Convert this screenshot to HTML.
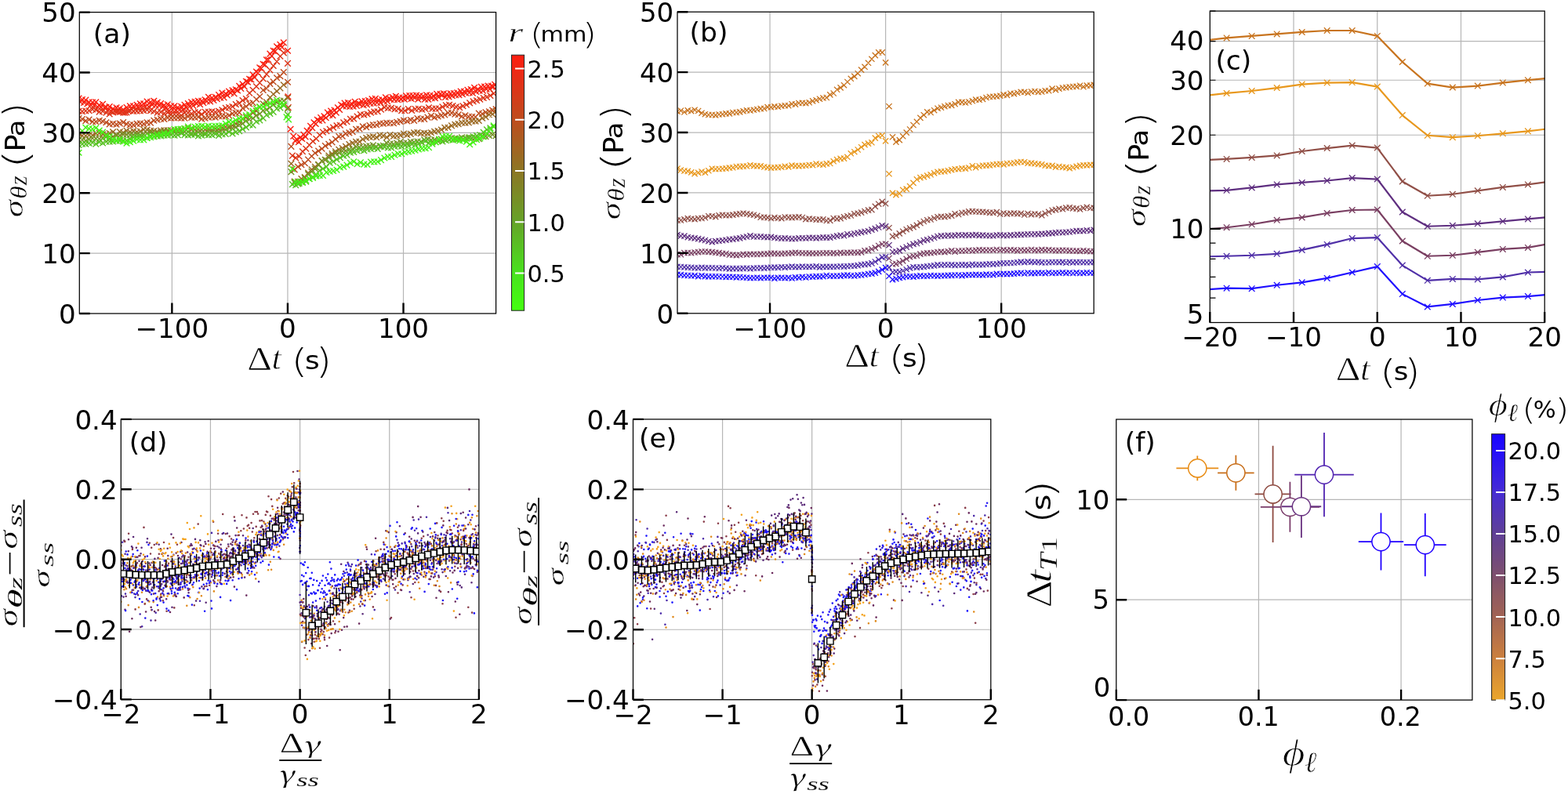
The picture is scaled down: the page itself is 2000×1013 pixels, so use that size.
<!DOCTYPE html><html><head><meta charset="utf-8"><title>Figure</title><style>html,body{margin:0;padding:0;background:#fff}svg{display:block}text{font-kerning:none}</style></head><body>
<svg width="2000" height="1013" viewBox="0 0 2000 1013">
<rect width="2000" height="1013" fill="#fff"/>
<defs>
<clipPath id="cA"><rect x="101.30" y="15.60" width="531.30" height="384.40"/></clipPath>
<clipPath id="cB"><rect x="864.00" y="15.20" width="531.20" height="384.60"/></clipPath>
<clipPath id="cC"><rect x="1543.30" y="14.10" width="426.90" height="397.40"/></clipPath>
<clipPath id="cD"><rect x="154.30" y="534.90" width="456.60" height="357.50"/></clipPath>
<clipPath id="cE"><rect x="807.50" y="534.90" width="456.30" height="357.80"/></clipPath>
<clipPath id="cF"><rect x="1423.80" y="535.00" width="454.10" height="358.10"/></clipPath>
</defs>
<path d="M219.37 15.60V400.00M366.95 15.60V400.00M514.53 15.60V400.00M101.30 323.12H632.60M101.30 246.24H632.60M101.30 169.36H632.60M101.30 92.48H632.60" stroke="#b6b6b6" stroke-width="1.2" fill="none"/>
<g clip-path="url(#cA)">
<path d="M98.9 126.3l7.6 7.6m0 -7.6l-7.6 7.6M103.3 127.1l7.6 7.6m0 -7.6l-7.6 7.6M107.6 128.7l7.6 7.6m0 -7.6l-7.6 7.6M112.0 130.3l7.6 7.6m0 -7.6l-7.6 7.6M116.3 131.0l7.6 7.6m0 -7.6l-7.6 7.6M120.7 132.6l7.6 7.6m0 -7.6l-7.6 7.6M125.0 133.2l7.6 7.6m0 -7.6l-7.6 7.6M129.4 133.6l7.6 7.6m0 -7.6l-7.6 7.6M133.7 136.9l7.6 7.6m0 -7.6l-7.6 7.6M138.1 138.6l7.6 7.6m0 -7.6l-7.6 7.6M142.4 138.0l7.6 7.6m0 -7.6l-7.6 7.6M146.8 138.3l7.6 7.6m0 -7.6l-7.6 7.6M151.1 138.7l7.6 7.6m0 -7.6l-7.6 7.6M155.5 139.8l7.6 7.6m0 -7.6l-7.6 7.6M159.9 137.9l7.6 7.6m0 -7.6l-7.6 7.6M164.2 135.7l7.6 7.6m0 -7.6l-7.6 7.6M168.6 136.1l7.6 7.6m0 -7.6l-7.6 7.6M172.9 133.8l7.6 7.6m0 -7.6l-7.6 7.6M177.3 134.0l7.6 7.6m0 -7.6l-7.6 7.6M181.6 132.6l7.6 7.6m0 -7.6l-7.6 7.6M186.0 132.2l7.6 7.6m0 -7.6l-7.6 7.6M190.3 129.9l7.6 7.6m0 -7.6l-7.6 7.6M194.7 130.7l7.6 7.6m0 -7.6l-7.6 7.6M199.0 130.8l7.6 7.6m0 -7.6l-7.6 7.6M203.4 132.5l7.6 7.6m0 -7.6l-7.6 7.6M207.7 134.4l7.6 7.6m0 -7.6l-7.6 7.6M212.1 137.6l7.6 7.6m0 -7.6l-7.6 7.6M216.5 136.6l7.6 7.6m0 -7.6l-7.6 7.6M220.8 137.1l7.6 7.6m0 -7.6l-7.6 7.6M225.2 136.5l7.6 7.6m0 -7.6l-7.6 7.6M229.5 136.2l7.6 7.6m0 -7.6l-7.6 7.6M233.9 133.4l7.6 7.6m0 -7.6l-7.6 7.6M238.2 132.1l7.6 7.6m0 -7.6l-7.6 7.6M242.6 131.1l7.6 7.6m0 -7.6l-7.6 7.6M246.9 128.4l7.6 7.6m0 -7.6l-7.6 7.6M251.3 129.3l7.6 7.6m0 -7.6l-7.6 7.6M255.6 127.5l7.6 7.6m0 -7.6l-7.6 7.6M260.0 125.5l7.6 7.6m0 -7.6l-7.6 7.6M264.3 125.7l7.6 7.6m0 -7.6l-7.6 7.6M268.7 124.1l7.6 7.6m0 -7.6l-7.6 7.6M273.1 122.5l7.6 7.6m0 -7.6l-7.6 7.6M277.4 121.0l7.6 7.6m0 -7.6l-7.6 7.6M281.8 120.6l7.6 7.6m0 -7.6l-7.6 7.6M286.1 117.7l7.6 7.6m0 -7.6l-7.6 7.6M290.5 114.7l7.6 7.6m0 -7.6l-7.6 7.6M294.8 115.6l7.6 7.6m0 -7.6l-7.6 7.6M299.2 111.6l7.6 7.6m0 -7.6l-7.6 7.6M303.5 109.1l7.6 7.6m0 -7.6l-7.6 7.6M307.9 106.6l7.6 7.6m0 -7.6l-7.6 7.6M312.2 100.8l7.6 7.6m0 -7.6l-7.6 7.6M316.6 97.7l7.6 7.6m0 -7.6l-7.6 7.6M320.9 94.9l7.6 7.6m0 -7.6l-7.6 7.6M325.3 89.2l7.6 7.6m0 -7.6l-7.6 7.6M329.6 83.5l7.6 7.6m0 -7.6l-7.6 7.6M334.0 78.7l7.6 7.6m0 -7.6l-7.6 7.6M338.4 72.4l7.6 7.6m0 -7.6l-7.6 7.6M342.7 67.7l7.6 7.6m0 -7.6l-7.6 7.6M347.1 61.6l7.6 7.6m0 -7.6l-7.6 7.6M351.4 57.4l7.6 7.6m0 -7.6l-7.6 7.6M355.8 56.5l7.6 7.6m0 -7.6l-7.6 7.6M372.7 175.8l7.6 7.6m0 -7.6l-7.6 7.6M377.1 177.3l7.6 7.6m0 -7.6l-7.6 7.6M381.5 173.2l7.6 7.6m0 -7.6l-7.6 7.6M385.8 170.7l7.6 7.6m0 -7.6l-7.6 7.6M390.2 164.9l7.6 7.6m0 -7.6l-7.6 7.6M394.5 159.4l7.6 7.6m0 -7.6l-7.6 7.6M398.9 154.2l7.6 7.6m0 -7.6l-7.6 7.6M403.2 150.2l7.6 7.6m0 -7.6l-7.6 7.6M407.6 149.6l7.6 7.6m0 -7.6l-7.6 7.6M411.9 146.5l7.6 7.6m0 -7.6l-7.6 7.6M416.3 142.8l7.6 7.6m0 -7.6l-7.6 7.6M420.6 143.3l7.6 7.6m0 -7.6l-7.6 7.6M425.0 139.9l7.6 7.6m0 -7.6l-7.6 7.6M429.3 136.2l7.6 7.6m0 -7.6l-7.6 7.6M433.7 131.6l7.6 7.6m0 -7.6l-7.6 7.6M438.0 131.6l7.6 7.6m0 -7.6l-7.6 7.6M442.4 132.2l7.6 7.6m0 -7.6l-7.6 7.6M446.8 131.8l7.6 7.6m0 -7.6l-7.6 7.6M451.1 131.1l7.6 7.6m0 -7.6l-7.6 7.6M455.5 129.0l7.6 7.6m0 -7.6l-7.6 7.6M459.8 130.3l7.6 7.6m0 -7.6l-7.6 7.6M464.2 129.6l7.6 7.6m0 -7.6l-7.6 7.6M468.5 128.2l7.6 7.6m0 -7.6l-7.6 7.6M472.9 127.8l7.6 7.6m0 -7.6l-7.6 7.6M477.2 127.1l7.6 7.6m0 -7.6l-7.6 7.6M481.6 127.1l7.6 7.6m0 -7.6l-7.6 7.6M485.9 125.4l7.6 7.6m0 -7.6l-7.6 7.6M490.3 125.3l7.6 7.6m0 -7.6l-7.6 7.6M494.6 123.2l7.6 7.6m0 -7.6l-7.6 7.6M499.0 123.2l7.6 7.6m0 -7.6l-7.6 7.6M503.4 123.3l7.6 7.6m0 -7.6l-7.6 7.6M507.7 122.4l7.6 7.6m0 -7.6l-7.6 7.6M512.1 123.0l7.6 7.6m0 -7.6l-7.6 7.6M516.4 121.4l7.6 7.6m0 -7.6l-7.6 7.6M520.8 122.1l7.6 7.6m0 -7.6l-7.6 7.6M525.1 121.2l7.6 7.6m0 -7.6l-7.6 7.6M529.5 122.8l7.6 7.6m0 -7.6l-7.6 7.6M533.8 121.1l7.6 7.6m0 -7.6l-7.6 7.6M538.2 122.9l7.6 7.6m0 -7.6l-7.6 7.6M542.5 123.0l7.6 7.6m0 -7.6l-7.6 7.6M546.9 121.3l7.6 7.6m0 -7.6l-7.6 7.6M551.2 121.5l7.6 7.6m0 -7.6l-7.6 7.6M555.6 120.1l7.6 7.6m0 -7.6l-7.6 7.6M560.0 117.8l7.6 7.6m0 -7.6l-7.6 7.6M564.3 120.2l7.6 7.6m0 -7.6l-7.6 7.6M568.7 119.6l7.6 7.6m0 -7.6l-7.6 7.6M573.0 118.4l7.6 7.6m0 -7.6l-7.6 7.6M577.4 117.4l7.6 7.6m0 -7.6l-7.6 7.6M581.7 117.3l7.6 7.6m0 -7.6l-7.6 7.6M586.1 116.5l7.6 7.6m0 -7.6l-7.6 7.6M590.4 114.9l7.6 7.6m0 -7.6l-7.6 7.6M594.8 114.4l7.6 7.6m0 -7.6l-7.6 7.6M599.1 115.0l7.6 7.6m0 -7.6l-7.6 7.6M603.5 113.1l7.6 7.6m0 -7.6l-7.6 7.6M607.8 112.0l7.6 7.6m0 -7.6l-7.6 7.6M612.2 112.0l7.6 7.6m0 -7.6l-7.6 7.6M616.6 109.8l7.6 7.6m0 -7.6l-7.6 7.6M620.9 109.8l7.6 7.6m0 -7.6l-7.6 7.6M625.3 107.1l7.6 7.6m0 -7.6l-7.6 7.6M629.6 107.0l7.6 7.6m0 -7.6l-7.6 7.6" stroke="#f02614" stroke-width="1.40" fill="none"/>
<path d="M96.8 121.7l7.6 7.6m0 -7.6l-7.6 7.6M101.1 123.2l7.6 7.6m0 -7.6l-7.6 7.6M105.5 123.8l7.6 7.6m0 -7.6l-7.6 7.6M109.8 126.6l7.6 7.6m0 -7.6l-7.6 7.6M114.2 126.8l7.6 7.6m0 -7.6l-7.6 7.6M118.5 126.5l7.6 7.6m0 -7.6l-7.6 7.6M122.9 130.3l7.6 7.6m0 -7.6l-7.6 7.6M127.2 129.1l7.6 7.6m0 -7.6l-7.6 7.6M131.6 133.0l7.6 7.6m0 -7.6l-7.6 7.6M135.9 132.3l7.6 7.6m0 -7.6l-7.6 7.6M140.3 134.9l7.6 7.6m0 -7.6l-7.6 7.6M144.7 133.6l7.6 7.6m0 -7.6l-7.6 7.6M149.0 134.4l7.6 7.6m0 -7.6l-7.6 7.6M153.4 136.1l7.6 7.6m0 -7.6l-7.6 7.6M157.7 133.2l7.6 7.6m0 -7.6l-7.6 7.6M162.1 131.6l7.6 7.6m0 -7.6l-7.6 7.6M166.4 131.4l7.6 7.6m0 -7.6l-7.6 7.6M170.8 130.1l7.6 7.6m0 -7.6l-7.6 7.6M175.1 128.6l7.6 7.6m0 -7.6l-7.6 7.6M179.5 128.5l7.6 7.6m0 -7.6l-7.6 7.6M183.8 125.7l7.6 7.6m0 -7.6l-7.6 7.6M188.2 126.4l7.6 7.6m0 -7.6l-7.6 7.6M192.5 125.0l7.6 7.6m0 -7.6l-7.6 7.6M196.9 126.8l7.6 7.6m0 -7.6l-7.6 7.6M201.3 128.2l7.6 7.6m0 -7.6l-7.6 7.6M205.6 130.4l7.6 7.6m0 -7.6l-7.6 7.6M210.0 129.4l7.6 7.6m0 -7.6l-7.6 7.6M214.3 131.6l7.6 7.6m0 -7.6l-7.6 7.6M218.7 131.5l7.6 7.6m0 -7.6l-7.6 7.6M223.0 133.2l7.6 7.6m0 -7.6l-7.6 7.6M227.4 132.1l7.6 7.6m0 -7.6l-7.6 7.6M231.7 129.9l7.6 7.6m0 -7.6l-7.6 7.6M236.1 128.3l7.6 7.6m0 -7.6l-7.6 7.6M240.4 126.5l7.6 7.6m0 -7.6l-7.6 7.6M244.8 126.0l7.6 7.6m0 -7.6l-7.6 7.6M249.1 125.0l7.6 7.6m0 -7.6l-7.6 7.6M253.5 125.0l7.6 7.6m0 -7.6l-7.6 7.6M257.8 123.4l7.6 7.6m0 -7.6l-7.6 7.6M262.2 120.0l7.6 7.6m0 -7.6l-7.6 7.6M266.6 121.0l7.6 7.6m0 -7.6l-7.6 7.6M270.9 120.1l7.6 7.6m0 -7.6l-7.6 7.6M275.3 117.3l7.6 7.6m0 -7.6l-7.6 7.6M279.6 114.7l7.6 7.6m0 -7.6l-7.6 7.6M284.0 115.7l7.6 7.6m0 -7.6l-7.6 7.6M288.3 112.8l7.6 7.6m0 -7.6l-7.6 7.6M292.7 111.4l7.6 7.6m0 -7.6l-7.6 7.6M297.0 110.6l7.6 7.6m0 -7.6l-7.6 7.6M301.4 105.9l7.6 7.6m0 -7.6l-7.6 7.6M305.7 103.4l7.6 7.6m0 -7.6l-7.6 7.6M310.1 100.0l7.6 7.6m0 -7.6l-7.6 7.6M314.4 97.1l7.6 7.6m0 -7.6l-7.6 7.6M318.8 91.4l7.6 7.6m0 -7.6l-7.6 7.6M323.2 87.8l7.6 7.6m0 -7.6l-7.6 7.6M327.5 82.6l7.6 7.6m0 -7.6l-7.6 7.6M331.9 78.0l7.6 7.6m0 -7.6l-7.6 7.6M336.2 72.6l7.6 7.6m0 -7.6l-7.6 7.6M340.6 64.8l7.6 7.6m0 -7.6l-7.6 7.6M344.9 61.1l7.6 7.6m0 -7.6l-7.6 7.6M349.3 55.6l7.6 7.6m0 -7.6l-7.6 7.6M353.6 53.1l7.6 7.6m0 -7.6l-7.6 7.6M358.0 50.6l7.6 7.6m0 -7.6l-7.6 7.6M363.2 61.0l7.6 7.6m0 -7.6l-7.6 7.6M363.6 119.4l7.6 7.6m0 -7.6l-7.6 7.6M366.8 160.9l7.6 7.6m0 -7.6l-7.6 7.6M370.5 169.9l7.6 7.6m0 -7.6l-7.6 7.6M374.9 174.1l7.6 7.6m0 -7.6l-7.6 7.6M379.2 171.6l7.6 7.6m0 -7.6l-7.6 7.6M383.6 167.9l7.6 7.6m0 -7.6l-7.6 7.6M387.9 163.1l7.6 7.6m0 -7.6l-7.6 7.6M392.3 156.9l7.6 7.6m0 -7.6l-7.6 7.6M396.7 152.5l7.6 7.6m0 -7.6l-7.6 7.6M401.0 149.0l7.6 7.6m0 -7.6l-7.6 7.6M405.4 146.3l7.6 7.6m0 -7.6l-7.6 7.6M409.7 144.5l7.6 7.6m0 -7.6l-7.6 7.6M414.1 139.8l7.6 7.6m0 -7.6l-7.6 7.6M418.4 137.7l7.6 7.6m0 -7.6l-7.6 7.6M422.8 136.8l7.6 7.6m0 -7.6l-7.6 7.6M427.1 133.5l7.6 7.6m0 -7.6l-7.6 7.6M431.5 129.9l7.6 7.6m0 -7.6l-7.6 7.6M435.8 127.8l7.6 7.6m0 -7.6l-7.6 7.6M440.2 127.3l7.6 7.6m0 -7.6l-7.6 7.6M444.5 128.3l7.6 7.6m0 -7.6l-7.6 7.6M448.9 125.9l7.6 7.6m0 -7.6l-7.6 7.6M453.2 128.0l7.6 7.6m0 -7.6l-7.6 7.6M457.6 125.5l7.6 7.6m0 -7.6l-7.6 7.6M462.0 125.3l7.6 7.6m0 -7.6l-7.6 7.6M466.3 124.3l7.6 7.6m0 -7.6l-7.6 7.6M470.7 122.5l7.6 7.6m0 -7.6l-7.6 7.6M475.0 122.1l7.6 7.6m0 -7.6l-7.6 7.6M479.4 123.7l7.6 7.6m0 -7.6l-7.6 7.6M483.7 123.4l7.6 7.6m0 -7.6l-7.6 7.6M488.1 120.5l7.6 7.6m0 -7.6l-7.6 7.6M492.4 121.7l7.6 7.6m0 -7.6l-7.6 7.6M496.8 120.2l7.6 7.6m0 -7.6l-7.6 7.6M501.1 118.9l7.6 7.6m0 -7.6l-7.6 7.6M505.5 120.8l7.6 7.6m0 -7.6l-7.6 7.6M509.8 120.9l7.6 7.6m0 -7.6l-7.6 7.6M514.2 118.4l7.6 7.6m0 -7.6l-7.6 7.6M518.6 118.3l7.6 7.6m0 -7.6l-7.6 7.6M522.9 118.3l7.6 7.6m0 -7.6l-7.6 7.6M527.3 117.8l7.6 7.6m0 -7.6l-7.6 7.6M531.6 118.5l7.6 7.6m0 -7.6l-7.6 7.6M536.0 118.9l7.6 7.6m0 -7.6l-7.6 7.6M540.3 117.5l7.6 7.6m0 -7.6l-7.6 7.6M544.7 118.1l7.6 7.6m0 -7.6l-7.6 7.6M549.0 118.5l7.6 7.6m0 -7.6l-7.6 7.6M553.4 116.1l7.6 7.6m0 -7.6l-7.6 7.6M557.7 116.3l7.6 7.6m0 -7.6l-7.6 7.6M562.1 115.4l7.6 7.6m0 -7.6l-7.6 7.6M566.4 116.3l7.6 7.6m0 -7.6l-7.6 7.6M570.8 115.6l7.6 7.6m0 -7.6l-7.6 7.6M575.2 115.3l7.6 7.6m0 -7.6l-7.6 7.6M579.5 114.5l7.6 7.6m0 -7.6l-7.6 7.6M583.9 112.7l7.6 7.6m0 -7.6l-7.6 7.6M588.2 112.9l7.6 7.6m0 -7.6l-7.6 7.6M592.6 111.0l7.6 7.6m0 -7.6l-7.6 7.6M596.9 110.3l7.6 7.6m0 -7.6l-7.6 7.6M601.3 107.9l7.6 7.6m0 -7.6l-7.6 7.6M605.6 110.0l7.6 7.6m0 -7.6l-7.6 7.6M610.0 106.9l7.6 7.6m0 -7.6l-7.6 7.6M614.3 106.8l7.6 7.6m0 -7.6l-7.6 7.6M618.7 105.7l7.6 7.6m0 -7.6l-7.6 7.6M623.0 106.0l7.6 7.6m0 -7.6l-7.6 7.6M627.4 104.0l7.6 7.6m0 -7.6l-7.6 7.6" stroke="#fb2011" stroke-width="1.40" fill="none"/>
<path d="M96.8 138.0l7.6 7.6m0 -7.6l-7.6 7.6M101.1 138.3l7.6 7.6m0 -7.6l-7.6 7.6M105.5 137.7l7.6 7.6m0 -7.6l-7.6 7.6M109.8 137.5l7.6 7.6m0 -7.6l-7.6 7.6M114.2 135.7l7.6 7.6m0 -7.6l-7.6 7.6M118.5 136.4l7.6 7.6m0 -7.6l-7.6 7.6M122.9 139.0l7.6 7.6m0 -7.6l-7.6 7.6M127.2 138.2l7.6 7.6m0 -7.6l-7.6 7.6M131.6 139.9l7.6 7.6m0 -7.6l-7.6 7.6M135.9 141.7l7.6 7.6m0 -7.6l-7.6 7.6M140.3 139.7l7.6 7.6m0 -7.6l-7.6 7.6M144.7 138.1l7.6 7.6m0 -7.6l-7.6 7.6M149.0 139.1l7.6 7.6m0 -7.6l-7.6 7.6M153.4 140.0l7.6 7.6m0 -7.6l-7.6 7.6M157.7 139.6l7.6 7.6m0 -7.6l-7.6 7.6M162.1 137.5l7.6 7.6m0 -7.6l-7.6 7.6M166.4 138.1l7.6 7.6m0 -7.6l-7.6 7.6M170.8 137.9l7.6 7.6m0 -7.6l-7.6 7.6M175.1 137.7l7.6 7.6m0 -7.6l-7.6 7.6M179.5 137.3l7.6 7.6m0 -7.6l-7.6 7.6M183.8 136.5l7.6 7.6m0 -7.6l-7.6 7.6M188.2 137.3l7.6 7.6m0 -7.6l-7.6 7.6M192.5 138.2l7.6 7.6m0 -7.6l-7.6 7.6M196.9 140.0l7.6 7.6m0 -7.6l-7.6 7.6M201.3 139.2l7.6 7.6m0 -7.6l-7.6 7.6M205.6 140.9l7.6 7.6m0 -7.6l-7.6 7.6M210.0 139.7l7.6 7.6m0 -7.6l-7.6 7.6M214.3 142.4l7.6 7.6m0 -7.6l-7.6 7.6M218.7 141.8l7.6 7.6m0 -7.6l-7.6 7.6M223.0 142.2l7.6 7.6m0 -7.6l-7.6 7.6M227.4 143.5l7.6 7.6m0 -7.6l-7.6 7.6M231.7 140.2l7.6 7.6m0 -7.6l-7.6 7.6M236.1 139.9l7.6 7.6m0 -7.6l-7.6 7.6M240.4 141.2l7.6 7.6m0 -7.6l-7.6 7.6M244.8 139.5l7.6 7.6m0 -7.6l-7.6 7.6M249.1 139.5l7.6 7.6m0 -7.6l-7.6 7.6M253.5 141.9l7.6 7.6m0 -7.6l-7.6 7.6M257.8 139.0l7.6 7.6m0 -7.6l-7.6 7.6M262.2 138.9l7.6 7.6m0 -7.6l-7.6 7.6M266.6 138.4l7.6 7.6m0 -7.6l-7.6 7.6M270.9 139.2l7.6 7.6m0 -7.6l-7.6 7.6M275.3 137.9l7.6 7.6m0 -7.6l-7.6 7.6M279.6 136.5l7.6 7.6m0 -7.6l-7.6 7.6M284.0 133.9l7.6 7.6m0 -7.6l-7.6 7.6M288.3 133.3l7.6 7.6m0 -7.6l-7.6 7.6M292.7 132.2l7.6 7.6m0 -7.6l-7.6 7.6M297.0 129.3l7.6 7.6m0 -7.6l-7.6 7.6M301.4 127.8l7.6 7.6m0 -7.6l-7.6 7.6M305.7 124.3l7.6 7.6m0 -7.6l-7.6 7.6M310.1 122.2l7.6 7.6m0 -7.6l-7.6 7.6M314.4 114.9l7.6 7.6m0 -7.6l-7.6 7.6M318.8 110.9l7.6 7.6m0 -7.6l-7.6 7.6M323.2 106.4l7.6 7.6m0 -7.6l-7.6 7.6M327.5 101.8l7.6 7.6m0 -7.6l-7.6 7.6M331.9 96.7l7.6 7.6m0 -7.6l-7.6 7.6M336.2 90.9l7.6 7.6m0 -7.6l-7.6 7.6M340.6 85.6l7.6 7.6m0 -7.6l-7.6 7.6M344.9 80.2l7.6 7.6m0 -7.6l-7.6 7.6M349.3 74.7l7.6 7.6m0 -7.6l-7.6 7.6M353.6 68.0l7.6 7.6m0 -7.6l-7.6 7.6M358.0 63.6l7.6 7.6m0 -7.6l-7.6 7.6M363.2 77.1l7.6 7.6m0 -7.6l-7.6 7.6M363.9 133.3l7.6 7.6m0 -7.6l-7.6 7.6M369.1 194.8l7.6 7.6m0 -7.6l-7.6 7.6M373.4 197.6l7.6 7.6m0 -7.6l-7.6 7.6M377.8 195.7l7.6 7.6m0 -7.6l-7.6 7.6M382.1 189.4l7.6 7.6m0 -7.6l-7.6 7.6M386.5 186.0l7.6 7.6m0 -7.6l-7.6 7.6M390.8 181.2l7.6 7.6m0 -7.6l-7.6 7.6M395.2 176.4l7.6 7.6m0 -7.6l-7.6 7.6M399.5 173.2l7.6 7.6m0 -7.6l-7.6 7.6M403.9 168.4l7.6 7.6m0 -7.6l-7.6 7.6M408.2 164.8l7.6 7.6m0 -7.6l-7.6 7.6M412.6 163.4l7.6 7.6m0 -7.6l-7.6 7.6M416.9 160.9l7.6 7.6m0 -7.6l-7.6 7.6M421.3 158.8l7.6 7.6m0 -7.6l-7.6 7.6M425.7 156.4l7.6 7.6m0 -7.6l-7.6 7.6M430.0 155.9l7.6 7.6m0 -7.6l-7.6 7.6M434.4 152.6l7.6 7.6m0 -7.6l-7.6 7.6M438.7 151.3l7.6 7.6m0 -7.6l-7.6 7.6M443.1 148.0l7.6 7.6m0 -7.6l-7.6 7.6M447.4 147.7l7.6 7.6m0 -7.6l-7.6 7.6M451.8 144.7l7.6 7.6m0 -7.6l-7.6 7.6M456.1 142.2l7.6 7.6m0 -7.6l-7.6 7.6M460.5 142.7l7.6 7.6m0 -7.6l-7.6 7.6M464.8 141.7l7.6 7.6m0 -7.6l-7.6 7.6M469.2 139.8l7.6 7.6m0 -7.6l-7.6 7.6M473.5 138.7l7.6 7.6m0 -7.6l-7.6 7.6M477.9 138.4l7.6 7.6m0 -7.6l-7.6 7.6M482.2 135.9l7.6 7.6m0 -7.6l-7.6 7.6M486.6 133.2l7.6 7.6m0 -7.6l-7.6 7.6M491.0 134.1l7.6 7.6m0 -7.6l-7.6 7.6M495.3 133.9l7.6 7.6m0 -7.6l-7.6 7.6M499.7 135.5l7.6 7.6m0 -7.6l-7.6 7.6M504.0 135.1l7.6 7.6m0 -7.6l-7.6 7.6M508.4 137.3l7.6 7.6m0 -7.6l-7.6 7.6M512.7 137.4l7.6 7.6m0 -7.6l-7.6 7.6M517.1 135.2l7.6 7.6m0 -7.6l-7.6 7.6M521.4 137.2l7.6 7.6m0 -7.6l-7.6 7.6M525.8 135.3l7.6 7.6m0 -7.6l-7.6 7.6M530.1 134.9l7.6 7.6m0 -7.6l-7.6 7.6M534.5 135.9l7.6 7.6m0 -7.6l-7.6 7.6M538.8 135.2l7.6 7.6m0 -7.6l-7.6 7.6M543.2 133.4l7.6 7.6m0 -7.6l-7.6 7.6M547.6 134.9l7.6 7.6m0 -7.6l-7.6 7.6M551.9 134.8l7.6 7.6m0 -7.6l-7.6 7.6M556.3 134.7l7.6 7.6m0 -7.6l-7.6 7.6M560.6 132.6l7.6 7.6m0 -7.6l-7.6 7.6M565.0 130.4l7.6 7.6m0 -7.6l-7.6 7.6M569.3 130.0l7.6 7.6m0 -7.6l-7.6 7.6M573.7 131.3l7.6 7.6m0 -7.6l-7.6 7.6M578.0 132.6l7.6 7.6m0 -7.6l-7.6 7.6M582.4 133.5l7.6 7.6m0 -7.6l-7.6 7.6M586.7 131.4l7.6 7.6m0 -7.6l-7.6 7.6M591.1 129.9l7.6 7.6m0 -7.6l-7.6 7.6M595.4 127.6l7.6 7.6m0 -7.6l-7.6 7.6M599.8 125.6l7.6 7.6m0 -7.6l-7.6 7.6M604.2 124.5l7.6 7.6m0 -7.6l-7.6 7.6M608.5 122.9l7.6 7.6m0 -7.6l-7.6 7.6M612.9 121.2l7.6 7.6m0 -7.6l-7.6 7.6M617.2 120.1l7.6 7.6m0 -7.6l-7.6 7.6M621.6 118.2l7.6 7.6m0 -7.6l-7.6 7.6M625.9 115.5l7.6 7.6m0 -7.6l-7.6 7.6" stroke="#dc3518" stroke-width="1.40" fill="none"/>
<path d="M96.8 147.3l7.6 7.6m0 -7.6l-7.6 7.6M101.1 148.2l7.6 7.6m0 -7.6l-7.6 7.6M105.5 150.3l7.6 7.6m0 -7.6l-7.6 7.6M109.8 148.8l7.6 7.6m0 -7.6l-7.6 7.6M114.2 151.4l7.6 7.6m0 -7.6l-7.6 7.6M118.5 151.4l7.6 7.6m0 -7.6l-7.6 7.6M122.9 150.0l7.6 7.6m0 -7.6l-7.6 7.6M127.2 150.9l7.6 7.6m0 -7.6l-7.6 7.6M131.6 152.4l7.6 7.6m0 -7.6l-7.6 7.6M135.9 154.6l7.6 7.6m0 -7.6l-7.6 7.6M140.3 154.1l7.6 7.6m0 -7.6l-7.6 7.6M144.7 154.8l7.6 7.6m0 -7.6l-7.6 7.6M149.0 153.7l7.6 7.6m0 -7.6l-7.6 7.6M153.4 152.3l7.6 7.6m0 -7.6l-7.6 7.6M157.7 154.4l7.6 7.6m0 -7.6l-7.6 7.6M162.1 155.5l7.6 7.6m0 -7.6l-7.6 7.6M166.4 155.6l7.6 7.6m0 -7.6l-7.6 7.6M170.8 154.1l7.6 7.6m0 -7.6l-7.6 7.6M175.1 153.8l7.6 7.6m0 -7.6l-7.6 7.6M179.5 154.2l7.6 7.6m0 -7.6l-7.6 7.6M183.8 152.6l7.6 7.6m0 -7.6l-7.6 7.6M188.2 153.0l7.6 7.6m0 -7.6l-7.6 7.6M192.5 149.9l7.6 7.6m0 -7.6l-7.6 7.6M196.9 148.9l7.6 7.6m0 -7.6l-7.6 7.6M201.3 147.8l7.6 7.6m0 -7.6l-7.6 7.6M205.6 148.2l7.6 7.6m0 -7.6l-7.6 7.6M210.0 146.5l7.6 7.6m0 -7.6l-7.6 7.6M214.3 146.8l7.6 7.6m0 -7.6l-7.6 7.6M218.7 146.7l7.6 7.6m0 -7.6l-7.6 7.6M223.0 146.4l7.6 7.6m0 -7.6l-7.6 7.6M227.4 147.0l7.6 7.6m0 -7.6l-7.6 7.6M231.7 147.0l7.6 7.6m0 -7.6l-7.6 7.6M236.1 145.0l7.6 7.6m0 -7.6l-7.6 7.6M240.4 146.1l7.6 7.6m0 -7.6l-7.6 7.6M244.8 145.9l7.6 7.6m0 -7.6l-7.6 7.6M249.1 145.3l7.6 7.6m0 -7.6l-7.6 7.6M253.5 147.9l7.6 7.6m0 -7.6l-7.6 7.6M257.8 146.9l7.6 7.6m0 -7.6l-7.6 7.6M262.2 145.8l7.6 7.6m0 -7.6l-7.6 7.6M266.6 145.5l7.6 7.6m0 -7.6l-7.6 7.6M270.9 146.0l7.6 7.6m0 -7.6l-7.6 7.6M275.3 144.5l7.6 7.6m0 -7.6l-7.6 7.6M279.6 144.3l7.6 7.6m0 -7.6l-7.6 7.6M284.0 144.7l7.6 7.6m0 -7.6l-7.6 7.6M288.3 143.6l7.6 7.6m0 -7.6l-7.6 7.6M292.7 141.1l7.6 7.6m0 -7.6l-7.6 7.6M297.0 140.3l7.6 7.6m0 -7.6l-7.6 7.6M301.4 139.8l7.6 7.6m0 -7.6l-7.6 7.6M305.7 134.1l7.6 7.6m0 -7.6l-7.6 7.6M310.1 132.1l7.6 7.6m0 -7.6l-7.6 7.6M314.4 128.6l7.6 7.6m0 -7.6l-7.6 7.6M318.8 127.5l7.6 7.6m0 -7.6l-7.6 7.6M323.2 122.9l7.6 7.6m0 -7.6l-7.6 7.6M327.5 119.2l7.6 7.6m0 -7.6l-7.6 7.6M331.9 111.2l7.6 7.6m0 -7.6l-7.6 7.6M336.2 109.2l7.6 7.6m0 -7.6l-7.6 7.6M340.6 103.1l7.6 7.6m0 -7.6l-7.6 7.6M344.9 100.6l7.6 7.6m0 -7.6l-7.6 7.6M349.3 95.4l7.6 7.6m0 -7.6l-7.6 7.6M353.6 93.3l7.6 7.6m0 -7.6l-7.6 7.6M358.0 88.3l7.6 7.6m0 -7.6l-7.6 7.6M363.2 101.0l7.6 7.6m0 -7.6l-7.6 7.6M367.6 183.1l7.6 7.6m0 -7.6l-7.6 7.6M371.9 212.6l7.6 7.6m0 -7.6l-7.6 7.6M376.3 208.9l7.6 7.6m0 -7.6l-7.6 7.6M380.6 206.4l7.6 7.6m0 -7.6l-7.6 7.6M385.0 204.4l7.6 7.6m0 -7.6l-7.6 7.6M389.3 199.8l7.6 7.6m0 -7.6l-7.6 7.6M393.7 195.5l7.6 7.6m0 -7.6l-7.6 7.6M398.1 191.5l7.6 7.6m0 -7.6l-7.6 7.6M402.4 188.8l7.6 7.6m0 -7.6l-7.6 7.6M406.8 186.0l7.6 7.6m0 -7.6l-7.6 7.6M411.1 182.3l7.6 7.6m0 -7.6l-7.6 7.6M415.5 179.9l7.6 7.6m0 -7.6l-7.6 7.6M419.8 177.6l7.6 7.6m0 -7.6l-7.6 7.6M424.2 173.8l7.6 7.6m0 -7.6l-7.6 7.6M428.5 170.3l7.6 7.6m0 -7.6l-7.6 7.6M432.9 169.9l7.6 7.6m0 -7.6l-7.6 7.6M437.2 166.7l7.6 7.6m0 -7.6l-7.6 7.6M441.6 165.6l7.6 7.6m0 -7.6l-7.6 7.6M445.9 164.3l7.6 7.6m0 -7.6l-7.6 7.6M450.3 161.0l7.6 7.6m0 -7.6l-7.6 7.6M454.7 160.7l7.6 7.6m0 -7.6l-7.6 7.6M459.0 157.6l7.6 7.6m0 -7.6l-7.6 7.6M463.4 158.5l7.6 7.6m0 -7.6l-7.6 7.6M467.7 156.2l7.6 7.6m0 -7.6l-7.6 7.6M472.1 155.5l7.6 7.6m0 -7.6l-7.6 7.6M476.4 155.3l7.6 7.6m0 -7.6l-7.6 7.6M480.8 153.7l7.6 7.6m0 -7.6l-7.6 7.6M485.1 154.0l7.6 7.6m0 -7.6l-7.6 7.6M489.5 153.0l7.6 7.6m0 -7.6l-7.6 7.6M493.8 153.2l7.6 7.6m0 -7.6l-7.6 7.6M498.2 153.5l7.6 7.6m0 -7.6l-7.6 7.6M502.5 151.9l7.6 7.6m0 -7.6l-7.6 7.6M506.9 151.1l7.6 7.6m0 -7.6l-7.6 7.6M511.2 149.7l7.6 7.6m0 -7.6l-7.6 7.6M515.6 150.7l7.6 7.6m0 -7.6l-7.6 7.6M520.0 149.2l7.6 7.6m0 -7.6l-7.6 7.6M524.3 150.1l7.6 7.6m0 -7.6l-7.6 7.6M528.7 147.2l7.6 7.6m0 -7.6l-7.6 7.6M533.0 148.1l7.6 7.6m0 -7.6l-7.6 7.6M537.4 148.1l7.6 7.6m0 -7.6l-7.6 7.6M541.7 145.8l7.6 7.6m0 -7.6l-7.6 7.6M546.1 144.1l7.6 7.6m0 -7.6l-7.6 7.6M550.4 145.9l7.6 7.6m0 -7.6l-7.6 7.6M554.8 144.7l7.6 7.6m0 -7.6l-7.6 7.6M559.1 143.4l7.6 7.6m0 -7.6l-7.6 7.6M563.5 142.7l7.6 7.6m0 -7.6l-7.6 7.6M567.8 140.2l7.6 7.6m0 -7.6l-7.6 7.6M572.2 140.3l7.6 7.6m0 -7.6l-7.6 7.6M576.6 141.8l7.6 7.6m0 -7.6l-7.6 7.6M580.9 142.5l7.6 7.6m0 -7.6l-7.6 7.6M585.3 144.7l7.6 7.6m0 -7.6l-7.6 7.6M589.6 143.6l7.6 7.6m0 -7.6l-7.6 7.6M594.0 144.9l7.6 7.6m0 -7.6l-7.6 7.6M598.3 145.2l7.6 7.6m0 -7.6l-7.6 7.6M602.7 145.6l7.6 7.6m0 -7.6l-7.6 7.6M607.0 140.8l7.6 7.6m0 -7.6l-7.6 7.6M611.4 141.4l7.6 7.6m0 -7.6l-7.6 7.6M615.7 139.5l7.6 7.6m0 -7.6l-7.6 7.6M620.1 138.4l7.6 7.6m0 -7.6l-7.6 7.6M624.4 136.8l7.6 7.6m0 -7.6l-7.6 7.6M628.8 135.5l7.6 7.6m0 -7.6l-7.6 7.6" stroke="#be4c1e" stroke-width="1.40" fill="none"/>
<path d="M96.8 166.9l7.6 7.6m0 -7.6l-7.6 7.6M101.1 169.3l7.6 7.6m0 -7.6l-7.6 7.6M105.5 169.5l7.6 7.6m0 -7.6l-7.6 7.6M109.8 168.7l7.6 7.6m0 -7.6l-7.6 7.6M114.2 168.7l7.6 7.6m0 -7.6l-7.6 7.6M118.5 166.5l7.6 7.6m0 -7.6l-7.6 7.6M122.9 166.1l7.6 7.6m0 -7.6l-7.6 7.6M127.2 167.5l7.6 7.6m0 -7.6l-7.6 7.6M131.6 167.6l7.6 7.6m0 -7.6l-7.6 7.6M135.9 166.3l7.6 7.6m0 -7.6l-7.6 7.6M140.3 164.4l7.6 7.6m0 -7.6l-7.6 7.6M144.7 167.9l7.6 7.6m0 -7.6l-7.6 7.6M149.0 164.3l7.6 7.6m0 -7.6l-7.6 7.6M153.4 165.3l7.6 7.6m0 -7.6l-7.6 7.6M157.7 162.9l7.6 7.6m0 -7.6l-7.6 7.6M162.1 164.4l7.6 7.6m0 -7.6l-7.6 7.6M166.4 163.4l7.6 7.6m0 -7.6l-7.6 7.6M170.8 164.4l7.6 7.6m0 -7.6l-7.6 7.6M175.1 163.8l7.6 7.6m0 -7.6l-7.6 7.6M179.5 161.4l7.6 7.6m0 -7.6l-7.6 7.6M183.8 161.8l7.6 7.6m0 -7.6l-7.6 7.6M188.2 162.9l7.6 7.6m0 -7.6l-7.6 7.6M192.5 163.3l7.6 7.6m0 -7.6l-7.6 7.6M196.9 164.2l7.6 7.6m0 -7.6l-7.6 7.6M201.3 162.8l7.6 7.6m0 -7.6l-7.6 7.6M205.6 162.5l7.6 7.6m0 -7.6l-7.6 7.6M210.0 162.6l7.6 7.6m0 -7.6l-7.6 7.6M214.3 162.6l7.6 7.6m0 -7.6l-7.6 7.6M218.7 163.4l7.6 7.6m0 -7.6l-7.6 7.6M223.0 162.2l7.6 7.6m0 -7.6l-7.6 7.6M227.4 161.9l7.6 7.6m0 -7.6l-7.6 7.6M231.7 160.5l7.6 7.6m0 -7.6l-7.6 7.6M236.1 159.7l7.6 7.6m0 -7.6l-7.6 7.6M240.4 161.3l7.6 7.6m0 -7.6l-7.6 7.6M244.8 161.7l7.6 7.6m0 -7.6l-7.6 7.6M249.1 161.0l7.6 7.6m0 -7.6l-7.6 7.6M253.5 161.5l7.6 7.6m0 -7.6l-7.6 7.6M257.8 161.6l7.6 7.6m0 -7.6l-7.6 7.6M262.2 161.0l7.6 7.6m0 -7.6l-7.6 7.6M266.6 161.9l7.6 7.6m0 -7.6l-7.6 7.6M270.9 160.4l7.6 7.6m0 -7.6l-7.6 7.6M275.3 160.8l7.6 7.6m0 -7.6l-7.6 7.6M279.6 159.1l7.6 7.6m0 -7.6l-7.6 7.6M284.0 158.2l7.6 7.6m0 -7.6l-7.6 7.6M288.3 157.3l7.6 7.6m0 -7.6l-7.6 7.6M292.7 156.2l7.6 7.6m0 -7.6l-7.6 7.6M297.0 154.1l7.6 7.6m0 -7.6l-7.6 7.6M301.4 151.6l7.6 7.6m0 -7.6l-7.6 7.6M305.7 148.2l7.6 7.6m0 -7.6l-7.6 7.6M310.1 145.7l7.6 7.6m0 -7.6l-7.6 7.6M314.4 144.2l7.6 7.6m0 -7.6l-7.6 7.6M318.8 140.2l7.6 7.6m0 -7.6l-7.6 7.6M323.2 137.6l7.6 7.6m0 -7.6l-7.6 7.6M327.5 133.0l7.6 7.6m0 -7.6l-7.6 7.6M331.9 128.7l7.6 7.6m0 -7.6l-7.6 7.6M336.2 126.4l7.6 7.6m0 -7.6l-7.6 7.6M340.6 120.5l7.6 7.6m0 -7.6l-7.6 7.6M344.9 116.3l7.6 7.6m0 -7.6l-7.6 7.6M349.3 112.5l7.6 7.6m0 -7.6l-7.6 7.6M353.6 108.6l7.6 7.6m0 -7.6l-7.6 7.6M358.0 104.4l7.6 7.6m0 -7.6l-7.6 7.6M363.2 121.0l7.6 7.6m0 -7.6l-7.6 7.6M367.6 204.9l7.6 7.6m0 -7.6l-7.6 7.6M371.9 227.8l7.6 7.6m0 -7.6l-7.6 7.6M376.3 228.1l7.6 7.6m0 -7.6l-7.6 7.6M380.6 224.3l7.6 7.6m0 -7.6l-7.6 7.6M385.0 222.2l7.6 7.6m0 -7.6l-7.6 7.6M389.3 216.8l7.6 7.6m0 -7.6l-7.6 7.6M393.7 212.6l7.6 7.6m0 -7.6l-7.6 7.6M398.1 209.1l7.6 7.6m0 -7.6l-7.6 7.6M402.4 205.9l7.6 7.6m0 -7.6l-7.6 7.6M406.8 201.5l7.6 7.6m0 -7.6l-7.6 7.6M411.1 200.0l7.6 7.6m0 -7.6l-7.6 7.6M415.5 194.7l7.6 7.6m0 -7.6l-7.6 7.6M419.8 192.3l7.6 7.6m0 -7.6l-7.6 7.6M424.2 189.6l7.6 7.6m0 -7.6l-7.6 7.6M428.5 186.9l7.6 7.6m0 -7.6l-7.6 7.6M432.9 185.3l7.6 7.6m0 -7.6l-7.6 7.6M437.2 182.9l7.6 7.6m0 -7.6l-7.6 7.6M441.6 180.3l7.6 7.6m0 -7.6l-7.6 7.6M445.9 178.7l7.6 7.6m0 -7.6l-7.6 7.6M450.3 177.1l7.6 7.6m0 -7.6l-7.6 7.6M454.7 177.0l7.6 7.6m0 -7.6l-7.6 7.6M459.0 173.8l7.6 7.6m0 -7.6l-7.6 7.6M463.4 172.0l7.6 7.6m0 -7.6l-7.6 7.6M467.7 171.0l7.6 7.6m0 -7.6l-7.6 7.6M472.1 170.5l7.6 7.6m0 -7.6l-7.6 7.6M476.4 171.4l7.6 7.6m0 -7.6l-7.6 7.6M480.8 168.7l7.6 7.6m0 -7.6l-7.6 7.6M485.1 169.4l7.6 7.6m0 -7.6l-7.6 7.6M489.5 171.3l7.6 7.6m0 -7.6l-7.6 7.6M493.8 168.3l7.6 7.6m0 -7.6l-7.6 7.6M498.2 169.8l7.6 7.6m0 -7.6l-7.6 7.6M502.5 169.5l7.6 7.6m0 -7.6l-7.6 7.6M506.9 168.7l7.6 7.6m0 -7.6l-7.6 7.6M511.2 166.8l7.6 7.6m0 -7.6l-7.6 7.6M515.6 168.1l7.6 7.6m0 -7.6l-7.6 7.6M520.0 167.1l7.6 7.6m0 -7.6l-7.6 7.6M524.3 165.4l7.6 7.6m0 -7.6l-7.6 7.6M528.7 165.2l7.6 7.6m0 -7.6l-7.6 7.6M533.0 166.4l7.6 7.6m0 -7.6l-7.6 7.6M537.4 166.0l7.6 7.6m0 -7.6l-7.6 7.6M541.7 166.5l7.6 7.6m0 -7.6l-7.6 7.6M546.1 165.5l7.6 7.6m0 -7.6l-7.6 7.6M550.4 164.0l7.6 7.6m0 -7.6l-7.6 7.6M554.8 163.2l7.6 7.6m0 -7.6l-7.6 7.6M559.1 161.7l7.6 7.6m0 -7.6l-7.6 7.6M563.5 159.1l7.6 7.6m0 -7.6l-7.6 7.6M567.8 159.0l7.6 7.6m0 -7.6l-7.6 7.6M572.2 156.6l7.6 7.6m0 -7.6l-7.6 7.6M576.6 154.9l7.6 7.6m0 -7.6l-7.6 7.6M580.9 154.3l7.6 7.6m0 -7.6l-7.6 7.6M585.3 153.0l7.6 7.6m0 -7.6l-7.6 7.6M589.6 152.8l7.6 7.6m0 -7.6l-7.6 7.6M594.0 152.6l7.6 7.6m0 -7.6l-7.6 7.6M598.3 150.8l7.6 7.6m0 -7.6l-7.6 7.6M602.7 150.8l7.6 7.6m0 -7.6l-7.6 7.6M607.0 150.2l7.6 7.6m0 -7.6l-7.6 7.6M611.4 146.9l7.6 7.6m0 -7.6l-7.6 7.6M615.7 145.4l7.6 7.6m0 -7.6l-7.6 7.6M620.1 142.5l7.6 7.6m0 -7.6l-7.6 7.6M624.4 141.9l7.6 7.6m0 -7.6l-7.6 7.6M628.8 138.2l7.6 7.6m0 -7.6l-7.6 7.6" stroke="#9b6922" stroke-width="1.40" fill="none"/>
<path d="M96.8 174.6l7.6 7.6m0 -7.6l-7.6 7.6M101.1 174.7l7.6 7.6m0 -7.6l-7.6 7.6M105.5 175.8l7.6 7.6m0 -7.6l-7.6 7.6M109.8 173.9l7.6 7.6m0 -7.6l-7.6 7.6M114.2 172.6l7.6 7.6m0 -7.6l-7.6 7.6M118.5 172.9l7.6 7.6m0 -7.6l-7.6 7.6M122.9 173.4l7.6 7.6m0 -7.6l-7.6 7.6M127.2 172.2l7.6 7.6m0 -7.6l-7.6 7.6M131.6 170.9l7.6 7.6m0 -7.6l-7.6 7.6M135.9 173.5l7.6 7.6m0 -7.6l-7.6 7.6M140.3 170.5l7.6 7.6m0 -7.6l-7.6 7.6M144.7 169.5l7.6 7.6m0 -7.6l-7.6 7.6M149.0 169.0l7.6 7.6m0 -7.6l-7.6 7.6M153.4 167.8l7.6 7.6m0 -7.6l-7.6 7.6M157.7 168.0l7.6 7.6m0 -7.6l-7.6 7.6M162.1 168.5l7.6 7.6m0 -7.6l-7.6 7.6M166.4 168.2l7.6 7.6m0 -7.6l-7.6 7.6M170.8 167.4l7.6 7.6m0 -7.6l-7.6 7.6M175.1 168.4l7.6 7.6m0 -7.6l-7.6 7.6M179.5 167.6l7.6 7.6m0 -7.6l-7.6 7.6M183.8 166.4l7.6 7.6m0 -7.6l-7.6 7.6M188.2 165.1l7.6 7.6m0 -7.6l-7.6 7.6M192.5 166.6l7.6 7.6m0 -7.6l-7.6 7.6M196.9 166.0l7.6 7.6m0 -7.6l-7.6 7.6M201.3 165.3l7.6 7.6m0 -7.6l-7.6 7.6M205.6 163.8l7.6 7.6m0 -7.6l-7.6 7.6M210.0 164.6l7.6 7.6m0 -7.6l-7.6 7.6M214.3 162.8l7.6 7.6m0 -7.6l-7.6 7.6M218.7 165.1l7.6 7.6m0 -7.6l-7.6 7.6M223.0 164.6l7.6 7.6m0 -7.6l-7.6 7.6M227.4 164.8l7.6 7.6m0 -7.6l-7.6 7.6M231.7 164.1l7.6 7.6m0 -7.6l-7.6 7.6M236.1 164.1l7.6 7.6m0 -7.6l-7.6 7.6M240.4 166.7l7.6 7.6m0 -7.6l-7.6 7.6M244.8 166.4l7.6 7.6m0 -7.6l-7.6 7.6M249.1 165.0l7.6 7.6m0 -7.6l-7.6 7.6M253.5 165.7l7.6 7.6m0 -7.6l-7.6 7.6M257.8 166.3l7.6 7.6m0 -7.6l-7.6 7.6M262.2 163.7l7.6 7.6m0 -7.6l-7.6 7.6M266.6 164.0l7.6 7.6m0 -7.6l-7.6 7.6M270.9 163.8l7.6 7.6m0 -7.6l-7.6 7.6M275.3 164.3l7.6 7.6m0 -7.6l-7.6 7.6M279.6 161.7l7.6 7.6m0 -7.6l-7.6 7.6M284.0 161.6l7.6 7.6m0 -7.6l-7.6 7.6M288.3 159.2l7.6 7.6m0 -7.6l-7.6 7.6M292.7 159.8l7.6 7.6m0 -7.6l-7.6 7.6M297.0 158.5l7.6 7.6m0 -7.6l-7.6 7.6M301.4 155.3l7.6 7.6m0 -7.6l-7.6 7.6M305.7 153.8l7.6 7.6m0 -7.6l-7.6 7.6M310.1 150.3l7.6 7.6m0 -7.6l-7.6 7.6M314.4 148.4l7.6 7.6m0 -7.6l-7.6 7.6M318.8 147.2l7.6 7.6m0 -7.6l-7.6 7.6M323.2 143.6l7.6 7.6m0 -7.6l-7.6 7.6M327.5 141.3l7.6 7.6m0 -7.6l-7.6 7.6M331.9 137.4l7.6 7.6m0 -7.6l-7.6 7.6M336.2 136.1l7.6 7.6m0 -7.6l-7.6 7.6M340.6 133.2l7.6 7.6m0 -7.6l-7.6 7.6M344.9 129.6l7.6 7.6m0 -7.6l-7.6 7.6M349.3 126.7l7.6 7.6m0 -7.6l-7.6 7.6M353.6 124.9l7.6 7.6m0 -7.6l-7.6 7.6M358.0 124.8l7.6 7.6m0 -7.6l-7.6 7.6M363.2 134.8l7.6 7.6m0 -7.6l-7.6 7.6M367.6 215.3l7.6 7.6m0 -7.6l-7.6 7.6M371.9 229.2l7.6 7.6m0 -7.6l-7.6 7.6M376.3 230.7l7.6 7.6m0 -7.6l-7.6 7.6M380.6 227.9l7.6 7.6m0 -7.6l-7.6 7.6M385.0 223.4l7.6 7.6m0 -7.6l-7.6 7.6M389.3 218.6l7.6 7.6m0 -7.6l-7.6 7.6M393.7 215.2l7.6 7.6m0 -7.6l-7.6 7.6M398.1 211.4l7.6 7.6m0 -7.6l-7.6 7.6M402.4 206.7l7.6 7.6m0 -7.6l-7.6 7.6M406.8 201.3l7.6 7.6m0 -7.6l-7.6 7.6M411.1 200.2l7.6 7.6m0 -7.6l-7.6 7.6M415.5 197.2l7.6 7.6m0 -7.6l-7.6 7.6M419.8 194.5l7.6 7.6m0 -7.6l-7.6 7.6M424.2 191.7l7.6 7.6m0 -7.6l-7.6 7.6M428.5 190.9l7.6 7.6m0 -7.6l-7.6 7.6M432.9 188.8l7.6 7.6m0 -7.6l-7.6 7.6M437.2 188.6l7.6 7.6m0 -7.6l-7.6 7.6M441.6 186.8l7.6 7.6m0 -7.6l-7.6 7.6M445.9 186.2l7.6 7.6m0 -7.6l-7.6 7.6M450.3 183.5l7.6 7.6m0 -7.6l-7.6 7.6M454.7 183.9l7.6 7.6m0 -7.6l-7.6 7.6M459.0 183.9l7.6 7.6m0 -7.6l-7.6 7.6M463.4 182.8l7.6 7.6m0 -7.6l-7.6 7.6M467.7 182.5l7.6 7.6m0 -7.6l-7.6 7.6M472.1 181.5l7.6 7.6m0 -7.6l-7.6 7.6M476.4 183.5l7.6 7.6m0 -7.6l-7.6 7.6M480.8 182.8l7.6 7.6m0 -7.6l-7.6 7.6M485.1 181.9l7.6 7.6m0 -7.6l-7.6 7.6M489.5 178.7l7.6 7.6m0 -7.6l-7.6 7.6M493.8 179.7l7.6 7.6m0 -7.6l-7.6 7.6M498.2 180.1l7.6 7.6m0 -7.6l-7.6 7.6M502.5 178.8l7.6 7.6m0 -7.6l-7.6 7.6M506.9 177.2l7.6 7.6m0 -7.6l-7.6 7.6M511.2 179.0l7.6 7.6m0 -7.6l-7.6 7.6M515.6 178.8l7.6 7.6m0 -7.6l-7.6 7.6M520.0 177.0l7.6 7.6m0 -7.6l-7.6 7.6M524.3 177.4l7.6 7.6m0 -7.6l-7.6 7.6M528.7 176.7l7.6 7.6m0 -7.6l-7.6 7.6M533.0 177.2l7.6 7.6m0 -7.6l-7.6 7.6M537.4 174.5l7.6 7.6m0 -7.6l-7.6 7.6M541.7 174.2l7.6 7.6m0 -7.6l-7.6 7.6M546.1 174.8l7.6 7.6m0 -7.6l-7.6 7.6M550.4 174.3l7.6 7.6m0 -7.6l-7.6 7.6M554.8 176.5l7.6 7.6m0 -7.6l-7.6 7.6M559.1 173.7l7.6 7.6m0 -7.6l-7.6 7.6M563.5 174.1l7.6 7.6m0 -7.6l-7.6 7.6M567.8 173.0l7.6 7.6m0 -7.6l-7.6 7.6M572.2 172.3l7.6 7.6m0 -7.6l-7.6 7.6M576.6 172.8l7.6 7.6m0 -7.6l-7.6 7.6M580.9 173.5l7.6 7.6m0 -7.6l-7.6 7.6M585.3 171.4l7.6 7.6m0 -7.6l-7.6 7.6M589.6 172.4l7.6 7.6m0 -7.6l-7.6 7.6M594.0 172.0l7.6 7.6m0 -7.6l-7.6 7.6M598.3 172.3l7.6 7.6m0 -7.6l-7.6 7.6M602.7 172.0l7.6 7.6m0 -7.6l-7.6 7.6M607.0 173.4l7.6 7.6m0 -7.6l-7.6 7.6M611.4 169.8l7.6 7.6m0 -7.6l-7.6 7.6M615.7 170.3l7.6 7.6m0 -7.6l-7.6 7.6M620.1 169.1l7.6 7.6m0 -7.6l-7.6 7.6M624.4 168.0l7.6 7.6m0 -7.6l-7.6 7.6M628.8 169.4l7.6 7.6m0 -7.6l-7.6 7.6" stroke="#759126" stroke-width="1.40" fill="none"/>
<path d="M96.8 181.1l7.6 7.6m0 -7.6l-7.6 7.6M101.1 180.0l7.6 7.6m0 -7.6l-7.6 7.6M105.5 180.0l7.6 7.6m0 -7.6l-7.6 7.6M109.8 179.0l7.6 7.6m0 -7.6l-7.6 7.6M114.2 178.2l7.6 7.6m0 -7.6l-7.6 7.6M118.5 179.8l7.6 7.6m0 -7.6l-7.6 7.6M122.9 177.3l7.6 7.6m0 -7.6l-7.6 7.6M127.2 178.7l7.6 7.6m0 -7.6l-7.6 7.6M131.6 176.8l7.6 7.6m0 -7.6l-7.6 7.6M135.9 176.8l7.6 7.6m0 -7.6l-7.6 7.6M140.3 176.7l7.6 7.6m0 -7.6l-7.6 7.6M144.7 176.0l7.6 7.6m0 -7.6l-7.6 7.6M149.0 175.8l7.6 7.6m0 -7.6l-7.6 7.6M153.4 175.3l7.6 7.6m0 -7.6l-7.6 7.6M157.7 175.7l7.6 7.6m0 -7.6l-7.6 7.6M162.1 173.5l7.6 7.6m0 -7.6l-7.6 7.6M166.4 171.3l7.6 7.6m0 -7.6l-7.6 7.6M170.8 170.7l7.6 7.6m0 -7.6l-7.6 7.6M175.1 170.9l7.6 7.6m0 -7.6l-7.6 7.6M179.5 171.0l7.6 7.6m0 -7.6l-7.6 7.6M183.8 171.8l7.6 7.6m0 -7.6l-7.6 7.6M188.2 169.4l7.6 7.6m0 -7.6l-7.6 7.6M192.5 170.3l7.6 7.6m0 -7.6l-7.6 7.6M196.9 169.9l7.6 7.6m0 -7.6l-7.6 7.6M201.3 169.6l7.6 7.6m0 -7.6l-7.6 7.6M205.6 168.8l7.6 7.6m0 -7.6l-7.6 7.6M210.0 168.9l7.6 7.6m0 -7.6l-7.6 7.6M214.3 168.1l7.6 7.6m0 -7.6l-7.6 7.6M218.7 168.9l7.6 7.6m0 -7.6l-7.6 7.6M223.0 168.4l7.6 7.6m0 -7.6l-7.6 7.6M227.4 166.1l7.6 7.6m0 -7.6l-7.6 7.6M231.7 168.4l7.6 7.6m0 -7.6l-7.6 7.6M236.1 168.6l7.6 7.6m0 -7.6l-7.6 7.6M240.4 168.0l7.6 7.6m0 -7.6l-7.6 7.6M244.8 168.0l7.6 7.6m0 -7.6l-7.6 7.6M249.1 169.7l7.6 7.6m0 -7.6l-7.6 7.6M253.5 168.8l7.6 7.6m0 -7.6l-7.6 7.6M257.8 167.8l7.6 7.6m0 -7.6l-7.6 7.6M262.2 168.4l7.6 7.6m0 -7.6l-7.6 7.6M266.6 168.5l7.6 7.6m0 -7.6l-7.6 7.6M270.9 167.2l7.6 7.6m0 -7.6l-7.6 7.6M275.3 169.1l7.6 7.6m0 -7.6l-7.6 7.6M279.6 167.5l7.6 7.6m0 -7.6l-7.6 7.6M284.0 167.2l7.6 7.6m0 -7.6l-7.6 7.6M288.3 164.4l7.6 7.6m0 -7.6l-7.6 7.6M292.7 166.7l7.6 7.6m0 -7.6l-7.6 7.6M297.0 164.6l7.6 7.6m0 -7.6l-7.6 7.6M301.4 163.5l7.6 7.6m0 -7.6l-7.6 7.6M305.7 161.0l7.6 7.6m0 -7.6l-7.6 7.6M310.1 158.6l7.6 7.6m0 -7.6l-7.6 7.6M314.4 155.5l7.6 7.6m0 -7.6l-7.6 7.6M318.8 155.8l7.6 7.6m0 -7.6l-7.6 7.6M323.2 151.2l7.6 7.6m0 -7.6l-7.6 7.6M327.5 149.6l7.6 7.6m0 -7.6l-7.6 7.6M331.9 146.9l7.6 7.6m0 -7.6l-7.6 7.6M336.2 142.8l7.6 7.6m0 -7.6l-7.6 7.6M340.6 141.1l7.6 7.6m0 -7.6l-7.6 7.6M344.9 139.1l7.6 7.6m0 -7.6l-7.6 7.6M349.3 134.7l7.6 7.6m0 -7.6l-7.6 7.6M353.6 133.7l7.6 7.6m0 -7.6l-7.6 7.6M358.0 130.8l7.6 7.6m0 -7.6l-7.6 7.6M363.2 142.5l7.6 7.6m0 -7.6l-7.6 7.6M369.1 231.3l7.6 7.6m0 -7.6l-7.6 7.6M373.4 232.5l7.6 7.6m0 -7.6l-7.6 7.6M377.8 230.1l7.6 7.6m0 -7.6l-7.6 7.6M382.1 229.1l7.6 7.6m0 -7.6l-7.6 7.6M386.5 227.8l7.6 7.6m0 -7.6l-7.6 7.6M390.8 224.5l7.6 7.6m0 -7.6l-7.6 7.6M395.2 222.0l7.6 7.6m0 -7.6l-7.6 7.6M399.5 218.9l7.6 7.6m0 -7.6l-7.6 7.6M403.9 213.9l7.6 7.6m0 -7.6l-7.6 7.6M408.2 211.4l7.6 7.6m0 -7.6l-7.6 7.6M412.6 209.1l7.6 7.6m0 -7.6l-7.6 7.6M416.9 203.8l7.6 7.6m0 -7.6l-7.6 7.6M421.3 202.3l7.6 7.6m0 -7.6l-7.6 7.6M425.7 199.6l7.6 7.6m0 -7.6l-7.6 7.6M430.0 197.5l7.6 7.6m0 -7.6l-7.6 7.6M434.4 194.8l7.6 7.6m0 -7.6l-7.6 7.6M438.7 193.8l7.6 7.6m0 -7.6l-7.6 7.6M443.1 191.0l7.6 7.6m0 -7.6l-7.6 7.6M447.4 190.2l7.6 7.6m0 -7.6l-7.6 7.6M451.8 188.6l7.6 7.6m0 -7.6l-7.6 7.6M456.1 187.3l7.6 7.6m0 -7.6l-7.6 7.6M460.5 188.4l7.6 7.6m0 -7.6l-7.6 7.6M464.8 186.7l7.6 7.6m0 -7.6l-7.6 7.6M469.2 186.2l7.6 7.6m0 -7.6l-7.6 7.6M473.5 185.2l7.6 7.6m0 -7.6l-7.6 7.6M477.9 186.1l7.6 7.6m0 -7.6l-7.6 7.6M482.2 182.8l7.6 7.6m0 -7.6l-7.6 7.6M486.6 183.7l7.6 7.6m0 -7.6l-7.6 7.6M491.0 184.6l7.6 7.6m0 -7.6l-7.6 7.6M495.3 184.7l7.6 7.6m0 -7.6l-7.6 7.6M499.7 183.1l7.6 7.6m0 -7.6l-7.6 7.6M504.0 182.5l7.6 7.6m0 -7.6l-7.6 7.6M508.4 182.8l7.6 7.6m0 -7.6l-7.6 7.6M512.7 181.7l7.6 7.6m0 -7.6l-7.6 7.6M517.1 181.9l7.6 7.6m0 -7.6l-7.6 7.6M521.4 180.2l7.6 7.6m0 -7.6l-7.6 7.6M525.8 180.8l7.6 7.6m0 -7.6l-7.6 7.6M530.1 179.6l7.6 7.6m0 -7.6l-7.6 7.6M534.5 178.1l7.6 7.6m0 -7.6l-7.6 7.6M538.8 176.1l7.6 7.6m0 -7.6l-7.6 7.6M543.2 178.8l7.6 7.6m0 -7.6l-7.6 7.6M547.6 177.7l7.6 7.6m0 -7.6l-7.6 7.6M551.9 177.5l7.6 7.6m0 -7.6l-7.6 7.6M556.3 175.4l7.6 7.6m0 -7.6l-7.6 7.6M560.6 176.7l7.6 7.6m0 -7.6l-7.6 7.6M565.0 175.5l7.6 7.6m0 -7.6l-7.6 7.6M569.3 174.5l7.6 7.6m0 -7.6l-7.6 7.6M573.7 174.8l7.6 7.6m0 -7.6l-7.6 7.6M578.0 174.2l7.6 7.6m0 -7.6l-7.6 7.6M582.4 173.2l7.6 7.6m0 -7.6l-7.6 7.6M586.7 174.1l7.6 7.6m0 -7.6l-7.6 7.6M591.1 173.0l7.6 7.6m0 -7.6l-7.6 7.6M595.4 171.4l7.6 7.6m0 -7.6l-7.6 7.6M599.8 170.4l7.6 7.6m0 -7.6l-7.6 7.6M604.2 169.3l7.6 7.6m0 -7.6l-7.6 7.6M608.5 168.5l7.6 7.6m0 -7.6l-7.6 7.6M612.9 165.1l7.6 7.6m0 -7.6l-7.6 7.6M617.2 161.6l7.6 7.6m0 -7.6l-7.6 7.6M621.6 159.6l7.6 7.6m0 -7.6l-7.6 7.6M625.9 157.9l7.6 7.6m0 -7.6l-7.6 7.6" stroke="#57c223" stroke-width="1.40" fill="none"/>
<path d="M96.8 191.0l7.6 7.6m0 -7.6l-7.6 7.6M101.1 163.2l7.6 7.6m0 -7.6l-7.6 7.6M105.5 159.0l7.6 7.6m0 -7.6l-7.6 7.6M109.8 160.3l7.6 7.6m0 -7.6l-7.6 7.6M114.2 160.7l7.6 7.6m0 -7.6l-7.6 7.6M118.5 159.4l7.6 7.6m0 -7.6l-7.6 7.6M122.9 162.8l7.6 7.6m0 -7.6l-7.6 7.6M127.2 164.8l7.6 7.6m0 -7.6l-7.6 7.6M131.6 169.1l7.6 7.6m0 -7.6l-7.6 7.6M135.9 170.5l7.6 7.6m0 -7.6l-7.6 7.6M140.3 174.3l7.6 7.6m0 -7.6l-7.6 7.6M144.7 175.2l7.6 7.6m0 -7.6l-7.6 7.6M149.0 174.0l7.6 7.6m0 -7.6l-7.6 7.6M153.4 177.0l7.6 7.6m0 -7.6l-7.6 7.6M157.7 178.8l7.6 7.6m0 -7.6l-7.6 7.6M162.1 177.4l7.6 7.6m0 -7.6l-7.6 7.6M166.4 175.9l7.6 7.6m0 -7.6l-7.6 7.6M170.8 174.1l7.6 7.6m0 -7.6l-7.6 7.6M175.1 174.6l7.6 7.6m0 -7.6l-7.6 7.6M179.5 174.7l7.6 7.6m0 -7.6l-7.6 7.6M183.8 172.4l7.6 7.6m0 -7.6l-7.6 7.6M188.2 171.3l7.6 7.6m0 -7.6l-7.6 7.6M192.5 170.3l7.6 7.6m0 -7.6l-7.6 7.6M196.9 168.2l7.6 7.6m0 -7.6l-7.6 7.6M201.3 168.2l7.6 7.6m0 -7.6l-7.6 7.6M205.6 166.4l7.6 7.6m0 -7.6l-7.6 7.6M210.0 166.8l7.6 7.6m0 -7.6l-7.6 7.6M214.3 163.6l7.6 7.6m0 -7.6l-7.6 7.6M218.7 161.1l7.6 7.6m0 -7.6l-7.6 7.6M223.0 161.0l7.6 7.6m0 -7.6l-7.6 7.6M227.4 160.7l7.6 7.6m0 -7.6l-7.6 7.6M231.7 160.0l7.6 7.6m0 -7.6l-7.6 7.6M236.1 157.8l7.6 7.6m0 -7.6l-7.6 7.6M240.4 159.5l7.6 7.6m0 -7.6l-7.6 7.6M244.8 158.0l7.6 7.6m0 -7.6l-7.6 7.6M249.1 157.3l7.6 7.6m0 -7.6l-7.6 7.6M253.5 157.0l7.6 7.6m0 -7.6l-7.6 7.6M257.8 157.9l7.6 7.6m0 -7.6l-7.6 7.6M262.2 157.1l7.6 7.6m0 -7.6l-7.6 7.6M266.6 157.6l7.6 7.6m0 -7.6l-7.6 7.6M270.9 157.1l7.6 7.6m0 -7.6l-7.6 7.6M275.3 157.0l7.6 7.6m0 -7.6l-7.6 7.6M279.6 156.5l7.6 7.6m0 -7.6l-7.6 7.6M284.0 153.9l7.6 7.6m0 -7.6l-7.6 7.6M288.3 151.6l7.6 7.6m0 -7.6l-7.6 7.6M292.7 151.9l7.6 7.6m0 -7.6l-7.6 7.6M297.0 149.7l7.6 7.6m0 -7.6l-7.6 7.6M301.4 147.4l7.6 7.6m0 -7.6l-7.6 7.6M305.7 147.2l7.6 7.6m0 -7.6l-7.6 7.6M310.1 143.6l7.6 7.6m0 -7.6l-7.6 7.6M314.4 142.3l7.6 7.6m0 -7.6l-7.6 7.6M318.8 137.9l7.6 7.6m0 -7.6l-7.6 7.6M323.2 134.4l7.6 7.6m0 -7.6l-7.6 7.6M327.5 132.4l7.6 7.6m0 -7.6l-7.6 7.6M331.9 132.5l7.6 7.6m0 -7.6l-7.6 7.6M336.2 129.6l7.6 7.6m0 -7.6l-7.6 7.6M340.6 128.2l7.6 7.6m0 -7.6l-7.6 7.6M344.9 126.3l7.6 7.6m0 -7.6l-7.6 7.6M349.3 123.9l7.6 7.6m0 -7.6l-7.6 7.6M353.6 129.0l7.6 7.6m0 -7.6l-7.6 7.6M358.0 129.2l7.6 7.6m0 -7.6l-7.6 7.6M361.7 145.6l7.6 7.6m0 -7.6l-7.6 7.6M364.3 148.6l7.6 7.6m0 -7.6l-7.6 7.6M369.1 211.7l7.6 7.6m0 -7.6l-7.6 7.6M373.4 228.5l7.6 7.6m0 -7.6l-7.6 7.6M377.8 228.6l7.6 7.6m0 -7.6l-7.6 7.6M382.1 228.4l7.6 7.6m0 -7.6l-7.6 7.6M386.5 226.3l7.6 7.6m0 -7.6l-7.6 7.6M390.8 224.2l7.6 7.6m0 -7.6l-7.6 7.6M395.2 223.1l7.6 7.6m0 -7.6l-7.6 7.6M399.5 220.9l7.6 7.6m0 -7.6l-7.6 7.6M403.9 220.1l7.6 7.6m0 -7.6l-7.6 7.6M408.2 220.2l7.6 7.6m0 -7.6l-7.6 7.6M412.6 216.1l7.6 7.6m0 -7.6l-7.6 7.6M416.9 215.0l7.6 7.6m0 -7.6l-7.6 7.6M421.3 214.2l7.6 7.6m0 -7.6l-7.6 7.6M425.7 212.9l7.6 7.6m0 -7.6l-7.6 7.6M430.0 209.7l7.6 7.6m0 -7.6l-7.6 7.6M434.4 208.8l7.6 7.6m0 -7.6l-7.6 7.6M438.7 206.8l7.6 7.6m0 -7.6l-7.6 7.6M443.1 204.1l7.6 7.6m0 -7.6l-7.6 7.6M447.4 202.5l7.6 7.6m0 -7.6l-7.6 7.6M451.8 205.4l7.6 7.6m0 -7.6l-7.6 7.6M456.1 203.6l7.6 7.6m0 -7.6l-7.6 7.6M460.5 205.8l7.6 7.6m0 -7.6l-7.6 7.6M464.8 206.2l7.6 7.6m0 -7.6l-7.6 7.6M469.2 202.7l7.6 7.6m0 -7.6l-7.6 7.6M473.5 202.6l7.6 7.6m0 -7.6l-7.6 7.6M477.9 202.5l7.6 7.6m0 -7.6l-7.6 7.6M482.2 200.3l7.6 7.6m0 -7.6l-7.6 7.6M486.6 197.7l7.6 7.6m0 -7.6l-7.6 7.6M491.0 196.1l7.6 7.6m0 -7.6l-7.6 7.6M495.3 196.2l7.6 7.6m0 -7.6l-7.6 7.6M499.7 194.0l7.6 7.6m0 -7.6l-7.6 7.6M504.0 192.4l7.6 7.6m0 -7.6l-7.6 7.6M508.4 192.5l7.6 7.6m0 -7.6l-7.6 7.6M512.7 190.5l7.6 7.6m0 -7.6l-7.6 7.6M517.1 189.7l7.6 7.6m0 -7.6l-7.6 7.6M521.4 189.0l7.6 7.6m0 -7.6l-7.6 7.6M525.8 188.0l7.6 7.6m0 -7.6l-7.6 7.6M530.1 186.6l7.6 7.6m0 -7.6l-7.6 7.6M534.5 185.7l7.6 7.6m0 -7.6l-7.6 7.6M538.8 185.4l7.6 7.6m0 -7.6l-7.6 7.6M543.2 184.4l7.6 7.6m0 -7.6l-7.6 7.6M547.6 179.8l7.6 7.6m0 -7.6l-7.6 7.6M551.9 177.5l7.6 7.6m0 -7.6l-7.6 7.6M556.3 173.8l7.6 7.6m0 -7.6l-7.6 7.6M560.6 170.3l7.6 7.6m0 -7.6l-7.6 7.6M565.0 170.3l7.6 7.6m0 -7.6l-7.6 7.6M569.3 169.9l7.6 7.6m0 -7.6l-7.6 7.6M573.7 173.9l7.6 7.6m0 -7.6l-7.6 7.6M578.0 173.5l7.6 7.6m0 -7.6l-7.6 7.6M582.4 175.7l7.6 7.6m0 -7.6l-7.6 7.6M586.7 175.2l7.6 7.6m0 -7.6l-7.6 7.6M591.1 177.0l7.6 7.6m0 -7.6l-7.6 7.6M595.4 180.4l7.6 7.6m0 -7.6l-7.6 7.6M599.8 177.7l7.6 7.6m0 -7.6l-7.6 7.6M604.2 174.5l7.6 7.6m0 -7.6l-7.6 7.6M608.5 172.6l7.6 7.6m0 -7.6l-7.6 7.6M612.9 170.7l7.6 7.6m0 -7.6l-7.6 7.6M617.2 166.7l7.6 7.6m0 -7.6l-7.6 7.6M621.6 161.5l7.6 7.6m0 -7.6l-7.6 7.6M625.9 156.6l7.6 7.6m0 -7.6l-7.6 7.6" stroke="#46f216" stroke-width="1.40" fill="none"/>
</g>
<path d="M219.37 400.00v-13.40M366.95 400.00v-13.40M514.53 400.00v-13.40M101.30 400.00h13.40M101.30 323.12h13.40M101.30 246.24h13.40M101.30 169.36h13.40M101.30 92.48h13.40M101.30 15.60h13.40" stroke="#000" stroke-width="2.4" fill="none"/>
<rect x="101.30" y="15.60" width="531.30" height="384.40" fill="none" stroke="#000" stroke-width="1.25"/>
<path d="M982.04 15.20V399.80M1129.60 15.20V399.80M1277.16 15.20V399.80M864.00 322.88H1395.20M864.00 245.96H1395.20M864.00 169.04H1395.20M864.00 92.12H1395.20" stroke="#b6b6b6" stroke-width="1.2" fill="none"/>
<g clip-path="url(#cB)">
<path d="M860.4 138.6l7.2 7.2m0 -7.2l-7.2 7.2M864.8 137.6l7.2 7.2m0 -7.2l-7.2 7.2M869.3 139.4l7.2 7.2m0 -7.2l-7.2 7.2M873.7 137.3l7.2 7.2m0 -7.2l-7.2 7.2M878.1 138.1l7.2 7.2m0 -7.2l-7.2 7.2M882.5 136.6l7.2 7.2m0 -7.2l-7.2 7.2M887.0 137.9l7.2 7.2m0 -7.2l-7.2 7.2M891.4 140.6l7.2 7.2m0 -7.2l-7.2 7.2M895.8 142.1l7.2 7.2m0 -7.2l-7.2 7.2M900.2 142.9l7.2 7.2m0 -7.2l-7.2 7.2M904.7 142.9l7.2 7.2m0 -7.2l-7.2 7.2M909.1 143.3l7.2 7.2m0 -7.2l-7.2 7.2M913.5 142.4l7.2 7.2m0 -7.2l-7.2 7.2M917.9 142.1l7.2 7.2m0 -7.2l-7.2 7.2M922.4 141.3l7.2 7.2m0 -7.2l-7.2 7.2M926.8 141.3l7.2 7.2m0 -7.2l-7.2 7.2M931.2 139.9l7.2 7.2m0 -7.2l-7.2 7.2M935.7 139.9l7.2 7.2m0 -7.2l-7.2 7.2M940.1 139.3l7.2 7.2m0 -7.2l-7.2 7.2M944.5 138.2l7.2 7.2m0 -7.2l-7.2 7.2M948.9 137.2l7.2 7.2m0 -7.2l-7.2 7.2M953.4 137.4l7.2 7.2m0 -7.2l-7.2 7.2M957.8 136.6l7.2 7.2m0 -7.2l-7.2 7.2M962.2 135.9l7.2 7.2m0 -7.2l-7.2 7.2M966.6 135.0l7.2 7.2m0 -7.2l-7.2 7.2M971.1 134.9l7.2 7.2m0 -7.2l-7.2 7.2M975.5 133.0l7.2 7.2m0 -7.2l-7.2 7.2M979.9 133.2l7.2 7.2m0 -7.2l-7.2 7.2M984.3 132.3l7.2 7.2m0 -7.2l-7.2 7.2M988.8 132.7l7.2 7.2m0 -7.2l-7.2 7.2M993.2 131.6l7.2 7.2m0 -7.2l-7.2 7.2M997.6 131.1l7.2 7.2m0 -7.2l-7.2 7.2M1002.1 131.2l7.2 7.2m0 -7.2l-7.2 7.2M1006.5 129.1l7.2 7.2m0 -7.2l-7.2 7.2M1010.9 129.5l7.2 7.2m0 -7.2l-7.2 7.2M1015.3 127.9l7.2 7.2m0 -7.2l-7.2 7.2M1019.8 127.7l7.2 7.2m0 -7.2l-7.2 7.2M1024.2 128.1l7.2 7.2m0 -7.2l-7.2 7.2M1028.6 127.2l7.2 7.2m0 -7.2l-7.2 7.2M1033.0 125.3l7.2 7.2m0 -7.2l-7.2 7.2M1037.5 124.1l7.2 7.2m0 -7.2l-7.2 7.2M1041.9 122.6l7.2 7.2m0 -7.2l-7.2 7.2M1046.3 121.4l7.2 7.2m0 -7.2l-7.2 7.2M1050.7 120.9l7.2 7.2m0 -7.2l-7.2 7.2M1055.2 117.3l7.2 7.2m0 -7.2l-7.2 7.2M1059.6 115.4l7.2 7.2m0 -7.2l-7.2 7.2M1064.0 110.7l7.2 7.2m0 -7.2l-7.2 7.2M1068.5 108.3l7.2 7.2m0 -7.2l-7.2 7.2M1072.9 105.1l7.2 7.2m0 -7.2l-7.2 7.2M1077.3 100.9l7.2 7.2m0 -7.2l-7.2 7.2M1081.7 96.7l7.2 7.2m0 -7.2l-7.2 7.2M1086.2 93.8l7.2 7.2m0 -7.2l-7.2 7.2M1090.6 90.1l7.2 7.2m0 -7.2l-7.2 7.2M1095.0 85.5l7.2 7.2m0 -7.2l-7.2 7.2M1099.4 81.7l7.2 7.2m0 -7.2l-7.2 7.2M1103.9 76.7l7.2 7.2m0 -7.2l-7.2 7.2M1108.3 71.7l7.2 7.2m0 -7.2l-7.2 7.2M1112.7 67.0l7.2 7.2m0 -7.2l-7.2 7.2M1117.1 63.3l7.2 7.2m0 -7.2l-7.2 7.2M1121.6 63.3l7.2 7.2m0 -7.2l-7.2 7.2M1126.0 76.3l7.2 7.2m0 -7.2l-7.2 7.2M1130.4 132.1l7.2 7.2m0 -7.2l-7.2 7.2M1134.9 171.2l7.2 7.2m0 -7.2l-7.2 7.2M1139.3 177.5l7.2 7.2m0 -7.2l-7.2 7.2M1143.7 175.0l7.2 7.2m0 -7.2l-7.2 7.2M1148.1 170.2l7.2 7.2m0 -7.2l-7.2 7.2M1152.6 165.5l7.2 7.2m0 -7.2l-7.2 7.2M1157.0 161.4l7.2 7.2m0 -7.2l-7.2 7.2M1161.4 155.9l7.2 7.2m0 -7.2l-7.2 7.2M1165.8 151.7l7.2 7.2m0 -7.2l-7.2 7.2M1170.3 146.8l7.2 7.2m0 -7.2l-7.2 7.2M1174.7 143.1l7.2 7.2m0 -7.2l-7.2 7.2M1179.1 139.3l7.2 7.2m0 -7.2l-7.2 7.2M1183.5 139.9l7.2 7.2m0 -7.2l-7.2 7.2M1188.0 137.1l7.2 7.2m0 -7.2l-7.2 7.2M1192.4 134.6l7.2 7.2m0 -7.2l-7.2 7.2M1196.8 133.6l7.2 7.2m0 -7.2l-7.2 7.2M1201.3 132.1l7.2 7.2m0 -7.2l-7.2 7.2M1205.7 130.9l7.2 7.2m0 -7.2l-7.2 7.2M1210.1 130.8l7.2 7.2m0 -7.2l-7.2 7.2M1214.5 129.1l7.2 7.2m0 -7.2l-7.2 7.2M1219.0 126.8l7.2 7.2m0 -7.2l-7.2 7.2M1223.4 126.8l7.2 7.2m0 -7.2l-7.2 7.2M1227.8 127.4l7.2 7.2m0 -7.2l-7.2 7.2M1232.2 126.4l7.2 7.2m0 -7.2l-7.2 7.2M1236.7 125.2l7.2 7.2m0 -7.2l-7.2 7.2M1241.1 123.5l7.2 7.2m0 -7.2l-7.2 7.2M1245.5 123.7l7.2 7.2m0 -7.2l-7.2 7.2M1249.9 122.8l7.2 7.2m0 -7.2l-7.2 7.2M1254.4 120.9l7.2 7.2m0 -7.2l-7.2 7.2M1258.8 119.9l7.2 7.2m0 -7.2l-7.2 7.2M1263.2 119.7l7.2 7.2m0 -7.2l-7.2 7.2M1267.7 119.3l7.2 7.2m0 -7.2l-7.2 7.2M1272.1 118.6l7.2 7.2m0 -7.2l-7.2 7.2M1276.5 117.3l7.2 7.2m0 -7.2l-7.2 7.2M1280.9 117.8l7.2 7.2m0 -7.2l-7.2 7.2M1285.4 115.6l7.2 7.2m0 -7.2l-7.2 7.2M1289.8 116.0l7.2 7.2m0 -7.2l-7.2 7.2M1294.2 114.9l7.2 7.2m0 -7.2l-7.2 7.2M1298.6 113.7l7.2 7.2m0 -7.2l-7.2 7.2M1303.1 113.8l7.2 7.2m0 -7.2l-7.2 7.2M1307.5 114.9l7.2 7.2m0 -7.2l-7.2 7.2M1311.9 113.4l7.2 7.2m0 -7.2l-7.2 7.2M1316.3 112.9l7.2 7.2m0 -7.2l-7.2 7.2M1320.8 113.8l7.2 7.2m0 -7.2l-7.2 7.2M1325.2 113.4l7.2 7.2m0 -7.2l-7.2 7.2M1329.6 112.1l7.2 7.2m0 -7.2l-7.2 7.2M1334.1 112.2l7.2 7.2m0 -7.2l-7.2 7.2M1338.5 109.5l7.2 7.2m0 -7.2l-7.2 7.2M1342.9 111.1l7.2 7.2m0 -7.2l-7.2 7.2M1347.3 109.5l7.2 7.2m0 -7.2l-7.2 7.2M1351.8 108.4l7.2 7.2m0 -7.2l-7.2 7.2M1356.2 108.0l7.2 7.2m0 -7.2l-7.2 7.2M1360.6 107.4l7.2 7.2m0 -7.2l-7.2 7.2M1365.0 106.9l7.2 7.2m0 -7.2l-7.2 7.2M1369.5 106.8l7.2 7.2m0 -7.2l-7.2 7.2M1373.9 105.6l7.2 7.2m0 -7.2l-7.2 7.2M1378.3 107.2l7.2 7.2m0 -7.2l-7.2 7.2M1382.7 105.5l7.2 7.2m0 -7.2l-7.2 7.2M1387.2 105.5l7.2 7.2m0 -7.2l-7.2 7.2M1391.6 104.6l7.2 7.2m0 -7.2l-7.2 7.2" stroke="#c8741f" stroke-width="1.30" fill="none"/>
<path d="M860.4 211.5l7.2 7.2m0 -7.2l-7.2 7.2M864.8 213.4l7.2 7.2m0 -7.2l-7.2 7.2M869.3 214.4l7.2 7.2m0 -7.2l-7.2 7.2M873.7 214.8l7.2 7.2m0 -7.2l-7.2 7.2M878.1 216.3l7.2 7.2m0 -7.2l-7.2 7.2M882.5 218.1l7.2 7.2m0 -7.2l-7.2 7.2M887.0 216.8l7.2 7.2m0 -7.2l-7.2 7.2M891.4 215.4l7.2 7.2m0 -7.2l-7.2 7.2M895.8 216.5l7.2 7.2m0 -7.2l-7.2 7.2M900.2 214.2l7.2 7.2m0 -7.2l-7.2 7.2M904.7 211.6l7.2 7.2m0 -7.2l-7.2 7.2M909.1 212.1l7.2 7.2m0 -7.2l-7.2 7.2M913.5 211.9l7.2 7.2m0 -7.2l-7.2 7.2M917.9 211.6l7.2 7.2m0 -7.2l-7.2 7.2M922.4 211.3l7.2 7.2m0 -7.2l-7.2 7.2M926.8 210.5l7.2 7.2m0 -7.2l-7.2 7.2M931.2 210.2l7.2 7.2m0 -7.2l-7.2 7.2M935.7 208.9l7.2 7.2m0 -7.2l-7.2 7.2M940.1 209.0l7.2 7.2m0 -7.2l-7.2 7.2M944.5 208.5l7.2 7.2m0 -7.2l-7.2 7.2M948.9 208.4l7.2 7.2m0 -7.2l-7.2 7.2M953.4 207.2l7.2 7.2m0 -7.2l-7.2 7.2M957.8 208.0l7.2 7.2m0 -7.2l-7.2 7.2M962.2 208.3l7.2 7.2m0 -7.2l-7.2 7.2M966.6 208.3l7.2 7.2m0 -7.2l-7.2 7.2M971.1 209.4l7.2 7.2m0 -7.2l-7.2 7.2M975.5 210.0l7.2 7.2m0 -7.2l-7.2 7.2M979.9 210.5l7.2 7.2m0 -7.2l-7.2 7.2M984.3 210.2l7.2 7.2m0 -7.2l-7.2 7.2M988.8 210.0l7.2 7.2m0 -7.2l-7.2 7.2M993.2 209.7l7.2 7.2m0 -7.2l-7.2 7.2M997.6 208.6l7.2 7.2m0 -7.2l-7.2 7.2M1002.1 209.3l7.2 7.2m0 -7.2l-7.2 7.2M1006.5 207.5l7.2 7.2m0 -7.2l-7.2 7.2M1010.9 208.0l7.2 7.2m0 -7.2l-7.2 7.2M1015.3 208.3l7.2 7.2m0 -7.2l-7.2 7.2M1019.8 207.8l7.2 7.2m0 -7.2l-7.2 7.2M1024.2 207.7l7.2 7.2m0 -7.2l-7.2 7.2M1028.6 206.9l7.2 7.2m0 -7.2l-7.2 7.2M1033.0 207.0l7.2 7.2m0 -7.2l-7.2 7.2M1037.5 205.4l7.2 7.2m0 -7.2l-7.2 7.2M1041.9 206.2l7.2 7.2m0 -7.2l-7.2 7.2M1046.3 206.6l7.2 7.2m0 -7.2l-7.2 7.2M1050.7 205.3l7.2 7.2m0 -7.2l-7.2 7.2M1055.2 204.9l7.2 7.2m0 -7.2l-7.2 7.2M1059.6 202.2l7.2 7.2m0 -7.2l-7.2 7.2M1064.0 200.0l7.2 7.2m0 -7.2l-7.2 7.2M1068.5 198.8l7.2 7.2m0 -7.2l-7.2 7.2M1072.9 198.5l7.2 7.2m0 -7.2l-7.2 7.2M1077.3 196.7l7.2 7.2m0 -7.2l-7.2 7.2M1081.7 192.2l7.2 7.2m0 -7.2l-7.2 7.2M1086.2 190.1l7.2 7.2m0 -7.2l-7.2 7.2M1090.6 187.4l7.2 7.2m0 -7.2l-7.2 7.2M1095.0 184.1l7.2 7.2m0 -7.2l-7.2 7.2M1099.4 181.0l7.2 7.2m0 -7.2l-7.2 7.2M1103.9 179.5l7.2 7.2m0 -7.2l-7.2 7.2M1108.3 178.2l7.2 7.2m0 -7.2l-7.2 7.2M1112.7 172.5l7.2 7.2m0 -7.2l-7.2 7.2M1117.1 169.9l7.2 7.2m0 -7.2l-7.2 7.2M1121.6 169.2l7.2 7.2m0 -7.2l-7.2 7.2M1126.0 176.3l7.2 7.2m0 -7.2l-7.2 7.2M1130.4 218.2l7.2 7.2m0 -7.2l-7.2 7.2M1134.9 242.8l7.2 7.2m0 -7.2l-7.2 7.2M1139.3 245.0l7.2 7.2m0 -7.2l-7.2 7.2M1143.7 243.3l7.2 7.2m0 -7.2l-7.2 7.2M1148.1 238.7l7.2 7.2m0 -7.2l-7.2 7.2M1152.6 237.5l7.2 7.2m0 -7.2l-7.2 7.2M1157.0 234.0l7.2 7.2m0 -7.2l-7.2 7.2M1161.4 229.8l7.2 7.2m0 -7.2l-7.2 7.2M1165.8 225.2l7.2 7.2m0 -7.2l-7.2 7.2M1170.3 223.0l7.2 7.2m0 -7.2l-7.2 7.2M1174.7 222.1l7.2 7.2m0 -7.2l-7.2 7.2M1179.1 220.5l7.2 7.2m0 -7.2l-7.2 7.2M1183.5 219.2l7.2 7.2m0 -7.2l-7.2 7.2M1188.0 217.3l7.2 7.2m0 -7.2l-7.2 7.2M1192.4 215.7l7.2 7.2m0 -7.2l-7.2 7.2M1196.8 215.3l7.2 7.2m0 -7.2l-7.2 7.2M1201.3 215.2l7.2 7.2m0 -7.2l-7.2 7.2M1205.7 214.1l7.2 7.2m0 -7.2l-7.2 7.2M1210.1 213.1l7.2 7.2m0 -7.2l-7.2 7.2M1214.5 212.1l7.2 7.2m0 -7.2l-7.2 7.2M1219.0 212.1l7.2 7.2m0 -7.2l-7.2 7.2M1223.4 211.2l7.2 7.2m0 -7.2l-7.2 7.2M1227.8 211.5l7.2 7.2m0 -7.2l-7.2 7.2M1232.2 210.4l7.2 7.2m0 -7.2l-7.2 7.2M1236.7 208.1l7.2 7.2m0 -7.2l-7.2 7.2M1241.1 210.0l7.2 7.2m0 -7.2l-7.2 7.2M1245.5 208.4l7.2 7.2m0 -7.2l-7.2 7.2M1249.9 207.6l7.2 7.2m0 -7.2l-7.2 7.2M1254.4 207.5l7.2 7.2m0 -7.2l-7.2 7.2M1258.8 207.3l7.2 7.2m0 -7.2l-7.2 7.2M1263.2 206.4l7.2 7.2m0 -7.2l-7.2 7.2M1267.7 206.0l7.2 7.2m0 -7.2l-7.2 7.2M1272.1 205.6l7.2 7.2m0 -7.2l-7.2 7.2M1276.5 206.3l7.2 7.2m0 -7.2l-7.2 7.2M1280.9 204.9l7.2 7.2m0 -7.2l-7.2 7.2M1285.4 204.9l7.2 7.2m0 -7.2l-7.2 7.2M1289.8 204.4l7.2 7.2m0 -7.2l-7.2 7.2M1294.2 203.5l7.2 7.2m0 -7.2l-7.2 7.2M1298.6 202.9l7.2 7.2m0 -7.2l-7.2 7.2M1303.1 203.1l7.2 7.2m0 -7.2l-7.2 7.2M1307.5 204.6l7.2 7.2m0 -7.2l-7.2 7.2M1311.9 204.5l7.2 7.2m0 -7.2l-7.2 7.2M1316.3 205.1l7.2 7.2m0 -7.2l-7.2 7.2M1320.8 205.8l7.2 7.2m0 -7.2l-7.2 7.2M1325.2 206.2l7.2 7.2m0 -7.2l-7.2 7.2M1329.6 207.6l7.2 7.2m0 -7.2l-7.2 7.2M1334.1 208.0l7.2 7.2m0 -7.2l-7.2 7.2M1338.5 207.8l7.2 7.2m0 -7.2l-7.2 7.2M1342.9 209.5l7.2 7.2m0 -7.2l-7.2 7.2M1347.3 208.9l7.2 7.2m0 -7.2l-7.2 7.2M1351.8 209.7l7.2 7.2m0 -7.2l-7.2 7.2M1356.2 210.0l7.2 7.2m0 -7.2l-7.2 7.2M1360.6 211.0l7.2 7.2m0 -7.2l-7.2 7.2M1365.0 209.9l7.2 7.2m0 -7.2l-7.2 7.2M1369.5 208.8l7.2 7.2m0 -7.2l-7.2 7.2M1373.9 207.8l7.2 7.2m0 -7.2l-7.2 7.2M1378.3 207.2l7.2 7.2m0 -7.2l-7.2 7.2M1382.7 207.3l7.2 7.2m0 -7.2l-7.2 7.2M1387.2 206.8l7.2 7.2m0 -7.2l-7.2 7.2M1391.6 206.7l7.2 7.2m0 -7.2l-7.2 7.2" stroke="#e8981e" stroke-width="1.30" fill="none"/>
<path d="M860.4 277.5l7.2 7.2m0 -7.2l-7.2 7.2M864.8 277.4l7.2 7.2m0 -7.2l-7.2 7.2M869.3 276.3l7.2 7.2m0 -7.2l-7.2 7.2M873.7 275.0l7.2 7.2m0 -7.2l-7.2 7.2M878.1 275.6l7.2 7.2m0 -7.2l-7.2 7.2M882.5 276.0l7.2 7.2m0 -7.2l-7.2 7.2M887.0 275.0l7.2 7.2m0 -7.2l-7.2 7.2M891.4 274.9l7.2 7.2m0 -7.2l-7.2 7.2M895.8 274.2l7.2 7.2m0 -7.2l-7.2 7.2M900.2 272.1l7.2 7.2m0 -7.2l-7.2 7.2M904.7 272.2l7.2 7.2m0 -7.2l-7.2 7.2M909.1 273.0l7.2 7.2m0 -7.2l-7.2 7.2M913.5 271.3l7.2 7.2m0 -7.2l-7.2 7.2M917.9 270.6l7.2 7.2m0 -7.2l-7.2 7.2M922.4 271.2l7.2 7.2m0 -7.2l-7.2 7.2M926.8 271.1l7.2 7.2m0 -7.2l-7.2 7.2M931.2 270.5l7.2 7.2m0 -7.2l-7.2 7.2M935.7 269.8l7.2 7.2m0 -7.2l-7.2 7.2M940.1 269.2l7.2 7.2m0 -7.2l-7.2 7.2M944.5 268.6l7.2 7.2m0 -7.2l-7.2 7.2M948.9 269.2l7.2 7.2m0 -7.2l-7.2 7.2M953.4 270.0l7.2 7.2m0 -7.2l-7.2 7.2M957.8 270.6l7.2 7.2m0 -7.2l-7.2 7.2M962.2 271.7l7.2 7.2m0 -7.2l-7.2 7.2M966.6 273.7l7.2 7.2m0 -7.2l-7.2 7.2M971.1 273.6l7.2 7.2m0 -7.2l-7.2 7.2M975.5 274.0l7.2 7.2m0 -7.2l-7.2 7.2M979.9 274.9l7.2 7.2m0 -7.2l-7.2 7.2M984.3 274.0l7.2 7.2m0 -7.2l-7.2 7.2M988.8 274.7l7.2 7.2m0 -7.2l-7.2 7.2M993.2 275.0l7.2 7.2m0 -7.2l-7.2 7.2M997.6 273.4l7.2 7.2m0 -7.2l-7.2 7.2M1002.1 273.8l7.2 7.2m0 -7.2l-7.2 7.2M1006.5 274.0l7.2 7.2m0 -7.2l-7.2 7.2M1010.9 273.5l7.2 7.2m0 -7.2l-7.2 7.2M1015.3 273.3l7.2 7.2m0 -7.2l-7.2 7.2M1019.8 273.9l7.2 7.2m0 -7.2l-7.2 7.2M1024.2 276.1l7.2 7.2m0 -7.2l-7.2 7.2M1028.6 275.5l7.2 7.2m0 -7.2l-7.2 7.2M1033.0 275.9l7.2 7.2m0 -7.2l-7.2 7.2M1037.5 276.7l7.2 7.2m0 -7.2l-7.2 7.2M1041.9 276.5l7.2 7.2m0 -7.2l-7.2 7.2M1046.3 276.3l7.2 7.2m0 -7.2l-7.2 7.2M1050.7 277.9l7.2 7.2m0 -7.2l-7.2 7.2M1055.2 277.8l7.2 7.2m0 -7.2l-7.2 7.2M1059.6 274.9l7.2 7.2m0 -7.2l-7.2 7.2M1064.0 275.5l7.2 7.2m0 -7.2l-7.2 7.2M1068.5 275.0l7.2 7.2m0 -7.2l-7.2 7.2M1072.9 273.2l7.2 7.2m0 -7.2l-7.2 7.2M1077.3 272.1l7.2 7.2m0 -7.2l-7.2 7.2M1081.7 271.4l7.2 7.2m0 -7.2l-7.2 7.2M1086.2 269.2l7.2 7.2m0 -7.2l-7.2 7.2M1090.6 268.6l7.2 7.2m0 -7.2l-7.2 7.2M1095.0 267.5l7.2 7.2m0 -7.2l-7.2 7.2M1099.4 265.9l7.2 7.2m0 -7.2l-7.2 7.2M1103.9 264.5l7.2 7.2m0 -7.2l-7.2 7.2M1108.3 264.0l7.2 7.2m0 -7.2l-7.2 7.2M1112.7 259.8l7.2 7.2m0 -7.2l-7.2 7.2M1117.1 256.6l7.2 7.2m0 -7.2l-7.2 7.2M1121.6 253.8l7.2 7.2m0 -7.2l-7.2 7.2M1126.0 256.2l7.2 7.2m0 -7.2l-7.2 7.2M1130.4 287.1l7.2 7.2m0 -7.2l-7.2 7.2M1134.9 298.0l7.2 7.2m0 -7.2l-7.2 7.2M1139.3 296.9l7.2 7.2m0 -7.2l-7.2 7.2M1143.7 294.3l7.2 7.2m0 -7.2l-7.2 7.2M1148.1 291.6l7.2 7.2m0 -7.2l-7.2 7.2M1152.6 289.1l7.2 7.2m0 -7.2l-7.2 7.2M1157.0 287.5l7.2 7.2m0 -7.2l-7.2 7.2M1161.4 286.0l7.2 7.2m0 -7.2l-7.2 7.2M1165.8 283.8l7.2 7.2m0 -7.2l-7.2 7.2M1170.3 281.1l7.2 7.2m0 -7.2l-7.2 7.2M1174.7 278.9l7.2 7.2m0 -7.2l-7.2 7.2M1179.1 277.1l7.2 7.2m0 -7.2l-7.2 7.2M1183.5 276.4l7.2 7.2m0 -7.2l-7.2 7.2M1188.0 274.7l7.2 7.2m0 -7.2l-7.2 7.2M1192.4 273.1l7.2 7.2m0 -7.2l-7.2 7.2M1196.8 272.8l7.2 7.2m0 -7.2l-7.2 7.2M1201.3 273.1l7.2 7.2m0 -7.2l-7.2 7.2M1205.7 272.2l7.2 7.2m0 -7.2l-7.2 7.2M1210.1 271.6l7.2 7.2m0 -7.2l-7.2 7.2M1214.5 269.1l7.2 7.2m0 -7.2l-7.2 7.2M1219.0 269.9l7.2 7.2m0 -7.2l-7.2 7.2M1223.4 267.9l7.2 7.2m0 -7.2l-7.2 7.2M1227.8 267.7l7.2 7.2m0 -7.2l-7.2 7.2M1232.2 266.3l7.2 7.2m0 -7.2l-7.2 7.2M1236.7 266.0l7.2 7.2m0 -7.2l-7.2 7.2M1241.1 266.4l7.2 7.2m0 -7.2l-7.2 7.2M1245.5 266.7l7.2 7.2m0 -7.2l-7.2 7.2M1249.9 266.8l7.2 7.2m0 -7.2l-7.2 7.2M1254.4 267.1l7.2 7.2m0 -7.2l-7.2 7.2M1258.8 267.8l7.2 7.2m0 -7.2l-7.2 7.2M1263.2 267.8l7.2 7.2m0 -7.2l-7.2 7.2M1267.7 267.0l7.2 7.2m0 -7.2l-7.2 7.2M1272.1 269.4l7.2 7.2m0 -7.2l-7.2 7.2M1276.5 268.4l7.2 7.2m0 -7.2l-7.2 7.2M1280.9 269.3l7.2 7.2m0 -7.2l-7.2 7.2M1285.4 268.7l7.2 7.2m0 -7.2l-7.2 7.2M1289.8 268.5l7.2 7.2m0 -7.2l-7.2 7.2M1294.2 269.2l7.2 7.2m0 -7.2l-7.2 7.2M1298.6 268.8l7.2 7.2m0 -7.2l-7.2 7.2M1303.1 270.4l7.2 7.2m0 -7.2l-7.2 7.2M1307.5 268.9l7.2 7.2m0 -7.2l-7.2 7.2M1311.9 270.0l7.2 7.2m0 -7.2l-7.2 7.2M1316.3 269.4l7.2 7.2m0 -7.2l-7.2 7.2M1320.8 269.8l7.2 7.2m0 -7.2l-7.2 7.2M1325.2 271.2l7.2 7.2m0 -7.2l-7.2 7.2M1329.6 268.7l7.2 7.2m0 -7.2l-7.2 7.2M1334.1 266.7l7.2 7.2m0 -7.2l-7.2 7.2M1338.5 264.6l7.2 7.2m0 -7.2l-7.2 7.2M1342.9 264.0l7.2 7.2m0 -7.2l-7.2 7.2M1347.3 262.7l7.2 7.2m0 -7.2l-7.2 7.2M1351.8 263.2l7.2 7.2m0 -7.2l-7.2 7.2M1356.2 261.5l7.2 7.2m0 -7.2l-7.2 7.2M1360.6 261.2l7.2 7.2m0 -7.2l-7.2 7.2M1365.0 262.3l7.2 7.2m0 -7.2l-7.2 7.2M1369.5 262.5l7.2 7.2m0 -7.2l-7.2 7.2M1373.9 263.4l7.2 7.2m0 -7.2l-7.2 7.2M1378.3 261.8l7.2 7.2m0 -7.2l-7.2 7.2M1382.7 260.7l7.2 7.2m0 -7.2l-7.2 7.2M1387.2 261.9l7.2 7.2m0 -7.2l-7.2 7.2M1391.6 261.6l7.2 7.2m0 -7.2l-7.2 7.2" stroke="#915048" stroke-width="1.30" fill="none"/>
<path d="M860.4 296.0l7.2 7.2m0 -7.2l-7.2 7.2M864.8 297.4l7.2 7.2m0 -7.2l-7.2 7.2M869.3 297.5l7.2 7.2m0 -7.2l-7.2 7.2M873.7 299.1l7.2 7.2m0 -7.2l-7.2 7.2M878.1 299.7l7.2 7.2m0 -7.2l-7.2 7.2M882.5 300.3l7.2 7.2m0 -7.2l-7.2 7.2M887.0 301.0l7.2 7.2m0 -7.2l-7.2 7.2M891.4 302.0l7.2 7.2m0 -7.2l-7.2 7.2M895.8 302.9l7.2 7.2m0 -7.2l-7.2 7.2M900.2 304.1l7.2 7.2m0 -7.2l-7.2 7.2M904.7 305.1l7.2 7.2m0 -7.2l-7.2 7.2M909.1 304.0l7.2 7.2m0 -7.2l-7.2 7.2M913.5 303.7l7.2 7.2m0 -7.2l-7.2 7.2M917.9 303.2l7.2 7.2m0 -7.2l-7.2 7.2M922.4 302.6l7.2 7.2m0 -7.2l-7.2 7.2M926.8 301.8l7.2 7.2m0 -7.2l-7.2 7.2M931.2 301.6l7.2 7.2m0 -7.2l-7.2 7.2M935.7 300.8l7.2 7.2m0 -7.2l-7.2 7.2M940.1 300.3l7.2 7.2m0 -7.2l-7.2 7.2M944.5 299.1l7.2 7.2m0 -7.2l-7.2 7.2M948.9 298.4l7.2 7.2m0 -7.2l-7.2 7.2M953.4 297.3l7.2 7.2m0 -7.2l-7.2 7.2M957.8 298.4l7.2 7.2m0 -7.2l-7.2 7.2M962.2 298.4l7.2 7.2m0 -7.2l-7.2 7.2M966.6 298.2l7.2 7.2m0 -7.2l-7.2 7.2M971.1 298.8l7.2 7.2m0 -7.2l-7.2 7.2M975.5 299.1l7.2 7.2m0 -7.2l-7.2 7.2M979.9 298.8l7.2 7.2m0 -7.2l-7.2 7.2M984.3 299.7l7.2 7.2m0 -7.2l-7.2 7.2M988.8 300.2l7.2 7.2m0 -7.2l-7.2 7.2M993.2 300.6l7.2 7.2m0 -7.2l-7.2 7.2M997.6 300.3l7.2 7.2m0 -7.2l-7.2 7.2M1002.1 300.6l7.2 7.2m0 -7.2l-7.2 7.2M1006.5 301.1l7.2 7.2m0 -7.2l-7.2 7.2M1010.9 300.9l7.2 7.2m0 -7.2l-7.2 7.2M1015.3 300.3l7.2 7.2m0 -7.2l-7.2 7.2M1019.8 300.1l7.2 7.2m0 -7.2l-7.2 7.2M1024.2 300.4l7.2 7.2m0 -7.2l-7.2 7.2M1028.6 299.8l7.2 7.2m0 -7.2l-7.2 7.2M1033.0 299.7l7.2 7.2m0 -7.2l-7.2 7.2M1037.5 300.3l7.2 7.2m0 -7.2l-7.2 7.2M1041.9 299.7l7.2 7.2m0 -7.2l-7.2 7.2M1046.3 299.3l7.2 7.2m0 -7.2l-7.2 7.2M1050.7 299.5l7.2 7.2m0 -7.2l-7.2 7.2M1055.2 299.5l7.2 7.2m0 -7.2l-7.2 7.2M1059.6 298.4l7.2 7.2m0 -7.2l-7.2 7.2M1064.0 297.5l7.2 7.2m0 -7.2l-7.2 7.2M1068.5 296.6l7.2 7.2m0 -7.2l-7.2 7.2M1072.9 297.2l7.2 7.2m0 -7.2l-7.2 7.2M1077.3 295.1l7.2 7.2m0 -7.2l-7.2 7.2M1081.7 295.6l7.2 7.2m0 -7.2l-7.2 7.2M1086.2 294.4l7.2 7.2m0 -7.2l-7.2 7.2M1090.6 293.7l7.2 7.2m0 -7.2l-7.2 7.2M1095.0 292.8l7.2 7.2m0 -7.2l-7.2 7.2M1099.4 291.9l7.2 7.2m0 -7.2l-7.2 7.2M1103.9 291.1l7.2 7.2m0 -7.2l-7.2 7.2M1108.3 289.5l7.2 7.2m0 -7.2l-7.2 7.2M1112.7 288.0l7.2 7.2m0 -7.2l-7.2 7.2M1117.1 286.4l7.2 7.2m0 -7.2l-7.2 7.2M1121.6 284.2l7.2 7.2m0 -7.2l-7.2 7.2M1126.0 285.2l7.2 7.2m0 -7.2l-7.2 7.2M1130.4 309.1l7.2 7.2m0 -7.2l-7.2 7.2M1134.9 317.9l7.2 7.2m0 -7.2l-7.2 7.2M1139.3 317.4l7.2 7.2m0 -7.2l-7.2 7.2M1143.7 316.3l7.2 7.2m0 -7.2l-7.2 7.2M1148.1 313.5l7.2 7.2m0 -7.2l-7.2 7.2M1152.6 311.6l7.2 7.2m0 -7.2l-7.2 7.2M1157.0 309.7l7.2 7.2m0 -7.2l-7.2 7.2M1161.4 307.8l7.2 7.2m0 -7.2l-7.2 7.2M1165.8 306.9l7.2 7.2m0 -7.2l-7.2 7.2M1170.3 305.2l7.2 7.2m0 -7.2l-7.2 7.2M1174.7 303.1l7.2 7.2m0 -7.2l-7.2 7.2M1179.1 302.3l7.2 7.2m0 -7.2l-7.2 7.2M1183.5 300.9l7.2 7.2m0 -7.2l-7.2 7.2M1188.0 299.7l7.2 7.2m0 -7.2l-7.2 7.2M1192.4 297.9l7.2 7.2m0 -7.2l-7.2 7.2M1196.8 297.3l7.2 7.2m0 -7.2l-7.2 7.2M1201.3 297.4l7.2 7.2m0 -7.2l-7.2 7.2M1205.7 296.8l7.2 7.2m0 -7.2l-7.2 7.2M1210.1 297.2l7.2 7.2m0 -7.2l-7.2 7.2M1214.5 296.8l7.2 7.2m0 -7.2l-7.2 7.2M1219.0 296.2l7.2 7.2m0 -7.2l-7.2 7.2M1223.4 296.7l7.2 7.2m0 -7.2l-7.2 7.2M1227.8 296.3l7.2 7.2m0 -7.2l-7.2 7.2M1232.2 296.7l7.2 7.2m0 -7.2l-7.2 7.2M1236.7 296.3l7.2 7.2m0 -7.2l-7.2 7.2M1241.1 296.0l7.2 7.2m0 -7.2l-7.2 7.2M1245.5 296.8l7.2 7.2m0 -7.2l-7.2 7.2M1249.9 296.5l7.2 7.2m0 -7.2l-7.2 7.2M1254.4 296.9l7.2 7.2m0 -7.2l-7.2 7.2M1258.8 297.1l7.2 7.2m0 -7.2l-7.2 7.2M1263.2 297.2l7.2 7.2m0 -7.2l-7.2 7.2M1267.7 296.4l7.2 7.2m0 -7.2l-7.2 7.2M1272.1 296.2l7.2 7.2m0 -7.2l-7.2 7.2M1276.5 296.8l7.2 7.2m0 -7.2l-7.2 7.2M1280.9 296.9l7.2 7.2m0 -7.2l-7.2 7.2M1285.4 296.3l7.2 7.2m0 -7.2l-7.2 7.2M1289.8 296.4l7.2 7.2m0 -7.2l-7.2 7.2M1294.2 295.8l7.2 7.2m0 -7.2l-7.2 7.2M1298.6 295.8l7.2 7.2m0 -7.2l-7.2 7.2M1303.1 295.6l7.2 7.2m0 -7.2l-7.2 7.2M1307.5 295.2l7.2 7.2m0 -7.2l-7.2 7.2M1311.9 295.4l7.2 7.2m0 -7.2l-7.2 7.2M1316.3 295.1l7.2 7.2m0 -7.2l-7.2 7.2M1320.8 295.3l7.2 7.2m0 -7.2l-7.2 7.2M1325.2 294.7l7.2 7.2m0 -7.2l-7.2 7.2M1329.6 294.7l7.2 7.2m0 -7.2l-7.2 7.2M1334.1 294.0l7.2 7.2m0 -7.2l-7.2 7.2M1338.5 294.0l7.2 7.2m0 -7.2l-7.2 7.2M1342.9 293.3l7.2 7.2m0 -7.2l-7.2 7.2M1347.3 292.9l7.2 7.2m0 -7.2l-7.2 7.2M1351.8 293.2l7.2 7.2m0 -7.2l-7.2 7.2M1356.2 292.7l7.2 7.2m0 -7.2l-7.2 7.2M1360.6 292.4l7.2 7.2m0 -7.2l-7.2 7.2M1365.0 291.6l7.2 7.2m0 -7.2l-7.2 7.2M1369.5 291.0l7.2 7.2m0 -7.2l-7.2 7.2M1373.9 291.0l7.2 7.2m0 -7.2l-7.2 7.2M1378.3 291.1l7.2 7.2m0 -7.2l-7.2 7.2M1382.7 290.2l7.2 7.2m0 -7.2l-7.2 7.2M1387.2 290.8l7.2 7.2m0 -7.2l-7.2 7.2M1391.6 289.6l7.2 7.2m0 -7.2l-7.2 7.2" stroke="#5f2f80" stroke-width="1.30" fill="none"/>
<path d="M860.4 321.0l7.2 7.2m0 -7.2l-7.2 7.2M864.8 321.2l7.2 7.2m0 -7.2l-7.2 7.2M869.3 319.0l7.2 7.2m0 -7.2l-7.2 7.2M873.7 318.9l7.2 7.2m0 -7.2l-7.2 7.2M878.1 319.2l7.2 7.2m0 -7.2l-7.2 7.2M882.5 318.4l7.2 7.2m0 -7.2l-7.2 7.2M887.0 318.0l7.2 7.2m0 -7.2l-7.2 7.2M891.4 317.4l7.2 7.2m0 -7.2l-7.2 7.2M895.8 317.4l7.2 7.2m0 -7.2l-7.2 7.2M900.2 317.8l7.2 7.2m0 -7.2l-7.2 7.2M904.7 318.0l7.2 7.2m0 -7.2l-7.2 7.2M909.1 318.7l7.2 7.2m0 -7.2l-7.2 7.2M913.5 319.0l7.2 7.2m0 -7.2l-7.2 7.2M917.9 320.0l7.2 7.2m0 -7.2l-7.2 7.2M922.4 319.9l7.2 7.2m0 -7.2l-7.2 7.2M926.8 321.4l7.2 7.2m0 -7.2l-7.2 7.2M931.2 321.5l7.2 7.2m0 -7.2l-7.2 7.2M935.7 322.0l7.2 7.2m0 -7.2l-7.2 7.2M940.1 321.6l7.2 7.2m0 -7.2l-7.2 7.2M944.5 320.7l7.2 7.2m0 -7.2l-7.2 7.2M948.9 321.3l7.2 7.2m0 -7.2l-7.2 7.2M953.4 320.7l7.2 7.2m0 -7.2l-7.2 7.2M957.8 320.7l7.2 7.2m0 -7.2l-7.2 7.2M962.2 320.9l7.2 7.2m0 -7.2l-7.2 7.2M966.6 320.5l7.2 7.2m0 -7.2l-7.2 7.2M971.1 320.4l7.2 7.2m0 -7.2l-7.2 7.2M975.5 320.3l7.2 7.2m0 -7.2l-7.2 7.2M979.9 319.8l7.2 7.2m0 -7.2l-7.2 7.2M984.3 319.8l7.2 7.2m0 -7.2l-7.2 7.2M988.8 320.1l7.2 7.2m0 -7.2l-7.2 7.2M993.2 320.1l7.2 7.2m0 -7.2l-7.2 7.2M997.6 319.7l7.2 7.2m0 -7.2l-7.2 7.2M1002.1 319.7l7.2 7.2m0 -7.2l-7.2 7.2M1006.5 319.3l7.2 7.2m0 -7.2l-7.2 7.2M1010.9 318.7l7.2 7.2m0 -7.2l-7.2 7.2M1015.3 319.2l7.2 7.2m0 -7.2l-7.2 7.2M1019.8 319.4l7.2 7.2m0 -7.2l-7.2 7.2M1024.2 319.4l7.2 7.2m0 -7.2l-7.2 7.2M1028.6 319.5l7.2 7.2m0 -7.2l-7.2 7.2M1033.0 319.6l7.2 7.2m0 -7.2l-7.2 7.2M1037.5 319.6l7.2 7.2m0 -7.2l-7.2 7.2M1041.9 319.4l7.2 7.2m0 -7.2l-7.2 7.2M1046.3 319.4l7.2 7.2m0 -7.2l-7.2 7.2M1050.7 319.1l7.2 7.2m0 -7.2l-7.2 7.2M1055.2 319.4l7.2 7.2m0 -7.2l-7.2 7.2M1059.6 319.3l7.2 7.2m0 -7.2l-7.2 7.2M1064.0 319.7l7.2 7.2m0 -7.2l-7.2 7.2M1068.5 318.8l7.2 7.2m0 -7.2l-7.2 7.2M1072.9 319.1l7.2 7.2m0 -7.2l-7.2 7.2M1077.3 318.7l7.2 7.2m0 -7.2l-7.2 7.2M1081.7 318.8l7.2 7.2m0 -7.2l-7.2 7.2M1086.2 318.4l7.2 7.2m0 -7.2l-7.2 7.2M1090.6 318.8l7.2 7.2m0 -7.2l-7.2 7.2M1095.0 318.3l7.2 7.2m0 -7.2l-7.2 7.2M1099.4 316.2l7.2 7.2m0 -7.2l-7.2 7.2M1103.9 316.0l7.2 7.2m0 -7.2l-7.2 7.2M1108.3 314.2l7.2 7.2m0 -7.2l-7.2 7.2M1112.7 312.5l7.2 7.2m0 -7.2l-7.2 7.2M1117.1 309.9l7.2 7.2m0 -7.2l-7.2 7.2M1121.6 307.9l7.2 7.2m0 -7.2l-7.2 7.2M1126.0 307.6l7.2 7.2m0 -7.2l-7.2 7.2M1130.4 325.9l7.2 7.2m0 -7.2l-7.2 7.2M1134.9 333.4l7.2 7.2m0 -7.2l-7.2 7.2M1139.3 333.0l7.2 7.2m0 -7.2l-7.2 7.2M1143.7 331.5l7.2 7.2m0 -7.2l-7.2 7.2M1148.1 329.3l7.2 7.2m0 -7.2l-7.2 7.2M1152.6 326.7l7.2 7.2m0 -7.2l-7.2 7.2M1157.0 324.2l7.2 7.2m0 -7.2l-7.2 7.2M1161.4 323.1l7.2 7.2m0 -7.2l-7.2 7.2M1165.8 322.6l7.2 7.2m0 -7.2l-7.2 7.2M1170.3 320.5l7.2 7.2m0 -7.2l-7.2 7.2M1174.7 319.7l7.2 7.2m0 -7.2l-7.2 7.2M1179.1 319.3l7.2 7.2m0 -7.2l-7.2 7.2M1183.5 319.2l7.2 7.2m0 -7.2l-7.2 7.2M1188.0 318.6l7.2 7.2m0 -7.2l-7.2 7.2M1192.4 317.9l7.2 7.2m0 -7.2l-7.2 7.2M1196.8 317.5l7.2 7.2m0 -7.2l-7.2 7.2M1201.3 318.0l7.2 7.2m0 -7.2l-7.2 7.2M1205.7 317.1l7.2 7.2m0 -7.2l-7.2 7.2M1210.1 316.2l7.2 7.2m0 -7.2l-7.2 7.2M1214.5 317.5l7.2 7.2m0 -7.2l-7.2 7.2M1219.0 316.4l7.2 7.2m0 -7.2l-7.2 7.2M1223.4 316.4l7.2 7.2m0 -7.2l-7.2 7.2M1227.8 316.4l7.2 7.2m0 -7.2l-7.2 7.2M1232.2 315.7l7.2 7.2m0 -7.2l-7.2 7.2M1236.7 316.4l7.2 7.2m0 -7.2l-7.2 7.2M1241.1 315.8l7.2 7.2m0 -7.2l-7.2 7.2M1245.5 315.2l7.2 7.2m0 -7.2l-7.2 7.2M1249.9 315.5l7.2 7.2m0 -7.2l-7.2 7.2M1254.4 315.6l7.2 7.2m0 -7.2l-7.2 7.2M1258.8 315.4l7.2 7.2m0 -7.2l-7.2 7.2M1263.2 315.6l7.2 7.2m0 -7.2l-7.2 7.2M1267.7 314.9l7.2 7.2m0 -7.2l-7.2 7.2M1272.1 315.7l7.2 7.2m0 -7.2l-7.2 7.2M1276.5 315.2l7.2 7.2m0 -7.2l-7.2 7.2M1280.9 315.8l7.2 7.2m0 -7.2l-7.2 7.2M1285.4 315.2l7.2 7.2m0 -7.2l-7.2 7.2M1289.8 315.5l7.2 7.2m0 -7.2l-7.2 7.2M1294.2 316.3l7.2 7.2m0 -7.2l-7.2 7.2M1298.6 315.4l7.2 7.2m0 -7.2l-7.2 7.2M1303.1 315.8l7.2 7.2m0 -7.2l-7.2 7.2M1307.5 315.6l7.2 7.2m0 -7.2l-7.2 7.2M1311.9 314.9l7.2 7.2m0 -7.2l-7.2 7.2M1316.3 315.8l7.2 7.2m0 -7.2l-7.2 7.2M1320.8 315.8l7.2 7.2m0 -7.2l-7.2 7.2M1325.2 315.0l7.2 7.2m0 -7.2l-7.2 7.2M1329.6 315.5l7.2 7.2m0 -7.2l-7.2 7.2M1334.1 315.2l7.2 7.2m0 -7.2l-7.2 7.2M1338.5 315.7l7.2 7.2m0 -7.2l-7.2 7.2M1342.9 316.1l7.2 7.2m0 -7.2l-7.2 7.2M1347.3 316.0l7.2 7.2m0 -7.2l-7.2 7.2M1351.8 315.7l7.2 7.2m0 -7.2l-7.2 7.2M1356.2 315.9l7.2 7.2m0 -7.2l-7.2 7.2M1360.6 316.3l7.2 7.2m0 -7.2l-7.2 7.2M1365.0 316.4l7.2 7.2m0 -7.2l-7.2 7.2M1369.5 316.5l7.2 7.2m0 -7.2l-7.2 7.2M1373.9 316.8l7.2 7.2m0 -7.2l-7.2 7.2M1378.3 316.1l7.2 7.2m0 -7.2l-7.2 7.2M1382.7 316.8l7.2 7.2m0 -7.2l-7.2 7.2M1387.2 317.2l7.2 7.2m0 -7.2l-7.2 7.2M1391.6 317.1l7.2 7.2m0 -7.2l-7.2 7.2" stroke="#7a3f62" stroke-width="1.30" fill="none"/>
<path d="M860.4 336.7l7.2 7.2m0 -7.2l-7.2 7.2M864.8 336.9l7.2 7.2m0 -7.2l-7.2 7.2M869.3 337.3l7.2 7.2m0 -7.2l-7.2 7.2M873.7 337.6l7.2 7.2m0 -7.2l-7.2 7.2M878.1 337.6l7.2 7.2m0 -7.2l-7.2 7.2M882.5 338.2l7.2 7.2m0 -7.2l-7.2 7.2M887.0 338.3l7.2 7.2m0 -7.2l-7.2 7.2M891.4 337.7l7.2 7.2m0 -7.2l-7.2 7.2M895.8 338.3l7.2 7.2m0 -7.2l-7.2 7.2M900.2 338.2l7.2 7.2m0 -7.2l-7.2 7.2M904.7 338.1l7.2 7.2m0 -7.2l-7.2 7.2M909.1 338.4l7.2 7.2m0 -7.2l-7.2 7.2M913.5 338.7l7.2 7.2m0 -7.2l-7.2 7.2M917.9 338.2l7.2 7.2m0 -7.2l-7.2 7.2M922.4 338.8l7.2 7.2m0 -7.2l-7.2 7.2M926.8 339.3l7.2 7.2m0 -7.2l-7.2 7.2M931.2 339.0l7.2 7.2m0 -7.2l-7.2 7.2M935.7 339.0l7.2 7.2m0 -7.2l-7.2 7.2M940.1 339.2l7.2 7.2m0 -7.2l-7.2 7.2M944.5 338.8l7.2 7.2m0 -7.2l-7.2 7.2M948.9 338.7l7.2 7.2m0 -7.2l-7.2 7.2M953.4 339.2l7.2 7.2m0 -7.2l-7.2 7.2M957.8 338.5l7.2 7.2m0 -7.2l-7.2 7.2M962.2 338.4l7.2 7.2m0 -7.2l-7.2 7.2M966.6 338.3l7.2 7.2m0 -7.2l-7.2 7.2M971.1 338.5l7.2 7.2m0 -7.2l-7.2 7.2M975.5 338.0l7.2 7.2m0 -7.2l-7.2 7.2M979.9 337.7l7.2 7.2m0 -7.2l-7.2 7.2M984.3 337.5l7.2 7.2m0 -7.2l-7.2 7.2M988.8 337.8l7.2 7.2m0 -7.2l-7.2 7.2M993.2 337.1l7.2 7.2m0 -7.2l-7.2 7.2M997.6 337.5l7.2 7.2m0 -7.2l-7.2 7.2M1002.1 337.1l7.2 7.2m0 -7.2l-7.2 7.2M1006.5 336.5l7.2 7.2m0 -7.2l-7.2 7.2M1010.9 337.1l7.2 7.2m0 -7.2l-7.2 7.2M1015.3 337.0l7.2 7.2m0 -7.2l-7.2 7.2M1019.8 336.5l7.2 7.2m0 -7.2l-7.2 7.2M1024.2 336.9l7.2 7.2m0 -7.2l-7.2 7.2M1028.6 336.8l7.2 7.2m0 -7.2l-7.2 7.2M1033.0 336.6l7.2 7.2m0 -7.2l-7.2 7.2M1037.5 336.3l7.2 7.2m0 -7.2l-7.2 7.2M1041.9 337.3l7.2 7.2m0 -7.2l-7.2 7.2M1046.3 336.8l7.2 7.2m0 -7.2l-7.2 7.2M1050.7 336.8l7.2 7.2m0 -7.2l-7.2 7.2M1055.2 336.8l7.2 7.2m0 -7.2l-7.2 7.2M1059.6 336.7l7.2 7.2m0 -7.2l-7.2 7.2M1064.0 336.6l7.2 7.2m0 -7.2l-7.2 7.2M1068.5 336.2l7.2 7.2m0 -7.2l-7.2 7.2M1072.9 336.5l7.2 7.2m0 -7.2l-7.2 7.2M1077.3 336.2l7.2 7.2m0 -7.2l-7.2 7.2M1081.7 335.7l7.2 7.2m0 -7.2l-7.2 7.2M1086.2 335.7l7.2 7.2m0 -7.2l-7.2 7.2M1090.6 335.0l7.2 7.2m0 -7.2l-7.2 7.2M1095.0 334.1l7.2 7.2m0 -7.2l-7.2 7.2M1099.4 333.8l7.2 7.2m0 -7.2l-7.2 7.2M1103.9 333.3l7.2 7.2m0 -7.2l-7.2 7.2M1108.3 332.3l7.2 7.2m0 -7.2l-7.2 7.2M1112.7 330.4l7.2 7.2m0 -7.2l-7.2 7.2M1117.1 327.7l7.2 7.2m0 -7.2l-7.2 7.2M1121.6 324.5l7.2 7.2m0 -7.2l-7.2 7.2M1126.0 324.1l7.2 7.2m0 -7.2l-7.2 7.2M1130.4 337.5l7.2 7.2m0 -7.2l-7.2 7.2M1134.9 343.7l7.2 7.2m0 -7.2l-7.2 7.2M1139.3 343.1l7.2 7.2m0 -7.2l-7.2 7.2M1143.7 343.3l7.2 7.2m0 -7.2l-7.2 7.2M1148.1 341.9l7.2 7.2m0 -7.2l-7.2 7.2M1152.6 340.1l7.2 7.2m0 -7.2l-7.2 7.2M1157.0 338.3l7.2 7.2m0 -7.2l-7.2 7.2M1161.4 337.1l7.2 7.2m0 -7.2l-7.2 7.2M1165.8 337.5l7.2 7.2m0 -7.2l-7.2 7.2M1170.3 337.1l7.2 7.2m0 -7.2l-7.2 7.2M1174.7 336.8l7.2 7.2m0 -7.2l-7.2 7.2M1179.1 336.2l7.2 7.2m0 -7.2l-7.2 7.2M1183.5 335.6l7.2 7.2m0 -7.2l-7.2 7.2M1188.0 335.3l7.2 7.2m0 -7.2l-7.2 7.2M1192.4 334.3l7.2 7.2m0 -7.2l-7.2 7.2M1196.8 334.6l7.2 7.2m0 -7.2l-7.2 7.2M1201.3 334.1l7.2 7.2m0 -7.2l-7.2 7.2M1205.7 334.4l7.2 7.2m0 -7.2l-7.2 7.2M1210.1 334.3l7.2 7.2m0 -7.2l-7.2 7.2M1214.5 334.8l7.2 7.2m0 -7.2l-7.2 7.2M1219.0 334.4l7.2 7.2m0 -7.2l-7.2 7.2M1223.4 334.3l7.2 7.2m0 -7.2l-7.2 7.2M1227.8 334.3l7.2 7.2m0 -7.2l-7.2 7.2M1232.2 334.8l7.2 7.2m0 -7.2l-7.2 7.2M1236.7 333.8l7.2 7.2m0 -7.2l-7.2 7.2M1241.1 334.1l7.2 7.2m0 -7.2l-7.2 7.2M1245.5 334.1l7.2 7.2m0 -7.2l-7.2 7.2M1249.9 334.0l7.2 7.2m0 -7.2l-7.2 7.2M1254.4 333.7l7.2 7.2m0 -7.2l-7.2 7.2M1258.8 333.2l7.2 7.2m0 -7.2l-7.2 7.2M1263.2 333.5l7.2 7.2m0 -7.2l-7.2 7.2M1267.7 333.1l7.2 7.2m0 -7.2l-7.2 7.2M1272.1 332.4l7.2 7.2m0 -7.2l-7.2 7.2M1276.5 332.2l7.2 7.2m0 -7.2l-7.2 7.2M1280.9 332.1l7.2 7.2m0 -7.2l-7.2 7.2M1285.4 331.9l7.2 7.2m0 -7.2l-7.2 7.2M1289.8 331.7l7.2 7.2m0 -7.2l-7.2 7.2M1294.2 331.2l7.2 7.2m0 -7.2l-7.2 7.2M1298.6 330.5l7.2 7.2m0 -7.2l-7.2 7.2M1303.1 331.1l7.2 7.2m0 -7.2l-7.2 7.2M1307.5 330.3l7.2 7.2m0 -7.2l-7.2 7.2M1311.9 330.6l7.2 7.2m0 -7.2l-7.2 7.2M1316.3 331.0l7.2 7.2m0 -7.2l-7.2 7.2M1320.8 330.6l7.2 7.2m0 -7.2l-7.2 7.2M1325.2 331.3l7.2 7.2m0 -7.2l-7.2 7.2M1329.6 331.4l7.2 7.2m0 -7.2l-7.2 7.2M1334.1 331.2l7.2 7.2m0 -7.2l-7.2 7.2M1338.5 330.9l7.2 7.2m0 -7.2l-7.2 7.2M1342.9 330.9l7.2 7.2m0 -7.2l-7.2 7.2M1347.3 331.0l7.2 7.2m0 -7.2l-7.2 7.2M1351.8 330.8l7.2 7.2m0 -7.2l-7.2 7.2M1356.2 331.5l7.2 7.2m0 -7.2l-7.2 7.2M1360.6 330.7l7.2 7.2m0 -7.2l-7.2 7.2M1365.0 331.3l7.2 7.2m0 -7.2l-7.2 7.2M1369.5 331.0l7.2 7.2m0 -7.2l-7.2 7.2M1373.9 330.9l7.2 7.2m0 -7.2l-7.2 7.2M1378.3 331.2l7.2 7.2m0 -7.2l-7.2 7.2M1382.7 331.2l7.2 7.2m0 -7.2l-7.2 7.2M1387.2 331.1l7.2 7.2m0 -7.2l-7.2 7.2M1391.6 330.8l7.2 7.2m0 -7.2l-7.2 7.2" stroke="#5030a8" stroke-width="1.30" fill="none"/>
<path d="M860.4 346.8l7.2 7.2m0 -7.2l-7.2 7.2M864.8 347.0l7.2 7.2m0 -7.2l-7.2 7.2M869.3 347.7l7.2 7.2m0 -7.2l-7.2 7.2M873.7 347.9l7.2 7.2m0 -7.2l-7.2 7.2M878.1 348.2l7.2 7.2m0 -7.2l-7.2 7.2M882.5 348.0l7.2 7.2m0 -7.2l-7.2 7.2M887.0 349.0l7.2 7.2m0 -7.2l-7.2 7.2M891.4 348.2l7.2 7.2m0 -7.2l-7.2 7.2M895.8 349.0l7.2 7.2m0 -7.2l-7.2 7.2M900.2 349.3l7.2 7.2m0 -7.2l-7.2 7.2M904.7 349.2l7.2 7.2m0 -7.2l-7.2 7.2M909.1 349.1l7.2 7.2m0 -7.2l-7.2 7.2M913.5 349.4l7.2 7.2m0 -7.2l-7.2 7.2M917.9 349.4l7.2 7.2m0 -7.2l-7.2 7.2M922.4 349.8l7.2 7.2m0 -7.2l-7.2 7.2M926.8 349.6l7.2 7.2m0 -7.2l-7.2 7.2M931.2 349.7l7.2 7.2m0 -7.2l-7.2 7.2M935.7 350.3l7.2 7.2m0 -7.2l-7.2 7.2M940.1 349.9l7.2 7.2m0 -7.2l-7.2 7.2M944.5 350.4l7.2 7.2m0 -7.2l-7.2 7.2M948.9 350.6l7.2 7.2m0 -7.2l-7.2 7.2M953.4 351.1l7.2 7.2m0 -7.2l-7.2 7.2M957.8 350.9l7.2 7.2m0 -7.2l-7.2 7.2M962.2 350.6l7.2 7.2m0 -7.2l-7.2 7.2M966.6 351.2l7.2 7.2m0 -7.2l-7.2 7.2M971.1 350.6l7.2 7.2m0 -7.2l-7.2 7.2M975.5 350.7l7.2 7.2m0 -7.2l-7.2 7.2M979.9 350.7l7.2 7.2m0 -7.2l-7.2 7.2M984.3 351.5l7.2 7.2m0 -7.2l-7.2 7.2M988.8 350.8l7.2 7.2m0 -7.2l-7.2 7.2M993.2 350.6l7.2 7.2m0 -7.2l-7.2 7.2M997.6 351.1l7.2 7.2m0 -7.2l-7.2 7.2M1002.1 350.8l7.2 7.2m0 -7.2l-7.2 7.2M1006.5 351.4l7.2 7.2m0 -7.2l-7.2 7.2M1010.9 350.3l7.2 7.2m0 -7.2l-7.2 7.2M1015.3 350.5l7.2 7.2m0 -7.2l-7.2 7.2M1019.8 349.8l7.2 7.2m0 -7.2l-7.2 7.2M1024.2 350.4l7.2 7.2m0 -7.2l-7.2 7.2M1028.6 349.4l7.2 7.2m0 -7.2l-7.2 7.2M1033.0 349.5l7.2 7.2m0 -7.2l-7.2 7.2M1037.5 349.0l7.2 7.2m0 -7.2l-7.2 7.2M1041.9 349.3l7.2 7.2m0 -7.2l-7.2 7.2M1046.3 349.0l7.2 7.2m0 -7.2l-7.2 7.2M1050.7 347.9l7.2 7.2m0 -7.2l-7.2 7.2M1055.2 348.7l7.2 7.2m0 -7.2l-7.2 7.2M1059.6 348.6l7.2 7.2m0 -7.2l-7.2 7.2M1064.0 348.4l7.2 7.2m0 -7.2l-7.2 7.2M1068.5 348.5l7.2 7.2m0 -7.2l-7.2 7.2M1072.9 347.8l7.2 7.2m0 -7.2l-7.2 7.2M1077.3 347.5l7.2 7.2m0 -7.2l-7.2 7.2M1081.7 348.2l7.2 7.2m0 -7.2l-7.2 7.2M1086.2 348.4l7.2 7.2m0 -7.2l-7.2 7.2M1090.6 347.5l7.2 7.2m0 -7.2l-7.2 7.2M1095.0 347.4l7.2 7.2m0 -7.2l-7.2 7.2M1099.4 346.7l7.2 7.2m0 -7.2l-7.2 7.2M1103.9 345.9l7.2 7.2m0 -7.2l-7.2 7.2M1108.3 345.5l7.2 7.2m0 -7.2l-7.2 7.2M1112.7 344.5l7.2 7.2m0 -7.2l-7.2 7.2M1117.1 342.8l7.2 7.2m0 -7.2l-7.2 7.2M1121.6 340.5l7.2 7.2m0 -7.2l-7.2 7.2M1126.0 338.0l7.2 7.2m0 -7.2l-7.2 7.2M1130.4 348.7l7.2 7.2m0 -7.2l-7.2 7.2M1134.9 353.0l7.2 7.2m0 -7.2l-7.2 7.2M1139.3 352.1l7.2 7.2m0 -7.2l-7.2 7.2M1143.7 350.8l7.2 7.2m0 -7.2l-7.2 7.2M1148.1 350.1l7.2 7.2m0 -7.2l-7.2 7.2M1152.6 349.2l7.2 7.2m0 -7.2l-7.2 7.2M1157.0 349.1l7.2 7.2m0 -7.2l-7.2 7.2M1161.4 349.5l7.2 7.2m0 -7.2l-7.2 7.2M1165.8 348.8l7.2 7.2m0 -7.2l-7.2 7.2M1170.3 348.3l7.2 7.2m0 -7.2l-7.2 7.2M1174.7 348.7l7.2 7.2m0 -7.2l-7.2 7.2M1179.1 348.7l7.2 7.2m0 -7.2l-7.2 7.2M1183.5 348.0l7.2 7.2m0 -7.2l-7.2 7.2M1188.0 348.2l7.2 7.2m0 -7.2l-7.2 7.2M1192.4 348.5l7.2 7.2m0 -7.2l-7.2 7.2M1196.8 348.2l7.2 7.2m0 -7.2l-7.2 7.2M1201.3 348.2l7.2 7.2m0 -7.2l-7.2 7.2M1205.7 347.8l7.2 7.2m0 -7.2l-7.2 7.2M1210.1 347.8l7.2 7.2m0 -7.2l-7.2 7.2M1214.5 347.4l7.2 7.2m0 -7.2l-7.2 7.2M1219.0 347.4l7.2 7.2m0 -7.2l-7.2 7.2M1223.4 348.0l7.2 7.2m0 -7.2l-7.2 7.2M1227.8 347.3l7.2 7.2m0 -7.2l-7.2 7.2M1232.2 347.1l7.2 7.2m0 -7.2l-7.2 7.2M1236.7 347.1l7.2 7.2m0 -7.2l-7.2 7.2M1241.1 346.8l7.2 7.2m0 -7.2l-7.2 7.2M1245.5 347.2l7.2 7.2m0 -7.2l-7.2 7.2M1249.9 347.3l7.2 7.2m0 -7.2l-7.2 7.2M1254.4 346.5l7.2 7.2m0 -7.2l-7.2 7.2M1258.8 346.9l7.2 7.2m0 -7.2l-7.2 7.2M1263.2 347.0l7.2 7.2m0 -7.2l-7.2 7.2M1267.7 345.8l7.2 7.2m0 -7.2l-7.2 7.2M1272.1 346.2l7.2 7.2m0 -7.2l-7.2 7.2M1276.5 345.8l7.2 7.2m0 -7.2l-7.2 7.2M1280.9 346.0l7.2 7.2m0 -7.2l-7.2 7.2M1285.4 345.8l7.2 7.2m0 -7.2l-7.2 7.2M1289.8 345.5l7.2 7.2m0 -7.2l-7.2 7.2M1294.2 345.0l7.2 7.2m0 -7.2l-7.2 7.2M1298.6 344.6l7.2 7.2m0 -7.2l-7.2 7.2M1303.1 345.4l7.2 7.2m0 -7.2l-7.2 7.2M1307.5 344.4l7.2 7.2m0 -7.2l-7.2 7.2M1311.9 345.0l7.2 7.2m0 -7.2l-7.2 7.2M1316.3 345.0l7.2 7.2m0 -7.2l-7.2 7.2M1320.8 344.5l7.2 7.2m0 -7.2l-7.2 7.2M1325.2 344.7l7.2 7.2m0 -7.2l-7.2 7.2M1329.6 345.1l7.2 7.2m0 -7.2l-7.2 7.2M1334.1 344.1l7.2 7.2m0 -7.2l-7.2 7.2M1338.5 344.9l7.2 7.2m0 -7.2l-7.2 7.2M1342.9 344.6l7.2 7.2m0 -7.2l-7.2 7.2M1347.3 344.6l7.2 7.2m0 -7.2l-7.2 7.2M1351.8 344.2l7.2 7.2m0 -7.2l-7.2 7.2M1356.2 344.8l7.2 7.2m0 -7.2l-7.2 7.2M1360.6 344.4l7.2 7.2m0 -7.2l-7.2 7.2M1365.0 344.9l7.2 7.2m0 -7.2l-7.2 7.2M1369.5 344.3l7.2 7.2m0 -7.2l-7.2 7.2M1373.9 344.9l7.2 7.2m0 -7.2l-7.2 7.2M1378.3 344.8l7.2 7.2m0 -7.2l-7.2 7.2M1382.7 344.1l7.2 7.2m0 -7.2l-7.2 7.2M1387.2 344.6l7.2 7.2m0 -7.2l-7.2 7.2M1391.6 344.6l7.2 7.2m0 -7.2l-7.2 7.2" stroke="#2010ff" stroke-width="1.30" fill="none"/>
</g>
<path d="M982.04 399.80v-13.40M1129.60 399.80v-13.40M1277.16 399.80v-13.40M864.00 399.80h13.40M864.00 322.88h13.40M864.00 245.96h13.40M864.00 169.04h13.40M864.00 92.12h13.40M864.00 15.20h13.40" stroke="#000" stroke-width="2.4" fill="none"/>
<rect x="864.00" y="15.20" width="531.20" height="384.60" fill="none" stroke="#000" stroke-width="1.25"/>
<path d="M1650.03 14.10V411.50M1756.75 14.10V411.50M1863.47 14.10V411.50M1543.30 291.87H1970.20M1543.30 172.24H1970.20M1543.30 102.26H1970.20M1543.30 52.61H1970.20" stroke="#b6b6b6" stroke-width="1.2" fill="none"/>
<g clip-path="url(#cC)">
<path d="M1532.63 52.07L1564.64 48.37L1596.66 45.90L1628.68 43.44L1660.70 40.97L1692.71 38.99L1724.73 38.99L1756.75 45.90L1788.77 78.97L1820.79 106.61L1852.80 111.55L1884.82 109.58L1916.84 105.63L1948.86 102.17L1980.87 99.21" stroke="#c8741f" stroke-width="2.2" fill="none" stroke-linejoin="round"/>
<path d="M1560.8 44.6l7.6 7.6m0 -7.6l-7.6 7.6M1592.9 42.1l7.6 7.6m0 -7.6l-7.6 7.6M1624.9 39.6l7.6 7.6m0 -7.6l-7.6 7.6M1656.9 37.2l7.6 7.6m0 -7.6l-7.6 7.6M1688.9 35.2l7.6 7.6m0 -7.6l-7.6 7.6M1720.9 35.2l7.6 7.6m0 -7.6l-7.6 7.6M1753.0 42.1l7.6 7.6m0 -7.6l-7.6 7.6M1785.0 75.2l7.6 7.6m0 -7.6l-7.6 7.6M1817.0 102.8l7.6 7.6m0 -7.6l-7.6 7.6M1849.0 107.7l7.6 7.6m0 -7.6l-7.6 7.6M1881.0 105.8l7.6 7.6m0 -7.6l-7.6 7.6M1913.0 101.8l7.6 7.6m0 -7.6l-7.6 7.6M1945.1 98.4l7.6 7.6m0 -7.6l-7.6 7.6" stroke="#c8741f" stroke-width="1.30" fill="none"/>
<path d="M1532.63 122.66L1564.64 118.95L1596.66 115.99L1628.68 112.04L1660.70 107.60L1692.71 105.63L1724.73 105.13L1756.75 110.56L1788.77 147.09L1820.79 172.75L1852.80 175.22L1884.82 173.25L1916.84 170.29L1948.86 167.32L1980.87 163.62" stroke="#e8981e" stroke-width="2.2" fill="none" stroke-linejoin="round"/>
<path d="M1560.8 115.2l7.6 7.6m0 -7.6l-7.6 7.6M1592.9 112.2l7.6 7.6m0 -7.6l-7.6 7.6M1624.9 108.2l7.6 7.6m0 -7.6l-7.6 7.6M1656.9 103.8l7.6 7.6m0 -7.6l-7.6 7.6M1688.9 101.8l7.6 7.6m0 -7.6l-7.6 7.6M1720.9 101.3l7.6 7.6m0 -7.6l-7.6 7.6M1753.0 106.8l7.6 7.6m0 -7.6l-7.6 7.6M1785.0 143.3l7.6 7.6m0 -7.6l-7.6 7.6M1817.0 169.0l7.6 7.6m0 -7.6l-7.6 7.6M1849.0 171.4l7.6 7.6m0 -7.6l-7.6 7.6M1881.0 169.4l7.6 7.6m0 -7.6l-7.6 7.6M1913.0 166.5l7.6 7.6m0 -7.6l-7.6 7.6M1945.1 163.5l7.6 7.6m0 -7.6l-7.6 7.6" stroke="#e8981e" stroke-width="1.30" fill="none"/>
<path d="M1532.63 204.34L1564.64 202.86L1596.66 200.89L1628.68 198.42L1660.70 192.99L1692.71 189.04L1724.73 185.59L1756.75 188.55L1788.77 231.49L1820.79 249.75L1852.80 247.78L1884.82 243.34L1916.84 238.89L1948.86 235.44L1980.87 231.00" stroke="#915048" stroke-width="2.2" fill="none" stroke-linejoin="round"/>
<path d="M1560.8 199.1l7.6 7.6m0 -7.6l-7.6 7.6M1592.9 197.1l7.6 7.6m0 -7.6l-7.6 7.6M1624.9 194.6l7.6 7.6m0 -7.6l-7.6 7.6M1656.9 189.2l7.6 7.6m0 -7.6l-7.6 7.6M1688.9 185.2l7.6 7.6m0 -7.6l-7.6 7.6M1720.9 181.8l7.6 7.6m0 -7.6l-7.6 7.6M1753.0 184.7l7.6 7.6m0 -7.6l-7.6 7.6M1785.0 227.7l7.6 7.6m0 -7.6l-7.6 7.6M1817.0 246.0l7.6 7.6m0 -7.6l-7.6 7.6M1849.0 244.0l7.6 7.6m0 -7.6l-7.6 7.6M1881.0 239.5l7.6 7.6m0 -7.6l-7.6 7.6M1913.0 235.1l7.6 7.6m0 -7.6l-7.6 7.6M1945.1 231.6l7.6 7.6m0 -7.6l-7.6 7.6" stroke="#915048" stroke-width="1.30" fill="none"/>
<path d="M1532.63 243.58L1564.64 242.84L1596.66 239.39L1628.68 235.44L1660.70 232.97L1692.71 230.50L1724.73 227.05L1756.75 228.53L1788.77 270.48L1820.79 288.75L1852.80 287.76L1884.82 285.29L1916.84 282.33L1948.86 279.37L1980.87 276.41" stroke="#5f2f80" stroke-width="2.2" fill="none" stroke-linejoin="round"/>
<path d="M1560.8 239.0l7.6 7.6m0 -7.6l-7.6 7.6M1592.9 235.6l7.6 7.6m0 -7.6l-7.6 7.6M1624.9 231.6l7.6 7.6m0 -7.6l-7.6 7.6M1656.9 229.2l7.6 7.6m0 -7.6l-7.6 7.6M1688.9 226.7l7.6 7.6m0 -7.6l-7.6 7.6M1720.9 223.2l7.6 7.6m0 -7.6l-7.6 7.6M1753.0 224.7l7.6 7.6m0 -7.6l-7.6 7.6M1785.0 266.7l7.6 7.6m0 -7.6l-7.6 7.6M1817.0 284.9l7.6 7.6m0 -7.6l-7.6 7.6M1849.0 284.0l7.6 7.6m0 -7.6l-7.6 7.6M1881.0 281.5l7.6 7.6m0 -7.6l-7.6 7.6M1913.0 278.5l7.6 7.6m0 -7.6l-7.6 7.6M1945.1 275.6l7.6 7.6m0 -7.6l-7.6 7.6" stroke="#5f2f80" stroke-width="1.30" fill="none"/>
<path d="M1532.63 293.19L1564.64 290.23L1596.66 286.28L1628.68 280.85L1660.70 277.39L1692.71 271.96L1724.73 268.02L1756.75 267.52L1788.77 307.50L1820.79 326.75L1852.80 325.77L1884.82 321.82L1916.84 317.87L1948.86 315.89L1980.87 309.97" stroke="#7a3f62" stroke-width="2.2" fill="none" stroke-linejoin="round"/>
<path d="M1560.8 286.4l7.6 7.6m0 -7.6l-7.6 7.6M1592.9 282.5l7.6 7.6m0 -7.6l-7.6 7.6M1624.9 277.0l7.6 7.6m0 -7.6l-7.6 7.6M1656.9 273.6l7.6 7.6m0 -7.6l-7.6 7.6M1688.9 268.2l7.6 7.6m0 -7.6l-7.6 7.6M1720.9 264.2l7.6 7.6m0 -7.6l-7.6 7.6M1753.0 263.7l7.6 7.6m0 -7.6l-7.6 7.6M1785.0 303.7l7.6 7.6m0 -7.6l-7.6 7.6M1817.0 323.0l7.6 7.6m0 -7.6l-7.6 7.6M1849.0 322.0l7.6 7.6m0 -7.6l-7.6 7.6M1881.0 318.0l7.6 7.6m0 -7.6l-7.6 7.6M1913.0 314.1l7.6 7.6m0 -7.6l-7.6 7.6M1945.1 312.1l7.6 7.6m0 -7.6l-7.6 7.6" stroke="#7a3f62" stroke-width="1.30" fill="none"/>
<path d="M1532.63 327.49L1564.64 326.75L1596.66 325.77L1628.68 323.79L1660.70 318.85L1692.71 311.94L1724.73 304.05L1756.75 303.06L1788.77 338.60L1820.79 357.85L1852.80 355.87L1884.82 356.37L1916.84 353.41L1948.86 347.48L1980.87 346.74" stroke="#5030a8" stroke-width="2.2" fill="none" stroke-linejoin="round"/>
<path d="M1560.8 323.0l7.6 7.6m0 -7.6l-7.6 7.6M1592.9 322.0l7.6 7.6m0 -7.6l-7.6 7.6M1624.9 320.0l7.6 7.6m0 -7.6l-7.6 7.6M1656.9 315.1l7.6 7.6m0 -7.6l-7.6 7.6M1688.9 308.1l7.6 7.6m0 -7.6l-7.6 7.6M1720.9 300.2l7.6 7.6m0 -7.6l-7.6 7.6M1753.0 299.3l7.6 7.6m0 -7.6l-7.6 7.6M1785.0 334.8l7.6 7.6m0 -7.6l-7.6 7.6M1817.0 354.0l7.6 7.6m0 -7.6l-7.6 7.6M1849.0 352.1l7.6 7.6m0 -7.6l-7.6 7.6M1881.0 352.6l7.6 7.6m0 -7.6l-7.6 7.6M1913.0 349.6l7.6 7.6m0 -7.6l-7.6 7.6M1945.1 343.7l7.6 7.6m0 -7.6l-7.6 7.6" stroke="#5030a8" stroke-width="1.30" fill="none"/>
<path d="M1532.63 369.94L1564.64 367.72L1596.66 368.21L1628.68 363.77L1660.70 360.32L1692.71 354.89L1724.73 347.48L1756.75 340.08L1788.77 375.12L1820.79 391.41L1852.80 387.96L1884.82 383.02L1916.84 379.57L1948.86 378.08L1980.87 375.12" stroke="#2010ff" stroke-width="2.2" fill="none" stroke-linejoin="round"/>
<path d="M1560.8 363.9l7.6 7.6m0 -7.6l-7.6 7.6M1592.9 364.4l7.6 7.6m0 -7.6l-7.6 7.6M1624.9 360.0l7.6 7.6m0 -7.6l-7.6 7.6M1656.9 356.5l7.6 7.6m0 -7.6l-7.6 7.6M1688.9 351.1l7.6 7.6m0 -7.6l-7.6 7.6M1720.9 343.7l7.6 7.6m0 -7.6l-7.6 7.6M1753.0 336.3l7.6 7.6m0 -7.6l-7.6 7.6M1785.0 371.3l7.6 7.6m0 -7.6l-7.6 7.6M1817.0 387.6l7.6 7.6m0 -7.6l-7.6 7.6M1849.0 384.2l7.6 7.6m0 -7.6l-7.6 7.6M1881.0 379.2l7.6 7.6m0 -7.6l-7.6 7.6M1913.0 375.8l7.6 7.6m0 -7.6l-7.6 7.6M1945.1 374.3l7.6 7.6m0 -7.6l-7.6 7.6" stroke="#2010ff" stroke-width="1.30" fill="none"/>
</g>
<path d="M1543.30 411.50v-13.40M1650.03 411.50v-13.40M1756.75 411.50v-13.40M1863.47 411.50v-13.40M1970.20 411.50v-13.40M1543.30 291.87h13.40" stroke="#000" stroke-width="2.4" fill="none"/>
<path d="M1543.30 411.50h7.20M1543.30 380.03h7.20M1543.30 353.43h7.20M1543.30 330.38h7.20M1543.30 310.05h7.20M1543.30 172.24h7.20M1543.30 102.26h7.20M1543.30 52.61h7.20M1543.30 14.10h7.20" stroke="#000" stroke-width="1.2" fill="none"/>
<rect x="1543.30" y="14.10" width="426.90" height="397.40" fill="none" stroke="#000" stroke-width="1.25"/>
<path d="M268.45 534.90V892.40M382.60 534.90V892.40M496.75 534.90V892.40M154.30 803.02H610.90M154.30 713.65H610.90M154.30 624.27H610.90" stroke="#b6b6b6" stroke-width="1.2" fill="none"/>
<g clip-path="url(#cD)">
<path d="M155.1 721.6h0M156.2 737.1h0M157.3 714.7h0M158.4 689.8h0M159.5 777.8h0M160.7 760.8h0M161.8 741.5h0M162.9 743.4h0M164.0 688.2h0M165.1 805.8h0M166.2 726.9h0M167.3 734.8h0M168.4 789.2h0M169.5 721.5h0M170.6 732.3h0M171.7 734.7h0M172.8 710.7h0M173.9 698.7h0M175.0 718.3h0M176.1 759.3h0M177.2 745.7h0M178.3 749.8h0M179.4 800.0h0M180.6 750.4h0M181.7 738.9h0M182.8 722.7h0M183.9 734.8h0M185.0 710.4h0M186.1 780.5h0M187.2 739.8h0M188.3 754.0h0M189.4 723.9h0M190.5 718.5h0M191.6 720.9h0M192.7 774.7h0M193.8 718.0h0M194.9 731.8h0M196.0 757.6h0M197.1 780.1h0M198.2 791.5h0M199.3 729.6h0M200.5 726.8h0M201.6 711.9h0M202.7 754.2h0M203.8 764.0h0M204.9 700.3h0M206.0 761.8h0M207.1 721.0h0M208.2 742.1h0M209.3 742.3h0M210.4 746.7h0M211.5 726.4h0M212.6 733.6h0M213.7 699.7h0M214.8 725.9h0M215.9 732.4h0M217.0 781.0h0M218.1 716.2h0M219.2 710.3h0M220.4 741.9h0M221.5 717.8h0M222.6 725.5h0M223.7 734.7h0M224.8 760.9h0M225.9 727.8h0M227.0 709.0h0M228.1 717.4h0M229.2 734.6h0M230.3 703.9h0M231.4 692.0h0M232.5 733.9h0M233.6 708.6h0M234.7 762.4h0M235.8 731.8h0M236.9 730.0h0M238.0 736.5h0M239.2 704.5h0M240.3 752.9h0M241.4 734.0h0M242.5 696.3h0M243.6 708.2h0M244.7 695.8h0M245.8 700.6h0M246.9 736.6h0M248.0 737.0h0M249.1 735.7h0M250.2 734.6h0M251.3 727.8h0M252.4 720.0h0M253.5 711.8h0M254.6 723.7h0M255.7 695.3h0M256.8 721.2h0M257.9 716.0h0M259.1 728.2h0M260.2 719.6h0M261.3 731.8h0M262.4 693.9h0M263.5 747.7h0M264.6 703.9h0M265.7 690.2h0M266.8 720.4h0M267.9 727.3h0M269.0 699.7h0M270.1 728.3h0M271.2 720.8h0M272.3 740.4h0M273.4 742.0h0M274.5 703.4h0M275.6 719.2h0M276.7 734.2h0M277.8 714.9h0M279.0 720.9h0M280.1 724.6h0M281.2 740.1h0M282.3 720.3h0M283.4 722.3h0M284.5 716.5h0M285.6 712.7h0M286.7 731.9h0M287.8 708.1h0M288.9 714.4h0M290.0 714.0h0M291.1 708.8h0M292.2 708.9h0M293.3 710.6h0M294.4 693.9h0M295.5 709.8h0M296.6 691.6h0M297.7 736.2h0M298.9 748.6h0M300.0 702.3h0M301.1 726.5h0M302.2 673.5h0M303.3 729.6h0M304.4 730.9h0M305.5 715.8h0M306.6 720.6h0M307.7 731.2h0M308.8 712.6h0M309.9 708.7h0M311.0 716.8h0M312.1 716.1h0M313.2 706.1h0M314.3 759.6h0M315.4 731.1h0M316.5 715.8h0M317.6 712.1h0M318.8 708.5h0M319.9 721.6h0M321.0 720.2h0M322.1 724.3h0M323.2 704.6h0M324.3 724.5h0M325.4 718.0h0M326.5 706.0h0M327.6 709.3h0M328.7 708.9h0M329.8 694.6h0M330.9 687.6h0M332.0 709.3h0M333.1 678.2h0M334.2 672.0h0M335.3 697.8h0M336.4 702.5h0M337.6 698.8h0M338.7 675.8h0M339.8 671.3h0M340.9 677.8h0M342.0 691.2h0M343.1 698.2h0M344.2 668.3h0M345.3 679.8h0M346.4 699.3h0M347.5 681.4h0M348.6 692.5h0M349.7 677.1h0M350.8 679.3h0M351.9 655.8h0M353.0 667.8h0M354.1 647.8h0M355.2 672.7h0M356.3 668.4h0M357.5 712.9h0M358.6 671.8h0M359.7 663.0h0M360.8 627.5h0M361.9 653.6h0M363.0 646.6h0M364.1 662.2h0M365.2 656.9h0M366.3 663.0h0M367.4 655.5h0M368.5 661.2h0M369.6 644.6h0M370.7 636.3h0M371.8 653.7h0M372.9 635.7h0M374.0 636.8h0M375.1 651.1h0M376.2 659.8h0M377.4 634.5h0M378.5 648.3h0M379.6 641.3h0M380.7 651.3h0M381.8 644.0h0M382.9 783.8h0M384.0 775.7h0M385.1 819.0h0M386.2 793.1h0M387.3 764.1h0M388.4 801.1h0M389.5 775.0h0M390.6 803.3h0M391.7 783.2h0M392.8 779.0h0M393.9 806.4h0M395.0 830.3h0M396.1 810.4h0M397.3 821.1h0M398.4 827.0h0M399.5 773.3h0M400.6 814.8h0M401.7 802.8h0M402.8 801.6h0M403.9 814.8h0M405.0 786.3h0M406.1 797.7h0M407.2 796.2h0M408.3 809.4h0M409.4 802.8h0M410.5 779.8h0M411.6 809.3h0M412.7 798.1h0M413.8 813.4h0M414.9 800.3h0M416.0 786.4h0M417.2 824.0h0M418.3 798.5h0M419.4 796.0h0M420.5 753.6h0M421.6 797.1h0M422.7 808.1h0M423.8 747.7h0M424.9 783.4h0M426.0 770.9h0M427.1 796.2h0M428.2 805.0h0M429.3 755.9h0M430.4 777.8h0M431.5 805.8h0M432.6 783.8h0M433.7 829.3h0M434.8 777.9h0M436.0 803.7h0M437.1 769.5h0M438.2 788.1h0M439.3 799.8h0M440.4 766.6h0M441.5 761.5h0M442.6 799.4h0M443.7 768.8h0M444.8 767.0h0M445.9 778.7h0M447.0 728.3h0M448.1 764.4h0M449.2 760.4h0M450.3 758.3h0M451.4 733.9h0M452.5 731.6h0M453.6 761.3h0M454.7 731.2h0M455.9 738.8h0M457.0 753.7h0M458.1 795.6h0M459.2 759.5h0M460.3 737.3h0M461.4 760.0h0M462.5 727.0h0M463.6 747.1h0M464.7 734.5h0M465.8 732.4h0M466.9 720.3h0M468.0 700.8h0M469.1 747.0h0M470.2 757.5h0M471.3 739.2h0M472.4 729.9h0M473.5 735.7h0M474.6 761.0h0M475.8 733.7h0M476.9 745.2h0M478.0 722.6h0M479.1 686.7h0M480.2 747.6h0M481.3 747.8h0M482.4 733.2h0M483.5 715.5h0M484.6 740.5h0M485.7 723.8h0M486.8 710.5h0M487.9 708.0h0M489.0 732.5h0M490.1 700.9h0M491.2 707.2h0M492.3 677.3h0M493.4 731.1h0M494.5 721.8h0M495.7 679.1h0M496.8 709.6h0M497.9 789.5h0M499.0 711.1h0M500.1 701.1h0M501.2 745.3h0M502.3 713.6h0M503.4 697.9h0M504.5 737.9h0M505.6 679.3h0M506.7 728.9h0M507.8 703.5h0M508.9 717.2h0M510.0 720.9h0M511.1 727.0h0M512.2 709.1h0M513.3 712.0h0M514.5 739.2h0M515.6 723.4h0M516.7 680.3h0M517.8 701.2h0M518.9 712.3h0M520.0 711.9h0M521.1 710.5h0M522.2 684.7h0M523.3 729.5h0M524.4 694.2h0M525.5 723.5h0M526.6 659.9h0M527.7 705.5h0M528.8 689.7h0M529.9 722.3h0M531.0 695.5h0M532.1 696.4h0M533.2 646.1h0M534.4 728.1h0M535.5 703.1h0M536.6 659.7h0M537.7 706.0h0M538.8 722.6h0M539.9 718.1h0M541.0 721.8h0M542.1 713.7h0M543.2 734.4h0M544.3 713.9h0M545.4 705.8h0M546.5 694.9h0M547.6 738.9h0M548.7 705.5h0M549.8 693.8h0M550.9 696.3h0M552.0 684.4h0M553.1 724.2h0M554.3 679.0h0M555.4 685.2h0M556.5 762.8h0M557.6 719.0h0M558.7 700.3h0M559.8 736.4h0M560.9 699.2h0M562.0 710.9h0M563.1 715.6h0M564.2 691.4h0M565.3 670.4h0M566.4 691.1h0M567.5 688.7h0M568.6 702.6h0M569.7 679.4h0M570.8 680.2h0M571.9 755.3h0M573.0 715.5h0M574.2 710.6h0M575.3 711.5h0M576.4 687.6h0M577.5 730.5h0M578.6 696.5h0M579.7 727.9h0M580.8 767.5h0M581.9 714.5h0M583.0 743.2h0M584.1 724.7h0M585.2 682.3h0M586.3 783.7h0M587.4 719.6h0M588.5 695.3h0M589.6 707.6h0M590.7 653.8h0M591.8 684.6h0M592.9 725.4h0M594.1 660.5h0M595.2 722.2h0M596.3 697.0h0M597.4 696.0h0M598.5 624.4h0M599.6 709.9h0M600.7 724.9h0M601.8 702.3h0M602.9 681.2h0M604.0 694.3h0M605.1 726.0h0M606.2 698.8h0M607.3 686.2h0M608.4 682.9h0M609.5 695.3h0M610.6 681.4h0M382.9 641.2h0M382.9 703.7h0M382.7 640.8h0M382.4 676.7h0M382.4 675.7h0" stroke="#6a2a5c" stroke-width="2.60" stroke-linecap="round" fill="none"/>
<path d="M154.4 767.8h0M155.7 739.4h0M157.1 713.9h0M158.4 752.2h0M159.7 749.2h0M161.1 751.2h0M162.4 718.4h0M163.7 772.1h0M165.0 721.1h0M166.4 755.9h0M167.7 755.2h0M169.0 728.0h0M170.4 722.2h0M171.7 749.9h0M173.0 715.2h0M174.4 736.4h0M175.7 732.2h0M177.0 774.9h0M178.4 746.5h0M179.7 736.9h0M181.0 755.7h0M182.4 752.1h0M183.7 740.4h0M185.0 770.1h0M186.4 743.0h0M187.7 740.4h0M189.0 743.8h0M190.3 767.4h0M191.7 739.3h0M193.0 778.3h0M194.3 734.3h0M195.7 768.1h0M197.0 748.9h0M198.3 733.9h0M199.7 740.8h0M201.0 761.6h0M202.3 726.4h0M203.7 743.8h0M205.0 759.6h0M206.3 738.3h0M207.7 752.8h0M209.0 760.3h0M210.3 733.3h0M211.6 716.1h0M213.0 748.1h0M214.3 712.7h0M215.6 758.0h0M217.0 748.7h0M218.3 752.3h0M219.6 731.4h0M221.0 760.5h0M222.3 745.0h0M223.6 742.2h0M225.0 742.4h0M226.3 726.2h0M227.6 741.1h0M229.0 726.0h0M230.3 744.9h0M231.6 739.4h0M233.0 751.4h0M234.3 739.0h0M235.6 732.4h0M236.9 705.6h0M238.3 772.8h0M239.6 732.6h0M240.9 718.1h0M242.3 762.2h0M243.6 716.1h0M244.9 746.5h0M246.3 749.1h0M247.6 737.3h0M248.9 717.7h0M250.3 738.4h0M251.6 764.0h0M252.9 733.7h0M254.3 737.0h0M255.6 726.7h0M256.9 760.3h0M258.3 739.8h0M259.6 729.7h0M260.9 719.7h0M262.2 737.6h0M263.6 712.4h0M264.9 730.3h0M266.2 725.5h0M267.6 733.0h0M268.9 743.2h0M270.2 733.1h0M271.6 719.0h0M272.9 754.4h0M274.2 743.3h0M275.6 734.2h0M276.9 725.7h0M278.2 740.4h0M279.6 723.7h0M280.9 708.0h0M282.2 744.5h0M283.5 723.8h0M284.9 716.2h0M286.2 717.7h0M287.5 736.1h0M288.9 722.3h0M290.2 730.1h0M291.5 720.8h0M292.9 724.8h0M294.2 725.7h0M295.5 722.1h0M296.9 706.5h0M298.2 712.6h0M299.5 706.4h0M300.9 709.9h0M302.2 710.0h0M303.5 731.6h0M304.9 705.4h0M306.2 697.5h0M307.5 711.0h0M308.8 733.4h0M310.2 708.3h0M311.5 705.3h0M312.8 716.6h0M314.2 713.9h0M315.5 716.8h0M316.8 720.2h0M318.2 733.6h0M319.5 716.4h0M320.8 701.4h0M322.2 709.7h0M323.5 701.7h0M324.8 718.8h0M326.2 738.4h0M327.5 730.7h0M328.8 702.5h0M330.2 707.8h0M331.5 697.8h0M332.8 706.2h0M334.1 690.4h0M335.5 697.5h0M336.8 709.1h0M338.1 706.5h0M339.5 708.5h0M340.8 699.4h0M342.1 727.3h0M343.5 708.4h0M344.8 716.7h0M346.1 726.8h0M347.5 688.3h0M348.8 701.9h0M350.1 694.0h0M351.5 693.7h0M352.8 698.1h0M354.1 691.8h0M355.5 703.8h0M356.8 682.4h0M358.1 689.7h0M359.4 679.2h0M360.8 688.3h0M362.1 694.8h0M363.4 685.4h0M364.8 680.5h0M366.1 660.2h0M367.4 674.9h0M368.8 672.9h0M370.1 666.1h0M371.4 659.2h0M372.8 640.8h0M374.1 660.6h0M375.4 648.1h0M376.8 646.6h0M378.1 657.6h0M379.4 647.5h0M380.7 634.4h0M382.1 651.8h0M383.4 785.2h0M384.7 765.8h0M386.1 776.5h0M387.4 774.7h0M388.7 794.5h0M390.1 787.3h0M391.4 786.4h0M392.7 809.3h0M394.1 800.6h0M395.4 778.5h0M396.7 791.7h0M398.1 794.4h0M399.4 789.1h0M400.7 782.7h0M402.1 806.6h0M403.4 793.6h0M404.7 785.6h0M406.0 802.0h0M407.4 788.0h0M408.7 810.6h0M410.0 797.7h0M411.4 778.7h0M412.7 785.7h0M414.0 810.5h0M415.4 801.8h0M416.7 783.4h0M418.0 775.8h0M419.4 780.2h0M420.7 780.2h0M422.0 802.9h0M423.4 802.5h0M424.7 802.4h0M426.0 776.9h0M427.4 778.3h0M428.7 779.6h0M430.0 760.0h0M431.3 773.7h0M432.7 793.0h0M434.0 762.2h0M435.3 778.0h0M436.7 761.2h0M438.0 742.3h0M439.3 777.8h0M440.7 781.3h0M442.0 752.6h0M443.3 771.4h0M444.7 770.3h0M446.0 780.7h0M447.3 768.6h0M448.7 779.8h0M450.0 758.1h0M451.3 772.3h0M452.7 753.1h0M454.0 745.7h0M455.3 754.8h0M456.6 721.7h0M458.0 770.7h0M459.3 719.2h0M460.6 761.6h0M462.0 770.4h0M463.3 750.3h0M464.6 743.9h0M466.0 758.4h0M467.3 749.6h0M468.6 748.8h0M470.0 760.8h0M471.3 742.2h0M472.6 756.7h0M474.0 755.3h0M475.3 716.5h0M476.6 715.8h0M477.9 720.8h0M479.3 720.5h0M480.6 721.3h0M481.9 702.4h0M483.3 711.4h0M484.6 729.6h0M485.9 731.2h0M487.3 723.6h0M488.6 709.4h0M489.9 714.3h0M491.3 695.1h0M492.6 686.5h0M493.9 677.9h0M495.3 726.3h0M496.6 709.0h0M497.9 697.7h0M499.3 728.3h0M500.6 725.1h0M501.9 706.6h0M503.2 710.6h0M504.6 696.4h0M505.9 705.8h0M507.2 710.3h0M508.6 725.0h0M509.9 709.9h0M511.2 731.7h0M512.6 736.6h0M513.9 706.3h0M515.2 719.3h0M516.6 703.9h0M517.9 695.8h0M519.2 697.1h0M520.6 706.4h0M521.9 707.4h0M523.2 691.9h0M524.6 726.2h0M525.9 705.2h0M527.2 738.7h0M528.5 719.8h0M529.9 715.6h0M531.2 724.5h0M532.5 735.6h0M533.9 743.0h0M535.2 750.7h0M536.5 715.4h0M537.9 733.6h0M539.2 712.6h0M540.5 717.6h0M541.9 707.4h0M543.2 722.8h0M544.5 715.6h0M545.9 724.7h0M547.2 729.3h0M548.5 691.8h0M549.9 731.5h0M551.2 696.3h0M552.5 726.5h0M553.8 746.7h0M555.2 699.3h0M556.5 694.0h0M557.8 741.3h0M559.2 688.9h0M560.5 748.0h0M561.8 720.3h0M563.2 699.9h0M564.5 686.4h0M565.8 708.7h0M567.2 729.1h0M568.5 702.9h0M569.8 713.2h0M571.2 725.7h0M572.5 708.9h0M573.8 672.3h0M575.1 743.4h0M576.5 655.2h0M577.8 697.4h0M579.1 717.6h0M580.5 700.9h0M581.8 668.5h0M583.1 685.3h0M584.5 679.4h0M585.8 681.2h0M587.1 712.9h0M588.5 698.8h0M589.8 709.4h0M591.1 675.9h0M592.5 674.6h0M593.8 690.3h0M595.1 697.0h0M596.5 703.6h0M597.8 705.0h0M599.1 666.7h0M600.4 718.1h0M601.8 660.3h0M603.1 674.8h0M604.4 704.2h0M605.8 675.6h0M607.1 679.5h0M608.4 658.2h0M609.8 652.0h0M382.2 686.8h0M382.8 644.1h0M382.8 669.3h0M382.3 667.3h0M382.7 634.8h0" stroke="#e08a1c" stroke-width="2.60" stroke-linecap="round" fill="none"/>
<path d="M154.9 741.7h0M156.2 748.2h0M157.5 747.5h0M158.8 718.2h0M160.1 779.1h0M161.3 729.1h0M162.6 707.4h0M163.9 726.8h0M165.2 741.0h0M166.5 739.7h0M167.7 727.7h0M169.0 709.7h0M170.3 724.8h0M171.6 742.7h0M172.8 758.2h0M174.1 748.6h0M175.4 702.3h0M176.7 745.4h0M178.0 764.1h0M179.2 726.8h0M180.5 720.3h0M181.8 752.9h0M183.1 727.1h0M184.4 739.2h0M185.6 738.6h0M186.9 727.7h0M188.2 753.4h0M189.5 695.1h0M190.7 726.4h0M192.0 735.5h0M193.3 753.3h0M194.6 723.9h0M195.9 738.8h0M197.1 746.3h0M198.4 726.8h0M199.7 763.3h0M201.0 738.6h0M202.2 748.2h0M203.5 729.0h0M204.8 741.7h0M206.1 739.2h0M207.4 733.9h0M208.6 768.6h0M209.9 741.6h0M211.2 731.5h0M212.5 740.6h0M213.8 757.3h0M215.0 729.5h0M216.3 738.4h0M217.6 751.1h0M218.9 754.3h0M220.1 743.0h0M221.4 707.7h0M222.7 742.6h0M224.0 741.3h0M225.3 733.6h0M226.5 729.3h0M227.8 735.6h0M229.1 751.9h0M230.4 745.5h0M231.7 735.0h0M232.9 748.9h0M234.2 727.6h0M235.5 747.6h0M236.8 720.7h0M238.0 730.3h0M239.3 760.0h0M240.6 760.6h0M241.9 744.0h0M243.2 734.3h0M244.4 737.2h0M245.7 745.7h0M247.0 743.2h0M248.3 710.3h0M249.5 727.8h0M250.8 733.0h0M252.1 727.1h0M253.4 755.9h0M254.7 750.6h0M255.9 702.5h0M257.2 732.7h0M258.5 737.1h0M259.8 745.8h0M261.1 779.8h0M262.3 731.5h0M263.6 744.6h0M264.9 752.3h0M266.2 724.5h0M267.4 725.3h0M268.7 703.5h0M270.0 776.4h0M271.3 730.4h0M272.6 707.8h0M273.8 734.6h0M275.1 728.3h0M276.4 719.5h0M277.7 723.1h0M279.0 730.2h0M280.2 722.3h0M281.5 744.7h0M282.8 745.2h0M284.1 730.9h0M285.3 713.1h0M286.6 722.2h0M287.9 702.2h0M289.2 744.9h0M290.5 741.2h0M291.7 738.1h0M293.0 729.0h0M294.3 731.5h0M295.6 716.2h0M296.8 724.2h0M298.1 699.9h0M299.4 715.2h0M300.7 709.6h0M302.0 752.1h0M303.2 726.0h0M304.5 738.2h0M305.8 730.0h0M307.1 717.3h0M308.4 715.7h0M309.6 703.4h0M310.9 719.7h0M312.2 702.3h0M313.5 715.8h0M314.7 713.0h0M316.0 725.3h0M317.3 728.2h0M318.6 718.4h0M319.9 724.7h0M321.1 729.2h0M322.4 722.7h0M323.7 700.0h0M325.0 733.2h0M326.2 721.7h0M327.5 707.2h0M328.8 704.8h0M330.1 713.5h0M331.4 704.9h0M332.6 717.7h0M333.9 682.9h0M335.2 716.0h0M336.5 697.9h0M337.8 705.2h0M339.0 680.8h0M340.3 696.1h0M341.6 692.9h0M342.9 720.6h0M344.1 684.5h0M345.4 701.1h0M346.7 697.4h0M348.0 690.1h0M349.3 710.5h0M350.5 695.2h0M351.8 674.9h0M353.1 695.2h0M354.4 694.2h0M355.7 711.1h0M356.9 691.7h0M358.2 689.3h0M359.5 676.1h0M360.8 678.7h0M362.0 671.7h0M363.3 685.7h0M364.6 677.1h0M365.9 675.4h0M367.2 686.3h0M368.4 662.7h0M369.7 671.3h0M371.0 668.9h0M372.3 674.0h0M373.5 665.4h0M374.8 678.4h0M376.1 673.6h0M377.4 655.2h0M378.7 666.5h0M379.9 643.4h0M381.2 657.2h0M382.5 651.0h0M383.8 718.5h0M385.1 733.7h0M386.3 719.9h0M387.6 721.0h0M388.9 717.2h0M390.2 731.1h0M391.4 741.8h0M392.7 724.0h0M394.0 747.9h0M395.3 738.0h0M396.6 737.9h0M397.8 730.7h0M399.1 746.3h0M400.4 755.6h0M401.7 757.6h0M403.0 756.9h0M404.2 741.1h0M405.5 753.1h0M406.8 746.9h0M408.1 744.0h0M409.3 755.6h0M410.6 740.9h0M411.9 734.5h0M413.2 761.5h0M414.5 746.8h0M415.7 737.2h0M417.0 740.4h0M418.3 732.5h0M419.6 743.8h0M420.8 717.2h0M422.1 741.2h0M423.4 737.4h0M424.7 757.8h0M426.0 739.6h0M427.2 733.4h0M428.5 773.6h0M429.8 740.6h0M431.1 738.6h0M432.4 745.6h0M433.6 740.1h0M434.9 739.4h0M436.2 736.9h0M437.5 732.2h0M438.7 749.5h0M440.0 731.1h0M441.3 721.2h0M442.6 752.0h0M443.9 733.4h0M445.1 732.2h0M446.4 733.9h0M447.7 733.4h0M449.0 741.0h0M450.3 737.3h0M451.5 733.7h0M452.8 740.4h0M454.1 721.5h0M455.4 738.3h0M456.6 714.6h0M457.9 735.7h0M459.2 751.8h0M460.5 743.0h0M461.8 734.5h0M463.0 727.9h0M464.3 741.6h0M465.6 734.6h0M466.9 716.5h0M468.1 733.1h0M469.4 737.0h0M470.7 732.4h0M472.0 727.4h0M473.3 733.7h0M474.5 732.5h0M475.8 752.0h0M477.1 743.0h0M478.4 734.4h0M479.7 730.8h0M480.9 727.6h0M482.2 724.1h0M483.5 727.2h0M484.8 730.3h0M486.0 725.4h0M487.3 716.4h0M488.6 709.2h0M489.9 716.4h0M491.2 724.2h0M492.4 706.8h0M493.7 756.4h0M495.0 703.4h0M496.3 714.6h0M497.6 719.9h0M498.8 728.7h0M500.1 726.7h0M501.4 703.1h0M502.7 726.6h0M503.9 714.2h0M505.2 684.4h0M506.5 666.3h0M507.8 696.7h0M509.1 695.9h0M510.3 706.4h0M511.6 744.8h0M512.9 713.2h0M514.2 701.9h0M515.4 681.7h0M516.7 693.2h0M518.0 696.0h0M519.3 725.7h0M520.6 701.3h0M521.8 691.0h0M523.1 701.8h0M524.4 703.2h0M525.7 673.4h0M527.0 701.2h0M528.2 708.6h0M529.5 737.8h0M530.8 694.0h0M532.1 689.7h0M533.3 720.6h0M534.6 692.2h0M535.9 731.8h0M537.2 689.5h0M538.5 677.1h0M539.7 706.5h0M541.0 701.2h0M542.3 697.4h0M543.6 695.5h0M544.8 724.9h0M546.1 698.1h0M547.4 692.6h0M548.7 674.5h0M550.0 701.2h0M551.2 700.2h0M552.5 712.4h0M553.8 706.5h0M555.1 667.9h0M556.4 692.6h0M557.6 694.9h0M558.9 705.8h0M560.2 718.5h0M561.5 700.1h0M562.7 681.9h0M564.0 696.0h0M565.3 707.5h0M566.6 726.7h0M567.9 702.8h0M569.1 699.2h0M570.4 693.7h0M571.7 702.7h0M573.0 709.3h0M574.3 697.9h0M575.5 692.1h0M576.8 751.5h0M578.1 714.1h0M579.4 710.9h0M580.6 699.1h0M581.9 712.0h0M583.2 763.7h0M584.5 742.6h0M585.8 712.1h0M587.0 728.8h0M588.3 723.6h0M589.6 701.7h0M590.9 706.3h0M592.1 729.3h0M593.4 701.7h0M594.7 714.0h0M596.0 718.1h0M597.3 716.8h0M598.5 725.5h0M599.8 710.3h0M601.1 711.7h0M602.4 710.3h0M603.7 732.4h0M604.9 782.4h0M606.2 714.9h0M607.5 721.5h0M608.8 749.2h0M610.0 687.3h0M382.9 679.7h0M382.8 696.3h0M382.0 628.0h0M382.9 681.1h0M382.7 683.9h0" stroke="#1a14ff" stroke-width="2.60" stroke-linecap="round" fill="none"/>
<path d="M155.0 760.4h0M156.2 691.7h0M157.5 738.8h0M158.7 741.2h0M160.0 757.6h0M161.2 727.3h0M162.5 722.2h0M163.7 743.2h0M165.0 727.6h0M166.2 743.8h0M167.5 737.6h0M168.7 752.9h0M170.0 746.4h0M171.2 757.6h0M172.5 762.1h0M173.7 746.1h0M175.0 757.5h0M176.2 754.0h0M177.5 725.9h0M178.7 783.5h0M180.0 751.2h0M181.2 799.3h0M182.5 726.0h0M183.7 736.5h0M185.0 751.4h0M186.2 753.8h0M187.5 691.9h0M188.7 766.2h0M190.0 754.7h0M191.2 742.0h0M192.5 791.6h0M193.7 778.1h0M195.0 743.1h0M196.2 746.4h0M197.5 729.4h0M198.7 781.7h0M200.0 748.3h0M201.2 738.2h0M202.5 750.3h0M203.7 736.2h0M205.0 747.5h0M206.2 745.1h0M207.5 705.9h0M208.7 758.6h0M210.0 732.8h0M211.3 722.2h0M212.5 727.0h0M213.8 742.6h0M215.0 757.0h0M216.3 739.0h0M217.5 735.1h0M218.8 745.6h0M220.0 747.4h0M221.3 719.4h0M222.5 733.8h0M223.8 722.6h0M225.0 736.3h0M226.3 752.4h0M227.5 743.3h0M228.8 711.8h0M230.0 749.1h0M231.3 737.1h0M232.5 741.5h0M233.8 709.0h0M235.0 730.8h0M236.3 749.4h0M237.5 717.9h0M238.8 719.8h0M240.0 725.2h0M241.3 726.9h0M242.5 736.8h0M243.8 716.8h0M245.0 725.6h0M246.3 719.8h0M247.5 699.9h0M248.8 716.5h0M250.0 711.8h0M251.3 729.6h0M252.5 721.8h0M253.8 727.2h0M255.0 766.7h0M256.3 737.1h0M257.5 731.6h0M258.8 728.3h0M260.0 750.9h0M261.3 734.9h0M262.5 710.9h0M263.8 730.3h0M265.0 733.3h0M266.3 715.4h0M267.5 732.3h0M268.8 711.4h0M270.0 679.9h0M271.3 721.0h0M272.5 706.0h0M273.8 712.4h0M275.0 714.2h0M276.3 731.1h0M277.5 719.0h0M278.8 716.9h0M280.0 723.2h0M281.3 724.3h0M282.6 726.5h0M283.8 708.4h0M285.1 680.1h0M286.3 711.0h0M287.6 721.5h0M288.8 714.9h0M290.1 734.9h0M291.3 725.0h0M292.6 716.0h0M293.8 705.1h0M295.1 705.8h0M296.3 706.4h0M297.6 689.0h0M298.8 703.3h0M300.1 703.4h0M301.3 708.5h0M302.6 708.5h0M303.8 705.4h0M305.1 696.3h0M306.3 700.5h0M307.6 721.2h0M308.8 715.9h0M310.1 696.1h0M311.3 716.3h0M312.6 697.7h0M313.8 716.7h0M315.1 698.8h0M316.3 731.1h0M317.6 694.7h0M318.8 709.2h0M320.1 705.3h0M321.3 703.5h0M322.6 711.5h0M323.8 690.3h0M325.1 704.6h0M326.3 717.5h0M327.6 690.6h0M328.8 708.2h0M330.1 742.1h0M331.3 692.2h0M332.6 708.5h0M333.8 711.1h0M335.1 700.5h0M336.3 688.2h0M337.6 690.7h0M338.8 688.9h0M340.1 699.3h0M341.3 688.0h0M342.6 694.8h0M343.8 695.7h0M345.1 676.7h0M346.3 678.2h0M347.6 694.5h0M348.8 672.8h0M350.1 684.5h0M351.3 668.1h0M352.6 687.0h0M353.9 683.1h0M355.1 662.8h0M356.4 696.6h0M357.6 657.6h0M358.9 677.9h0M360.1 648.2h0M361.4 687.1h0M362.6 685.3h0M363.9 685.4h0M365.1 652.8h0M366.4 668.7h0M367.6 674.6h0M368.9 662.4h0M370.1 650.8h0M371.4 671.8h0M372.6 662.6h0M373.9 650.2h0M375.1 660.0h0M376.4 653.5h0M377.6 660.8h0M378.9 654.4h0M380.1 663.6h0M381.4 639.0h0M382.6 759.0h0M383.9 768.0h0M385.1 797.7h0M386.4 768.2h0M387.6 780.2h0M388.9 789.1h0M390.1 776.5h0M391.4 784.3h0M392.6 777.5h0M393.9 804.5h0M395.1 787.5h0M396.4 787.3h0M397.6 797.4h0M398.9 799.2h0M400.1 784.7h0M401.4 794.6h0M402.6 790.2h0M403.9 775.4h0M405.1 786.0h0M406.4 781.3h0M407.6 795.5h0M408.9 780.2h0M410.1 782.6h0M411.4 788.2h0M412.6 795.8h0M413.9 774.1h0M415.1 764.8h0M416.4 777.9h0M417.6 767.7h0M418.9 773.4h0M420.1 772.6h0M421.4 766.0h0M422.6 777.6h0M423.9 770.0h0M425.1 766.3h0M426.4 750.5h0M427.7 771.8h0M428.9 760.9h0M430.2 783.3h0M431.4 777.2h0M432.7 760.5h0M433.9 779.3h0M435.2 765.1h0M436.4 750.9h0M437.7 764.7h0M438.9 734.7h0M440.2 745.0h0M441.4 746.4h0M442.7 730.4h0M443.9 755.1h0M445.2 721.9h0M446.4 751.4h0M447.7 722.8h0M448.9 720.1h0M450.2 736.9h0M451.4 744.6h0M452.7 732.2h0M453.9 735.3h0M455.2 746.5h0M456.4 736.9h0M457.7 720.6h0M458.9 752.2h0M460.2 767.5h0M461.4 724.2h0M462.7 738.5h0M463.9 741.1h0M465.2 748.7h0M466.4 739.8h0M467.7 748.9h0M468.9 731.6h0M470.2 737.4h0M471.4 733.1h0M472.7 730.3h0M473.9 707.3h0M475.2 745.5h0M476.4 735.7h0M477.7 778.1h0M478.9 746.7h0M480.2 719.4h0M481.4 735.4h0M482.7 724.7h0M483.9 727.6h0M485.2 733.1h0M486.4 741.9h0M487.7 729.6h0M488.9 738.5h0M490.2 712.0h0M491.4 710.4h0M492.7 746.6h0M493.9 722.0h0M495.2 715.9h0M496.4 714.9h0M497.7 722.1h0M499.0 715.0h0M500.2 735.0h0M501.5 729.3h0M502.7 729.6h0M504.0 752.5h0M505.2 709.1h0M506.5 688.7h0M507.7 692.6h0M509.0 727.0h0M510.2 706.7h0M511.5 724.6h0M512.7 693.4h0M514.0 722.6h0M515.2 739.2h0M516.5 691.9h0M517.7 722.3h0M519.0 712.0h0M520.2 737.7h0M521.5 711.4h0M522.7 755.3h0M524.0 725.6h0M525.2 697.2h0M526.5 703.2h0M527.7 663.5h0M529.0 676.8h0M530.2 692.3h0M531.5 739.2h0M532.7 698.7h0M534.0 662.6h0M535.2 696.5h0M536.5 732.6h0M537.7 702.1h0M539.0 696.3h0M540.2 700.7h0M541.5 705.5h0M542.7 718.8h0M544.0 659.8h0M545.2 692.9h0M546.5 710.2h0M547.7 694.3h0M549.0 685.0h0M550.2 702.2h0M551.5 726.9h0M552.7 707.9h0M554.0 701.7h0M555.2 686.5h0M556.5 730.1h0M557.7 700.9h0M559.0 716.9h0M560.2 719.1h0M561.5 687.3h0M562.7 680.9h0M564.0 692.1h0M565.2 703.1h0M566.5 682.3h0M567.7 686.0h0M569.0 683.3h0M570.3 704.7h0M571.5 654.2h0M572.8 711.0h0M574.0 687.2h0M575.3 681.2h0M576.5 704.2h0M577.8 706.4h0M579.0 691.4h0M580.3 718.5h0M581.5 684.0h0M582.8 699.6h0M584.0 677.4h0M585.3 670.6h0M586.5 698.9h0M587.8 676.3h0M589.0 691.6h0M590.3 707.2h0M591.5 670.4h0M592.8 704.5h0M594.0 685.6h0M595.3 724.2h0M596.5 722.3h0M597.8 705.8h0M599.0 652.0h0M600.3 663.5h0M601.5 682.4h0M602.8 723.4h0M604.0 698.8h0M605.3 675.3h0M606.5 682.2h0M607.8 714.3h0M609.0 716.2h0M610.3 670.2h0M382.3 699.0h0M382.6 628.0h0M382.5 655.7h0M382.1 624.6h0M382.5 658.0h0" stroke="#4a2aa8" stroke-width="2.60" stroke-linecap="round" fill="none"/>
<path d="M154.3 750.3h0M155.4 728.0h0M156.4 718.5h0M157.5 761.6h0M158.5 739.0h0M159.6 706.7h0M160.6 721.2h0M161.7 742.8h0M162.7 725.4h0M163.8 703.3h0M164.8 725.0h0M165.9 734.5h0M166.9 727.8h0M168.0 697.2h0M169.0 698.7h0M170.1 685.0h0M171.1 724.1h0M172.2 735.2h0M173.3 710.7h0M174.3 741.5h0M175.4 710.7h0M176.4 729.0h0M177.5 715.8h0M178.5 709.1h0M179.6 706.2h0M180.6 698.8h0M181.7 716.1h0M182.7 733.4h0M183.8 750.8h0M184.8 722.6h0M185.9 727.8h0M186.9 748.7h0M188.0 687.3h0M189.0 733.4h0M190.1 742.9h0M191.1 755.7h0M192.2 744.9h0M193.2 752.1h0M194.3 749.5h0M195.3 716.8h0M196.4 721.4h0M197.4 712.9h0M198.5 730.2h0M199.6 693.8h0M200.6 734.7h0M201.7 733.2h0M202.7 694.7h0M203.8 763.7h0M204.8 762.0h0M205.9 745.2h0M206.9 738.1h0M208.0 754.3h0M209.0 730.4h0M210.1 723.3h0M211.1 722.5h0M212.2 764.2h0M213.2 737.4h0M214.3 709.0h0M215.3 732.8h0M216.4 732.0h0M217.4 739.5h0M218.5 681.6h0M219.5 774.7h0M220.6 737.6h0M221.6 716.1h0M222.7 758.8h0M223.8 760.2h0M224.8 743.6h0M225.9 737.5h0M226.9 724.6h0M228.0 750.1h0M229.0 745.6h0M230.1 752.5h0M231.1 719.1h0M232.2 710.5h0M233.2 718.4h0M234.3 729.7h0M235.3 739.2h0M236.4 716.2h0M237.4 740.2h0M238.5 715.5h0M239.5 714.3h0M240.6 756.3h0M241.6 727.1h0M242.7 706.8h0M243.7 694.1h0M244.8 726.4h0M245.8 721.7h0M246.9 720.5h0M248.0 712.5h0M249.0 687.9h0M250.1 766.6h0M251.1 719.5h0M252.2 723.2h0M253.2 711.2h0M254.3 711.5h0M255.3 689.2h0M256.4 696.0h0M257.4 748.4h0M258.5 727.1h0M259.5 751.1h0M260.6 709.5h0M261.6 691.3h0M262.7 768.7h0M263.7 717.4h0M264.8 710.1h0M265.8 721.2h0M266.9 709.8h0M267.9 713.4h0M269.0 718.3h0M270.0 736.0h0M271.1 731.0h0M272.1 695.6h0M273.2 700.0h0M274.3 714.8h0M275.3 690.9h0M276.4 748.1h0M277.4 697.0h0M278.5 689.3h0M279.5 698.6h0M280.6 711.2h0M281.6 694.8h0M282.7 704.0h0M283.7 681.0h0M284.8 707.3h0M285.8 712.3h0M286.9 713.6h0M287.9 714.4h0M289.0 729.1h0M290.0 680.6h0M291.1 694.5h0M292.1 716.6h0M293.2 706.3h0M294.2 736.9h0M295.3 701.5h0M296.3 695.3h0M297.4 701.3h0M298.5 706.4h0M299.5 664.4h0M300.6 683.1h0M301.6 708.0h0M302.7 695.9h0M303.7 724.3h0M304.8 701.0h0M305.8 700.6h0M306.9 699.0h0M307.9 712.4h0M309.0 717.8h0M310.0 683.3h0M311.1 702.0h0M312.1 736.6h0M313.2 692.3h0M314.2 718.6h0M315.3 696.4h0M316.3 689.2h0M317.4 706.4h0M318.4 695.4h0M319.5 709.9h0M320.5 699.9h0M321.6 702.7h0M322.7 674.0h0M323.7 689.5h0M324.8 704.3h0M325.8 697.0h0M326.9 697.6h0M327.9 697.8h0M329.0 699.8h0M330.0 700.2h0M331.1 700.0h0M332.1 688.8h0M333.2 681.9h0M334.2 670.9h0M335.3 708.7h0M336.3 681.2h0M337.4 692.1h0M338.4 668.6h0M339.5 674.5h0M340.5 679.5h0M341.6 692.8h0M342.6 694.2h0M343.7 685.6h0M344.7 695.3h0M345.8 676.9h0M346.8 661.8h0M347.9 688.6h0M349.0 675.3h0M350.0 668.1h0M351.1 677.8h0M352.1 673.5h0M353.2 664.5h0M354.2 655.5h0M355.3 658.1h0M356.3 674.4h0M357.4 682.1h0M358.4 664.9h0M359.5 661.6h0M360.5 661.2h0M361.6 657.8h0M362.6 656.6h0M363.7 665.3h0M364.7 642.6h0M365.8 656.3h0M366.8 649.7h0M367.9 643.9h0M368.9 650.6h0M370.0 657.6h0M371.0 633.6h0M372.1 629.1h0M373.2 636.5h0M374.2 643.8h0M375.3 640.0h0M376.3 639.8h0M377.4 628.4h0M378.4 623.8h0M379.5 601.0h0M380.5 646.1h0M381.6 611.5h0M382.6 768.6h0M383.7 772.3h0M384.7 782.4h0M385.8 785.5h0M386.8 800.8h0M387.9 773.2h0M388.9 786.2h0M390.0 785.5h0M391.0 777.7h0M392.1 773.9h0M393.1 782.7h0M394.2 771.7h0M395.2 803.4h0M396.3 782.9h0M397.4 786.9h0M398.4 815.5h0M399.5 787.1h0M400.5 785.6h0M401.6 789.3h0M402.6 806.3h0M403.7 773.2h0M404.7 783.1h0M405.8 797.5h0M406.8 790.1h0M407.9 776.2h0M408.9 788.5h0M410.0 775.0h0M411.0 778.0h0M412.1 776.9h0M413.1 795.1h0M414.2 780.0h0M415.2 781.4h0M416.3 793.8h0M417.3 776.5h0M418.4 775.9h0M419.4 778.2h0M420.5 788.7h0M421.5 769.2h0M422.6 766.0h0M423.7 757.4h0M424.7 756.6h0M425.8 770.0h0M426.8 759.9h0M427.9 747.4h0M428.9 771.0h0M430.0 778.3h0M431.0 777.6h0M432.1 751.0h0M433.1 757.6h0M434.2 767.6h0M435.2 719.7h0M436.3 758.1h0M437.3 752.3h0M438.4 729.1h0M439.4 741.4h0M440.5 765.8h0M441.5 763.5h0M442.6 738.7h0M443.6 717.7h0M444.7 763.0h0M445.7 751.4h0M446.8 753.3h0M447.9 739.3h0M448.9 744.5h0M450.0 748.9h0M451.0 752.3h0M452.1 731.7h0M453.1 757.5h0M454.2 752.9h0M455.2 750.4h0M456.3 744.1h0M457.3 740.6h0M458.4 754.4h0M459.4 773.5h0M460.5 717.8h0M461.5 763.5h0M462.6 783.3h0M463.6 748.6h0M464.7 751.3h0M465.7 766.1h0M466.8 724.4h0M467.8 744.6h0M468.9 725.4h0M469.9 720.6h0M471.0 725.8h0M472.1 729.2h0M473.1 723.9h0M474.2 726.5h0M475.2 720.9h0M476.3 747.4h0M477.3 730.1h0M478.4 758.0h0M479.4 732.2h0M480.5 729.5h0M481.5 725.1h0M482.6 739.1h0M483.6 744.8h0M484.7 711.3h0M485.7 733.0h0M486.8 726.1h0M487.8 713.1h0M488.9 717.3h0M489.9 734.2h0M491.0 739.8h0M492.0 721.9h0M493.1 722.5h0M494.1 714.2h0M495.2 724.8h0M496.2 748.3h0M497.3 737.1h0M498.4 704.5h0M499.4 700.8h0M500.5 739.8h0M501.5 718.6h0M502.6 729.0h0M503.6 718.5h0M504.7 715.5h0M505.7 720.3h0M506.8 721.7h0M507.8 724.9h0M508.9 695.2h0M509.9 671.2h0M511.0 715.3h0M512.0 753.0h0M513.1 724.1h0M514.1 725.9h0M515.2 703.7h0M516.2 732.2h0M517.3 725.1h0M518.3 697.9h0M519.4 714.9h0M520.4 740.1h0M521.5 737.5h0M522.6 735.6h0M523.6 735.8h0M524.7 687.5h0M525.7 722.8h0M526.8 745.0h0M527.8 732.0h0M528.9 719.7h0M529.9 728.0h0M531.0 730.5h0M532.0 734.8h0M533.1 680.4h0M534.1 737.2h0M535.2 718.6h0M536.2 713.9h0M537.3 717.5h0M538.3 726.1h0M539.4 678.6h0M540.4 735.8h0M541.5 692.1h0M542.5 694.0h0M543.6 695.4h0M544.6 709.7h0M545.7 682.5h0M546.8 702.3h0M547.8 725.7h0M548.9 714.7h0M549.9 735.4h0M551.0 718.1h0M552.0 701.9h0M553.1 736.6h0M554.1 689.7h0M555.2 707.6h0M556.2 714.9h0M557.3 697.0h0M558.3 686.8h0M559.4 734.4h0M560.4 753.4h0M561.5 698.3h0M562.5 716.7h0M563.6 726.2h0M564.6 730.1h0M565.7 690.3h0M566.7 706.0h0M567.8 726.4h0M568.8 735.0h0M569.9 706.9h0M570.9 647.9h0M572.0 700.9h0M573.1 664.1h0M574.1 728.2h0M575.2 690.8h0M576.2 692.1h0M577.3 703.7h0M578.3 705.3h0M579.4 713.9h0M580.4 683.4h0M581.5 689.6h0M582.5 718.9h0M583.6 745.8h0M584.6 716.2h0M585.7 701.3h0M586.7 747.0h0M587.8 655.1h0M588.8 749.4h0M589.9 698.0h0M590.9 699.9h0M592.0 689.6h0M593.0 732.7h0M594.1 674.5h0M595.1 719.2h0M596.2 713.3h0M597.3 669.3h0M598.3 723.2h0M599.4 715.2h0M600.4 711.4h0M601.5 743.2h0M602.5 735.0h0M603.6 712.6h0M604.6 702.2h0M605.7 695.0h0M606.7 720.5h0M607.8 714.3h0M608.8 729.7h0M609.9 680.0h0M383.2 628.8h0M382.7 689.5h0M382.9 686.4h0M382.6 630.0h0M382.9 672.6h0" stroke="#5a2a78" stroke-width="2.60" stroke-linecap="round" fill="none"/>
<path d="M154.4 696.3h0M155.6 713.8h0M156.8 715.4h0M158.0 720.0h0M159.2 690.9h0M160.4 730.8h0M161.6 729.1h0M162.9 730.5h0M164.1 680.7h0M165.3 723.8h0M166.5 726.3h0M167.7 722.6h0M168.9 700.9h0M170.1 752.7h0M171.4 724.2h0M172.6 777.4h0M173.8 720.0h0M175.0 740.1h0M176.2 729.9h0M177.4 709.0h0M178.6 722.1h0M179.8 718.9h0M181.1 733.6h0M182.3 749.5h0M183.5 672.9h0M184.7 770.6h0M185.9 718.8h0M187.1 764.4h0M188.3 743.1h0M189.6 727.5h0M190.8 692.7h0M192.0 706.5h0M193.2 698.7h0M194.4 737.3h0M195.6 741.5h0M196.8 695.0h0M198.0 724.1h0M199.3 725.4h0M200.5 735.0h0M201.7 778.4h0M202.9 706.7h0M204.1 752.3h0M205.3 757.8h0M206.5 706.9h0M207.8 766.3h0M209.0 692.0h0M210.2 722.2h0M211.4 719.7h0M212.6 779.7h0M213.8 741.3h0M215.0 718.7h0M216.3 733.4h0M217.5 739.7h0M218.7 736.4h0M219.9 723.2h0M221.1 686.1h0M222.3 775.4h0M223.5 758.2h0M224.7 705.6h0M226.0 694.8h0M227.2 751.2h0M228.4 721.3h0M229.6 727.0h0M230.8 713.3h0M232.0 703.0h0M233.2 729.2h0M234.5 738.4h0M235.7 709.2h0M236.9 723.3h0M238.1 733.8h0M239.3 741.9h0M240.5 710.8h0M241.7 751.6h0M242.9 726.6h0M244.2 740.3h0M245.4 725.4h0M246.6 724.3h0M247.8 772.3h0M249.0 722.5h0M250.2 701.0h0M251.4 703.0h0M252.7 668.6h0M253.9 719.5h0M255.1 719.7h0M256.3 721.4h0M257.5 725.4h0M258.7 722.0h0M259.9 696.9h0M261.1 748.3h0M262.4 711.3h0M263.6 708.3h0M264.8 714.0h0M266.0 713.3h0M267.2 746.8h0M268.4 711.8h0M269.6 705.0h0M270.9 708.1h0M272.1 665.8h0M273.3 696.4h0M274.5 697.0h0M275.7 715.7h0M276.9 711.0h0M278.1 680.7h0M279.4 706.4h0M280.6 742.7h0M281.8 699.9h0M283.0 688.8h0M284.2 656.0h0M285.4 712.4h0M286.6 706.7h0M287.8 681.1h0M289.1 699.7h0M290.3 710.7h0M291.5 697.2h0M292.7 684.2h0M293.9 717.4h0M295.1 687.5h0M296.3 700.5h0M297.6 703.8h0M298.8 659.6h0M300.0 691.9h0M301.2 690.4h0M302.4 694.5h0M303.6 683.0h0M304.8 682.8h0M306.0 692.7h0M307.3 677.2h0M308.5 657.2h0M309.7 708.3h0M310.9 674.5h0M312.1 708.5h0M313.3 689.4h0M314.5 660.4h0M315.8 670.9h0M317.0 669.7h0M318.2 673.7h0M319.4 695.8h0M320.6 667.1h0M321.8 678.5h0M323.0 655.7h0M324.3 686.2h0M325.5 653.0h0M326.7 671.9h0M327.9 653.1h0M329.1 655.6h0M330.3 682.0h0M331.5 664.4h0M332.7 672.7h0M334.0 664.1h0M335.2 675.2h0M336.4 665.5h0M337.6 678.4h0M338.8 656.9h0M340.0 652.6h0M341.2 653.3h0M342.5 633.2h0M343.7 686.0h0M344.9 657.9h0M346.1 637.1h0M347.3 645.9h0M348.5 661.6h0M349.7 663.7h0M350.9 661.7h0M352.2 660.7h0M353.4 637.6h0M354.6 651.8h0M355.8 635.5h0M357.0 661.9h0M358.2 629.8h0M359.4 647.7h0M360.7 642.7h0M361.9 641.7h0M363.1 641.4h0M364.3 635.8h0M365.5 646.6h0M366.7 632.3h0M367.9 633.6h0M369.1 626.3h0M370.4 639.9h0M371.6 631.6h0M372.8 621.3h0M374.0 602.0h0M375.2 616.3h0M376.4 628.7h0M377.6 622.7h0M378.9 640.7h0M380.1 628.2h0M381.3 641.5h0M382.5 620.7h0M383.7 785.0h0M384.9 794.2h0M386.1 768.6h0M387.4 787.2h0M388.6 826.5h0M389.8 836.0h0M391.0 809.8h0M392.2 801.6h0M393.4 816.1h0M394.6 799.6h0M395.8 813.6h0M397.1 806.6h0M398.3 810.6h0M399.5 814.9h0M400.7 818.7h0M401.9 809.8h0M403.1 814.5h0M404.3 811.4h0M405.6 794.6h0M406.8 814.9h0M408.0 826.7h0M409.2 806.1h0M410.4 804.3h0M411.6 797.9h0M412.8 806.1h0M414.0 816.2h0M415.3 780.8h0M416.5 789.9h0M417.7 797.3h0M418.9 788.1h0M420.1 813.6h0M421.3 794.3h0M422.5 778.4h0M423.8 784.7h0M425.0 792.5h0M426.2 759.2h0M427.4 807.3h0M428.6 774.1h0M429.8 775.1h0M431.0 782.6h0M432.2 768.1h0M433.5 772.2h0M434.7 768.2h0M435.9 761.8h0M437.1 780.6h0M438.3 761.1h0M439.5 762.5h0M440.7 755.0h0M442.0 756.1h0M443.2 763.3h0M444.4 781.5h0M445.6 755.5h0M446.8 762.3h0M448.0 758.0h0M449.2 748.2h0M450.5 764.6h0M451.7 776.7h0M452.9 745.6h0M454.1 752.5h0M455.3 756.3h0M456.5 746.4h0M457.7 737.2h0M458.9 733.1h0M460.2 719.6h0M461.4 752.4h0M462.6 770.9h0M463.8 730.8h0M465.0 715.9h0M466.2 737.3h0M467.4 698.0h0M468.7 737.3h0M469.9 736.3h0M471.1 746.0h0M472.3 745.4h0M473.5 734.3h0M474.7 729.3h0M475.9 774.4h0M477.1 745.3h0M478.4 725.7h0M479.6 703.2h0M480.8 736.5h0M482.0 736.0h0M483.2 713.6h0M484.4 726.7h0M485.6 700.8h0M486.9 725.3h0M488.1 716.4h0M489.3 691.9h0M490.5 720.7h0M491.7 735.4h0M492.9 733.7h0M494.1 724.4h0M495.4 735.6h0M496.6 739.4h0M497.8 737.1h0M499.0 788.0h0M500.2 718.6h0M501.4 739.8h0M502.6 750.1h0M503.8 732.3h0M505.1 748.2h0M506.3 729.4h0M507.5 756.5h0M508.7 742.7h0M509.9 742.3h0M511.1 752.5h0M512.3 714.8h0M513.6 746.4h0M514.8 730.1h0M516.0 728.1h0M517.2 723.4h0M518.4 719.8h0M519.6 705.5h0M520.8 707.7h0M522.0 718.4h0M523.3 708.6h0M524.5 762.3h0M525.7 704.7h0M526.9 728.5h0M528.1 718.8h0M529.3 743.0h0M530.5 712.0h0M531.8 690.7h0M533.0 720.0h0M534.2 716.1h0M535.4 692.6h0M536.6 714.8h0M537.8 686.7h0M539.0 708.9h0M540.2 684.2h0M541.5 729.8h0M542.7 724.9h0M543.9 703.9h0M545.1 693.8h0M546.3 703.5h0M547.5 723.0h0M548.7 739.0h0M550.0 701.6h0M551.2 731.4h0M552.4 714.2h0M553.6 713.1h0M554.8 735.2h0M556.0 746.9h0M557.2 667.4h0M558.5 683.3h0M559.7 694.6h0M560.9 699.5h0M562.1 754.9h0M563.3 661.3h0M564.5 770.3h0M565.7 664.8h0M566.9 695.5h0M568.2 694.1h0M569.4 706.7h0M570.6 676.9h0M571.8 698.2h0M573.0 701.7h0M574.2 675.8h0M575.4 676.3h0M576.7 680.5h0M577.9 692.6h0M579.1 708.4h0M580.3 722.7h0M581.5 787.7h0M582.7 688.2h0M583.9 672.7h0M585.1 704.0h0M586.4 703.8h0M587.6 688.2h0M588.8 694.4h0M590.0 684.8h0M591.2 677.0h0M592.4 692.9h0M593.6 724.1h0M594.9 694.0h0M596.1 706.1h0M597.3 774.7h0M598.5 686.1h0M599.7 691.6h0M600.9 686.3h0M602.1 781.6h0M603.3 724.6h0M604.6 697.1h0M605.8 714.8h0M607.0 671.3h0M608.2 703.7h0M609.4 702.8h0M610.6 728.8h0M382.7 617.0h0M383.2 670.5h0M382.7 651.7h0M382.7 645.0h0M382.7 647.5h0" stroke="#8a3c48" stroke-width="2.60" stroke-linecap="round" fill="none"/>
<path d="M154.5 701.8h0M155.6 707.9h0M156.7 709.6h0M157.8 729.0h0M158.9 744.9h0M160.0 741.6h0M161.1 739.3h0M162.2 733.8h0M163.3 712.0h0M164.4 747.0h0M165.5 723.2h0M166.6 712.3h0M167.7 710.2h0M168.8 744.7h0M169.9 718.2h0M170.9 716.1h0M172.0 710.3h0M173.1 743.3h0M174.2 723.8h0M175.3 740.2h0M176.4 693.6h0M177.5 729.5h0M178.6 721.0h0M179.7 731.7h0M180.8 724.0h0M181.9 714.0h0M183.0 707.7h0M184.1 712.7h0M185.2 717.0h0M186.3 729.7h0M187.4 747.6h0M188.4 737.4h0M189.5 722.2h0M190.6 724.4h0M191.7 736.6h0M192.8 735.0h0M193.9 723.8h0M195.0 716.9h0M196.1 733.6h0M197.2 717.8h0M198.3 717.8h0M199.4 730.3h0M200.5 692.4h0M201.6 729.9h0M202.7 700.8h0M203.8 713.0h0M204.9 703.0h0M205.9 701.5h0M207.0 706.3h0M208.1 709.4h0M209.2 699.8h0M210.3 706.2h0M211.4 705.2h0M212.5 716.6h0M213.6 760.6h0M214.7 721.3h0M215.8 693.9h0M216.9 698.7h0M218.0 710.3h0M219.1 704.4h0M220.2 716.9h0M221.3 708.4h0M222.3 716.8h0M223.4 720.0h0M224.5 692.4h0M225.6 724.6h0M226.7 704.1h0M227.8 739.2h0M228.9 722.3h0M230.0 693.1h0M231.1 702.3h0M232.2 706.1h0M233.3 687.6h0M234.4 688.0h0M235.5 711.3h0M236.6 688.0h0M237.7 742.6h0M238.8 667.1h0M239.8 697.1h0M240.9 698.3h0M242.0 675.0h0M243.1 723.4h0M244.2 706.7h0M245.3 704.1h0M246.4 737.8h0M247.5 673.4h0M248.6 713.2h0M249.7 691.9h0M250.8 699.6h0M251.9 703.9h0M253.0 692.4h0M254.1 756.1h0M255.2 699.4h0M256.3 658.2h0M257.3 708.6h0M258.4 718.7h0M259.5 701.8h0M260.6 711.5h0M261.7 716.0h0M262.8 712.5h0M263.9 713.2h0M265.0 681.4h0M266.1 694.7h0M267.2 727.5h0M268.3 703.2h0M269.4 710.8h0M270.5 692.8h0M271.6 664.6h0M272.7 726.4h0M273.7 717.8h0M274.8 704.7h0M275.9 719.3h0M277.0 709.6h0M278.1 676.9h0M279.2 691.5h0M280.3 724.7h0M281.4 688.5h0M282.5 710.4h0M283.6 720.3h0M284.7 722.2h0M285.8 744.7h0M286.9 721.9h0M288.0 711.2h0M289.1 724.5h0M290.2 726.9h0M291.2 738.5h0M292.3 734.9h0M293.4 719.7h0M294.5 714.5h0M295.6 731.3h0M296.7 733.5h0M297.8 705.0h0M298.9 729.7h0M300.0 694.4h0M301.1 718.9h0M302.2 714.8h0M303.3 708.5h0M304.4 678.7h0M305.5 721.6h0M306.6 702.5h0M307.7 703.1h0M308.7 736.2h0M309.8 706.3h0M310.9 699.5h0M312.0 698.9h0M313.1 709.0h0M314.2 699.1h0M315.3 676.6h0M316.4 684.6h0M317.5 702.9h0M318.6 703.7h0M319.7 690.2h0M320.8 731.9h0M321.9 716.3h0M323.0 701.9h0M324.1 707.1h0M325.2 708.3h0M326.2 682.0h0M327.3 679.6h0M328.4 701.9h0M329.5 702.1h0M330.6 677.4h0M331.7 697.8h0M332.8 681.3h0M333.9 682.4h0M335.0 688.0h0M336.1 683.0h0M337.2 667.4h0M338.3 694.8h0M339.4 694.4h0M340.5 671.1h0M341.6 667.0h0M342.6 679.3h0M343.7 681.9h0M344.8 683.1h0M345.9 665.8h0M347.0 685.8h0M348.1 649.7h0M349.2 675.2h0M350.3 659.2h0M351.4 683.6h0M352.5 653.3h0M353.6 638.3h0M354.7 704.2h0M355.8 652.3h0M356.9 655.7h0M358.0 673.4h0M359.1 649.1h0M360.1 649.4h0M361.2 658.5h0M362.3 630.8h0M363.4 643.0h0M364.5 641.1h0M365.6 637.8h0M366.7 624.6h0M367.8 635.1h0M368.9 640.4h0M370.0 626.8h0M371.1 627.6h0M372.2 617.0h0M373.3 635.2h0M374.4 643.0h0M375.5 628.3h0M376.6 628.5h0M377.6 621.8h0M378.7 629.1h0M379.8 619.7h0M380.9 613.5h0M382.0 600.7h0M383.1 794.9h0M384.2 774.1h0M385.3 818.5h0M386.4 794.8h0M387.5 800.7h0M388.6 817.4h0M389.7 783.8h0M390.8 783.8h0M391.9 840.9h0M393.0 800.0h0M394.0 806.6h0M395.1 813.2h0M396.2 803.1h0M397.3 809.0h0M398.4 827.1h0M399.5 825.4h0M400.6 803.9h0M401.7 827.6h0M402.8 818.2h0M403.9 817.6h0M405.0 811.0h0M406.1 808.9h0M407.2 812.4h0M408.3 817.8h0M409.4 808.7h0M410.5 808.1h0M411.5 764.3h0M412.6 785.6h0M413.7 787.3h0M414.8 763.3h0M415.9 795.0h0M417.0 804.7h0M418.1 798.3h0M419.2 803.9h0M420.3 780.0h0M421.4 757.1h0M422.5 749.4h0M423.6 778.6h0M424.7 761.3h0M425.8 772.5h0M426.9 788.4h0M428.0 775.4h0M429.0 762.8h0M430.1 763.0h0M431.2 772.7h0M432.3 758.8h0M433.4 802.9h0M434.5 750.4h0M435.6 779.3h0M436.7 765.1h0M437.8 739.1h0M438.9 785.2h0M440.0 766.1h0M441.1 740.0h0M442.2 745.9h0M443.3 746.7h0M444.4 738.7h0M445.5 742.6h0M446.5 743.2h0M447.6 743.7h0M448.7 754.6h0M449.8 751.1h0M450.9 756.7h0M452.0 743.9h0M453.1 736.3h0M454.2 726.4h0M455.3 733.7h0M456.4 730.3h0M457.5 727.2h0M458.6 734.7h0M459.7 761.7h0M460.8 743.9h0M461.9 739.2h0M462.9 742.3h0M464.0 766.1h0M465.1 746.6h0M466.2 695.2h0M467.3 730.9h0M468.4 725.4h0M469.5 756.2h0M470.6 746.7h0M471.7 764.7h0M472.8 737.9h0M473.9 756.2h0M475.0 789.3h0M476.1 720.2h0M477.2 734.6h0M478.3 741.6h0M479.4 734.4h0M480.4 743.3h0M481.5 732.6h0M482.6 718.5h0M483.7 748.4h0M484.8 736.6h0M485.9 736.3h0M487.0 724.9h0M488.1 728.1h0M489.2 728.3h0M490.3 717.8h0M491.4 711.0h0M492.5 743.0h0M493.6 765.8h0M494.7 747.6h0M495.8 741.6h0M496.9 723.8h0M497.9 718.9h0M499.0 719.4h0M500.1 721.1h0M501.2 719.3h0M502.3 710.8h0M503.4 707.1h0M504.5 678.0h0M505.6 728.2h0M506.7 726.8h0M507.8 746.5h0M508.9 742.8h0M510.0 716.8h0M511.1 723.9h0M512.2 737.7h0M513.3 728.4h0M514.3 726.0h0M515.4 727.3h0M516.5 739.2h0M517.6 725.2h0M518.7 726.1h0M519.8 747.3h0M520.9 738.8h0M522.0 722.1h0M523.1 721.1h0M524.2 702.3h0M525.3 709.8h0M526.4 706.9h0M527.5 712.4h0M528.6 764.7h0M529.7 712.4h0M530.8 697.9h0M531.8 709.1h0M532.9 703.3h0M534.0 718.1h0M535.1 709.4h0M536.2 701.1h0M537.3 730.6h0M538.4 718.6h0M539.5 714.8h0M540.6 721.2h0M541.7 732.2h0M542.8 736.4h0M543.9 709.8h0M545.0 710.6h0M546.1 702.0h0M547.2 730.1h0M548.3 708.7h0M549.3 706.1h0M550.4 680.0h0M551.5 687.3h0M552.6 715.6h0M553.7 713.4h0M554.8 728.8h0M555.9 703.4h0M557.0 696.5h0M558.1 712.7h0M559.2 714.5h0M560.3 713.3h0M561.4 711.1h0M562.5 690.5h0M563.6 718.7h0M564.7 710.5h0M565.7 696.2h0M566.8 715.3h0M567.9 647.6h0M569.0 700.3h0M570.1 724.4h0M571.2 737.5h0M572.3 696.7h0M573.4 703.7h0M574.5 714.5h0M575.6 645.7h0M576.7 701.4h0M577.8 707.9h0M578.9 779.6h0M580.0 684.6h0M581.1 714.3h0M582.2 654.9h0M583.2 662.2h0M584.3 687.1h0M585.4 715.8h0M586.5 710.0h0M587.6 722.9h0M588.7 685.6h0M589.8 705.3h0M590.9 688.7h0M592.0 711.9h0M593.1 671.3h0M594.2 690.3h0M595.3 683.4h0M596.4 716.0h0M597.5 700.1h0M598.6 694.1h0M599.7 684.1h0M600.7 669.2h0M601.8 734.4h0M602.9 703.1h0M604.0 684.2h0M605.1 691.4h0M606.2 645.7h0M607.3 711.6h0M608.4 720.3h0M609.5 707.5h0M610.6 718.0h0M382.7 686.5h0M383.2 665.8h0M382.6 679.8h0M383.0 625.9h0M381.8 640.6h0" stroke="#f4a21c" stroke-width="2.60" stroke-linecap="round" fill="none"/>
<path d="M155.5 738.6h0M156.8 741.7h0M158.1 720.0h0M159.4 724.9h0M160.7 703.5h0M161.9 729.5h0M163.2 728.3h0M164.5 725.7h0M165.8 735.4h0M167.1 743.8h0M168.4 756.0h0M169.7 707.0h0M171.0 736.3h0M172.3 741.2h0M173.6 721.7h0M174.9 756.2h0M176.2 727.5h0M177.5 743.3h0M178.8 730.2h0M180.1 749.4h0M181.4 768.0h0M182.7 741.1h0M184.0 722.5h0M185.3 788.6h0M186.6 742.1h0M187.9 709.6h0M189.2 753.2h0M190.5 745.7h0M191.7 737.4h0M193.0 758.2h0M194.3 753.5h0M195.6 766.2h0M196.9 737.7h0M198.2 757.1h0M199.5 764.6h0M200.8 772.1h0M202.1 742.8h0M203.4 724.8h0M204.7 766.4h0M206.0 752.3h0M207.3 756.7h0M208.6 750.4h0M209.9 715.5h0M211.2 748.2h0M212.5 776.6h0M213.8 721.6h0M215.1 778.9h0M216.4 736.9h0M217.7 744.2h0M219.0 757.1h0M220.3 750.4h0M221.5 739.1h0M222.8 755.9h0M224.1 750.5h0M225.4 738.6h0M226.7 757.2h0M228.0 752.7h0M229.3 750.4h0M230.6 743.2h0M231.9 737.5h0M233.2 715.7h0M234.5 736.7h0M235.8 744.1h0M237.1 727.3h0M238.4 746.4h0M239.7 750.7h0M241.0 727.2h0M242.3 728.3h0M243.6 728.4h0M244.9 771.6h0M246.2 705.3h0M247.5 736.7h0M248.8 733.5h0M250.1 716.1h0M251.3 734.5h0M252.6 714.5h0M253.9 741.0h0M255.2 726.0h0M256.5 732.4h0M257.8 719.3h0M259.1 706.9h0M260.4 710.4h0M261.7 727.2h0M263.0 730.8h0M264.3 705.7h0M265.6 740.8h0M266.9 743.7h0M268.2 741.6h0M269.5 766.6h0M270.8 733.4h0M272.1 727.8h0M273.4 744.1h0M274.7 723.5h0M276.0 716.8h0M277.3 744.9h0M278.6 731.2h0M279.9 734.8h0M281.1 761.9h0M282.4 701.6h0M283.7 733.8h0M285.0 724.4h0M286.3 718.6h0M287.6 740.7h0M288.9 735.4h0M290.2 733.9h0M291.5 740.4h0M292.8 724.9h0M294.1 766.1h0M295.4 730.2h0M296.7 740.3h0M298.0 715.1h0M299.3 722.2h0M300.6 720.2h0M301.9 688.0h0M303.2 699.1h0M304.5 718.6h0M305.8 692.9h0M307.1 710.1h0M308.4 737.3h0M309.7 709.8h0M310.9 714.6h0M312.2 709.7h0M313.5 686.6h0M314.8 702.5h0M316.1 697.9h0M317.4 712.0h0M318.7 697.7h0M320.0 707.4h0M321.3 712.6h0M322.6 716.8h0M323.9 691.6h0M325.2 701.3h0M326.5 710.8h0M327.8 690.7h0M329.1 694.3h0M330.4 678.7h0M331.7 678.5h0M333.0 682.6h0M334.3 696.7h0M335.6 693.4h0M336.9 693.3h0M338.2 700.1h0M339.5 683.5h0M340.7 678.9h0M342.0 673.5h0M343.3 668.3h0M344.6 688.1h0M345.9 664.9h0M347.2 693.5h0M348.5 676.3h0M349.8 677.2h0M351.1 684.4h0M352.4 689.1h0M353.7 660.5h0M355.0 665.6h0M356.3 686.3h0M357.6 690.7h0M358.9 684.2h0M360.2 685.8h0M361.5 680.1h0M362.8 676.6h0M364.1 678.8h0M365.4 663.2h0M366.7 682.0h0M368.0 656.2h0M369.3 665.2h0M370.5 648.9h0M371.8 663.6h0M373.1 670.7h0M374.4 661.4h0M375.7 653.4h0M377.0 656.9h0M378.3 655.4h0M379.6 654.4h0M380.9 647.5h0M382.2 643.1h0M383.5 741.6h0M384.8 741.1h0M386.1 745.9h0M387.4 735.2h0M388.7 743.9h0M390.0 743.0h0M391.3 752.6h0M392.6 747.9h0M393.9 759.2h0M395.2 774.6h0M396.5 756.9h0M397.8 757.4h0M399.1 768.6h0M400.3 739.9h0M401.6 775.1h0M402.9 766.6h0M404.2 778.8h0M405.5 753.2h0M406.8 792.8h0M408.1 763.8h0M409.4 775.4h0M410.7 751.2h0M412.0 756.6h0M413.3 754.3h0M414.6 756.2h0M415.9 759.0h0M417.2 758.3h0M418.5 744.9h0M419.8 753.7h0M421.1 745.7h0M422.4 725.6h0M423.7 740.3h0M425.0 774.5h0M426.3 741.7h0M427.6 747.1h0M428.9 746.9h0M430.1 747.2h0M431.4 745.5h0M432.7 753.4h0M434.0 746.0h0M435.3 760.2h0M436.6 756.1h0M437.9 758.6h0M439.2 758.3h0M440.5 755.4h0M441.8 726.6h0M443.1 744.2h0M444.4 719.8h0M445.7 750.6h0M447.0 726.6h0M448.3 744.8h0M449.6 738.1h0M450.9 740.6h0M452.2 749.8h0M453.5 745.1h0M454.8 752.7h0M456.1 750.5h0M457.4 754.0h0M458.7 735.3h0M459.9 739.4h0M461.2 741.7h0M462.5 744.7h0M463.8 744.1h0M465.1 772.6h0M466.4 744.4h0M467.7 732.1h0M469.0 723.9h0M470.3 748.2h0M471.6 726.1h0M472.9 729.3h0M474.2 716.7h0M475.5 743.2h0M476.8 733.4h0M478.1 707.5h0M479.4 726.8h0M480.7 749.1h0M482.0 725.5h0M483.3 716.2h0M484.6 717.3h0M485.9 740.3h0M487.2 709.5h0M488.5 706.7h0M489.7 694.6h0M491.0 757.8h0M492.3 718.7h0M493.6 698.1h0M494.9 713.7h0M496.2 716.9h0M497.5 670.9h0M498.8 720.0h0M500.1 718.2h0M501.4 716.3h0M502.7 712.5h0M504.0 702.7h0M505.3 721.4h0M506.6 717.4h0M507.9 696.8h0M509.2 700.1h0M510.5 715.0h0M511.8 700.4h0M513.1 735.6h0M514.4 714.4h0M515.7 722.6h0M517.0 701.1h0M518.3 698.6h0M519.5 718.3h0M520.8 713.0h0M522.1 690.6h0M523.4 712.1h0M524.7 674.7h0M526.0 718.7h0M527.3 712.7h0M528.6 722.3h0M529.9 705.2h0M531.2 674.2h0M532.5 731.0h0M533.8 720.0h0M535.1 720.1h0M536.4 718.5h0M537.7 718.9h0M539.0 722.3h0M540.3 725.1h0M541.6 754.9h0M542.9 720.4h0M544.2 731.2h0M545.5 723.4h0M546.8 745.1h0M548.1 723.4h0M549.3 726.7h0M550.6 719.5h0M551.9 723.1h0M553.2 707.2h0M554.5 732.5h0M555.8 682.4h0M557.1 725.2h0M558.4 703.1h0M559.7 716.2h0M561.0 718.2h0M562.3 702.3h0M563.6 672.9h0M564.9 766.0h0M566.2 713.7h0M567.5 703.8h0M568.8 704.1h0M570.1 713.0h0M571.4 723.2h0M572.7 704.7h0M574.0 681.8h0M575.3 681.6h0M576.6 724.4h0M577.9 696.0h0M579.1 670.7h0M580.4 700.8h0M581.7 662.0h0M583.0 689.6h0M584.3 677.8h0M585.6 696.6h0M586.9 700.4h0M588.2 704.7h0M589.5 670.5h0M590.8 687.0h0M592.1 698.7h0M593.4 683.5h0M594.7 728.5h0M596.0 702.1h0M597.3 656.9h0M598.6 708.5h0M599.9 687.3h0M601.2 686.3h0M602.5 656.8h0M603.8 696.9h0M605.1 690.3h0M606.4 705.1h0M607.7 693.6h0M608.9 727.8h0M610.2 716.5h0M382.8 677.9h0M382.4 644.8h0M382.5 630.0h0M382.7 674.2h0M382.5 704.1h0" stroke="#2418f4" stroke-width="2.60" stroke-linecap="round" fill="none"/>
<path d="M157.50 714.14V749.89M165.26 714.83V750.58M173.02 715.52V751.27M180.78 715.88V751.63M188.54 715.88V751.63M196.31 715.88V751.63M204.07 715.88V751.63M211.83 714.06V749.81M219.59 712.04V747.79M227.36 710.90V746.65M235.12 709.69V745.44M242.88 708.32V744.07M250.64 706.72V742.47M258.40 704.69V740.44M266.17 704.01V739.76M273.93 703.34V739.09M281.69 702.88V738.63M289.45 702.08V737.83M297.22 698.19V733.94M304.98 694.48V730.23M312.74 691.74V727.49M320.50 688.28V724.03M328.26 681.82V717.57M336.03 674.60V710.35M343.79 664.13V699.88M351.55 656.00V691.75M359.31 644.92V680.67M367.08 628.28V672.96M374.84 618.24V662.92M382.60 613.55V706.95M390.36 742.85V821.95M398.12 771.59V825.21M405.89 777.40V813.15M413.65 767.48V803.23M421.41 761.46V797.21M429.17 749.77V785.52M436.94 743.66V779.41M444.70 735.09V770.84M452.46 727.56V763.31M460.22 723.11V758.86M467.98 718.67V754.42M475.75 714.23V749.98M483.51 710.12V745.87M491.27 706.22V741.97M499.03 702.94V738.69M506.80 700.61V736.36M514.56 699.24V734.99M522.32 697.09V732.84M530.08 694.53V730.28M537.84 691.90V727.65M545.61 689.85V725.60M553.37 688.09V723.84M561.13 686.19V721.94M568.89 684.44V720.19M576.65 683.76V719.51M584.42 683.71V719.46M592.18 684.14V719.89M599.94 684.82V720.57M607.70 685.50V721.25" stroke="#000" stroke-width="1.45" fill="none"/>
<path d="M153.35 727.86h8.3v8.3h-8.3zM161.11 728.55h8.3v8.3h-8.3zM168.87 729.24h8.3v8.3h-8.3zM176.63 729.61h8.3v8.3h-8.3zM184.39 729.61h8.3v8.3h-8.3zM192.16 729.61h8.3v8.3h-8.3zM199.92 729.61h8.3v8.3h-8.3zM207.68 727.79h8.3v8.3h-8.3zM215.44 725.77h8.3v8.3h-8.3zM223.21 724.62h8.3v8.3h-8.3zM230.97 723.42h8.3v8.3h-8.3zM238.73 722.05h8.3v8.3h-8.3zM246.49 720.45h8.3v8.3h-8.3zM254.25 718.42h8.3v8.3h-8.3zM262.02 717.73h8.3v8.3h-8.3zM269.78 717.06h8.3v8.3h-8.3zM277.54 716.61h8.3v8.3h-8.3zM285.30 715.80h8.3v8.3h-8.3zM293.07 711.92h8.3v8.3h-8.3zM300.83 708.20h8.3v8.3h-8.3zM308.59 705.46h8.3v8.3h-8.3zM316.35 702.01h8.3v8.3h-8.3zM324.11 695.54h8.3v8.3h-8.3zM331.88 688.32h8.3v8.3h-8.3zM339.64 677.86h8.3v8.3h-8.3zM347.40 669.73h8.3v8.3h-8.3zM355.16 658.64h8.3v8.3h-8.3zM362.93 646.47h8.3v8.3h-8.3zM370.69 636.43h8.3v8.3h-8.3zM378.45 655.88h8.3v8.3h-8.3zM386.21 777.58h8.3v8.3h-8.3zM393.97 794.25h8.3v8.3h-8.3zM401.74 791.13h8.3v8.3h-8.3zM409.50 781.20h8.3v8.3h-8.3zM417.26 775.18h8.3v8.3h-8.3zM425.02 763.49h8.3v8.3h-8.3zM432.79 757.38h8.3v8.3h-8.3zM440.55 748.81h8.3v8.3h-8.3zM448.31 741.28h8.3v8.3h-8.3zM456.07 736.84h8.3v8.3h-8.3zM463.83 732.39h8.3v8.3h-8.3zM471.60 727.95h8.3v8.3h-8.3zM479.36 723.85h8.3v8.3h-8.3zM487.12 719.95h8.3v8.3h-8.3zM494.88 716.67h8.3v8.3h-8.3zM502.65 714.34h8.3v8.3h-8.3zM510.41 712.97h8.3v8.3h-8.3zM518.17 710.82h8.3v8.3h-8.3zM525.93 708.25h8.3v8.3h-8.3zM533.69 705.62h8.3v8.3h-8.3zM541.46 703.58h8.3v8.3h-8.3zM549.22 701.81h8.3v8.3h-8.3zM556.98 699.91h8.3v8.3h-8.3zM564.74 698.17h8.3v8.3h-8.3zM572.50 697.48h8.3v8.3h-8.3zM580.27 697.43h8.3v8.3h-8.3zM588.03 697.86h8.3v8.3h-8.3zM595.79 698.54h8.3v8.3h-8.3zM603.55 699.22h8.3v8.3h-8.3z" fill="#fff" stroke="#000" stroke-width="1.4"/>
</g>
<path d="M154.30 892.40v-13.40M268.45 892.40v-13.40M382.60 892.40v-13.40M496.75 892.40v-13.40M610.90 892.40v-13.40M154.30 892.40h13.40M154.30 803.02h13.40M154.30 713.65h13.40M154.30 624.27h13.40M154.30 534.90h13.40" stroke="#000" stroke-width="2.4" fill="none"/>
<rect x="154.30" y="534.90" width="456.60" height="357.50" fill="none" stroke="#000" stroke-width="1.25"/>
<path d="M921.58 534.90V892.70M1035.65 534.90V892.70M1149.72 534.90V892.70M807.50 803.25H1263.80M807.50 713.80H1263.80M807.50 624.35H1263.80" stroke="#b6b6b6" stroke-width="1.2" fill="none"/>
<g clip-path="url(#cE)">
<path d="M807.9 821.2h0M809.2 788.3h0M810.5 682.6h0M811.8 731.1h0M813.1 796.2h0M814.4 719.9h0M815.7 734.0h0M817.0 737.0h0M818.3 767.3h0M819.7 720.3h0M821.0 732.1h0M822.3 747.1h0M823.6 733.6h0M824.9 747.7h0M826.2 733.8h0M827.5 731.7h0M828.8 751.3h0M830.1 776.5h0M831.4 711.7h0M832.7 724.0h0M834.0 734.0h0M835.3 735.0h0M836.6 719.7h0M837.9 687.9h0M839.2 733.6h0M840.5 720.8h0M841.8 741.6h0M843.1 712.4h0M844.4 742.7h0M845.7 748.2h0M847.0 757.0h0M848.3 719.4h0M849.6 657.8h0M850.9 688.9h0M852.2 727.5h0M853.5 732.3h0M854.8 713.5h0M856.1 702.0h0M857.4 713.1h0M858.7 752.4h0M860.0 745.2h0M861.3 718.8h0M862.6 716.5h0M863.9 736.9h0M865.2 744.5h0M866.5 710.1h0M867.8 748.1h0M869.1 735.1h0M870.4 689.5h0M871.7 709.7h0M873.0 695.7h0M874.3 732.3h0M875.6 725.0h0M876.9 719.3h0M878.3 710.4h0M879.6 747.6h0M880.9 681.6h0M882.2 724.9h0M883.5 706.0h0M884.8 720.6h0M886.1 702.7h0M887.4 710.6h0M888.7 730.6h0M890.0 709.4h0M891.3 734.5h0M892.6 724.4h0M893.9 744.0h0M895.2 705.7h0M896.5 698.6h0M897.8 665.6h0M899.1 724.9h0M900.4 697.1h0M901.7 724.7h0M903.0 741.7h0M904.3 719.5h0M905.6 777.0h0M906.9 719.2h0M908.2 715.4h0M909.5 748.6h0M910.8 704.2h0M912.1 715.9h0M913.4 746.6h0M914.7 731.8h0M916.0 667.7h0M917.3 694.3h0M918.6 716.0h0M919.9 686.3h0M921.2 726.3h0M922.5 701.1h0M923.8 691.9h0M925.1 707.2h0M926.4 684.3h0M927.7 708.5h0M929.0 645.9h0M930.3 693.7h0M931.6 648.2h0M932.9 673.7h0M934.2 686.8h0M935.5 695.6h0M936.9 669.7h0M938.2 678.8h0M939.5 734.6h0M940.8 718.4h0M942.1 666.7h0M943.4 720.1h0M944.7 707.2h0M946.0 690.3h0M947.3 695.1h0M948.6 681.7h0M949.9 683.5h0M951.2 702.8h0M952.5 721.7h0M953.8 691.8h0M955.1 693.0h0M956.4 669.7h0M957.7 703.9h0M959.0 707.7h0M960.3 676.3h0M961.6 694.5h0M962.9 707.6h0M964.2 734.3h0M965.5 689.1h0M966.8 697.5h0M968.1 703.0h0M969.4 687.5h0M970.7 702.4h0M972.0 706.9h0M973.3 706.0h0M974.6 697.5h0M975.9 686.9h0M977.2 687.2h0M978.5 694.6h0M979.8 694.7h0M981.1 699.6h0M982.4 703.8h0M983.7 674.2h0M985.0 693.4h0M986.3 700.4h0M987.6 701.6h0M988.9 706.0h0M990.2 687.0h0M991.5 681.2h0M992.8 675.9h0M994.1 665.7h0M995.5 680.9h0M996.8 679.4h0M998.1 690.7h0M999.4 681.4h0M1000.7 704.6h0M1002.0 672.5h0M1003.3 681.8h0M1004.6 674.0h0M1005.9 667.2h0M1007.2 676.6h0M1008.5 667.5h0M1009.8 683.0h0M1011.1 701.6h0M1012.4 668.3h0M1013.7 654.5h0M1015.0 684.7h0M1016.3 665.7h0M1017.6 673.1h0M1018.9 659.9h0M1020.2 666.3h0M1021.5 657.7h0M1022.8 681.9h0M1024.1 664.2h0M1025.4 669.2h0M1026.7 655.9h0M1028.0 655.4h0M1029.3 665.2h0M1030.6 673.9h0M1031.9 678.5h0M1033.2 667.1h0M1034.5 669.8h0M1035.8 862.2h0M1037.1 847.3h0M1038.4 852.4h0M1039.7 858.6h0M1041.0 823.5h0M1042.3 873.5h0M1043.6 842.6h0M1044.9 881.7h0M1046.2 840.1h0M1047.5 841.3h0M1048.8 860.4h0M1050.1 867.5h0M1051.4 827.3h0M1052.7 862.9h0M1054.0 826.5h0M1055.4 794.6h0M1056.7 843.5h0M1058.0 814.9h0M1059.3 830.9h0M1060.6 810.1h0M1061.9 791.4h0M1063.2 798.3h0M1064.5 794.3h0M1065.8 782.6h0M1067.1 802.9h0M1068.4 808.5h0M1069.7 810.1h0M1071.0 804.5h0M1072.3 782.3h0M1073.6 787.1h0M1074.9 798.7h0M1076.2 779.9h0M1077.5 777.7h0M1078.8 775.2h0M1080.1 783.4h0M1081.4 780.6h0M1082.7 768.4h0M1084.0 760.8h0M1085.3 766.3h0M1086.6 790.9h0M1087.9 760.6h0M1089.2 751.8h0M1090.5 812.1h0M1091.8 760.8h0M1093.1 739.4h0M1094.4 752.3h0M1095.7 766.1h0M1097.0 801.1h0M1098.3 735.8h0M1099.6 755.3h0M1100.9 758.5h0M1102.2 740.6h0M1103.5 745.7h0M1104.8 736.0h0M1106.1 755.0h0M1107.4 705.2h0M1108.7 769.5h0M1110.0 748.0h0M1111.3 757.4h0M1112.6 748.1h0M1114.0 729.6h0M1115.3 721.7h0M1116.6 744.6h0M1117.9 736.1h0M1119.2 717.8h0M1120.5 718.3h0M1121.8 747.8h0M1123.1 724.1h0M1124.4 750.1h0M1125.7 747.0h0M1127.0 738.9h0M1128.3 735.4h0M1129.6 709.0h0M1130.9 700.9h0M1132.2 744.2h0M1133.5 721.3h0M1134.8 675.7h0M1136.1 706.7h0M1137.4 776.2h0M1138.7 699.5h0M1140.0 703.3h0M1141.3 707.2h0M1142.6 730.0h0M1143.9 705.1h0M1145.2 730.1h0M1146.5 724.3h0M1147.8 723.5h0M1149.1 720.3h0M1150.4 730.2h0M1151.7 748.0h0M1153.0 705.0h0M1154.3 716.6h0M1155.6 690.4h0M1156.9 731.2h0M1158.2 731.3h0M1159.5 736.4h0M1160.8 717.3h0M1162.1 748.4h0M1163.4 722.9h0M1164.7 734.5h0M1166.0 703.7h0M1167.3 686.2h0M1168.6 697.2h0M1169.9 687.2h0M1171.2 681.3h0M1172.6 703.1h0M1173.9 723.5h0M1175.2 696.4h0M1176.5 723.2h0M1177.8 699.0h0M1179.1 705.0h0M1180.4 689.6h0M1181.7 693.6h0M1183.0 695.3h0M1184.3 725.8h0M1185.6 680.6h0M1186.9 732.4h0M1188.2 678.4h0M1189.5 706.8h0M1190.8 703.1h0M1192.1 644.9h0M1193.4 676.4h0M1194.7 671.5h0M1196.0 715.8h0M1197.3 696.1h0M1198.6 689.0h0M1199.9 681.6h0M1201.2 709.0h0M1202.5 702.9h0M1203.8 667.9h0M1205.1 738.2h0M1206.4 698.8h0M1207.7 693.1h0M1209.0 696.9h0M1210.3 708.0h0M1211.6 689.1h0M1212.9 707.8h0M1214.2 729.6h0M1215.5 716.5h0M1216.8 716.2h0M1218.1 709.8h0M1219.4 700.2h0M1220.7 712.6h0M1222.0 704.1h0M1223.3 677.8h0M1224.6 697.7h0M1225.9 711.0h0M1227.2 707.5h0M1228.5 736.6h0M1229.8 729.4h0M1231.2 647.9h0M1232.5 726.4h0M1233.8 750.9h0M1235.1 721.5h0M1236.4 715.8h0M1237.7 746.2h0M1239.0 719.5h0M1240.3 718.0h0M1241.6 758.0h0M1242.9 737.6h0M1244.2 794.7h0M1245.5 743.8h0M1246.8 730.9h0M1248.1 687.9h0M1249.4 705.6h0M1250.7 732.9h0M1252.0 684.9h0M1253.3 732.7h0M1254.6 664.6h0M1255.9 713.7h0M1257.2 677.1h0M1258.5 714.5h0M1259.8 753.6h0M1261.1 660.1h0M1262.4 711.4h0M1263.7 687.2h0M1035.5 727.4h0M1035.6 775.9h0M1035.8 779.8h0M1035.8 742.7h0M1035.6 751.6h0" stroke="#8a3c48" stroke-width="2.60" stroke-linecap="round" fill="none"/>
<path d="M807.7 733.6h0M808.9 701.4h0M810.1 699.4h0M811.2 679.0h0M812.4 719.5h0M813.6 743.8h0M814.8 757.5h0M816.0 759.5h0M817.2 755.6h0M818.3 699.0h0M819.5 744.3h0M820.7 748.3h0M821.9 736.3h0M823.1 728.2h0M824.3 716.2h0M825.4 715.2h0M826.6 753.7h0M827.8 709.5h0M829.0 767.5h0M830.2 756.8h0M831.4 715.7h0M832.5 725.6h0M833.7 751.0h0M834.9 743.2h0M836.1 722.5h0M837.3 756.4h0M838.4 691.2h0M839.6 732.8h0M840.8 723.8h0M842.0 720.4h0M843.2 701.6h0M844.4 720.4h0M845.5 682.9h0M846.7 670.5h0M847.9 701.4h0M849.1 738.5h0M850.3 709.0h0M851.5 738.5h0M852.6 731.5h0M853.8 735.7h0M855.0 710.2h0M856.2 753.6h0M857.4 753.2h0M858.6 695.9h0M859.7 743.7h0M860.9 728.4h0M862.1 757.1h0M863.3 711.3h0M864.5 699.2h0M865.6 751.7h0M866.8 695.5h0M868.0 758.7h0M869.2 722.8h0M870.4 759.1h0M871.6 749.9h0M872.7 730.1h0M873.9 722.3h0M875.1 729.7h0M876.3 779.0h0M877.5 661.5h0M878.7 735.7h0M879.8 750.4h0M881.0 730.3h0M882.2 749.5h0M883.4 757.5h0M884.6 764.8h0M885.8 732.4h0M886.9 714.4h0M888.1 756.7h0M889.3 771.1h0M890.5 707.4h0M891.7 724.6h0M892.9 758.2h0M894.0 727.2h0M895.2 728.2h0M896.4 720.1h0M897.6 729.2h0M898.8 659.2h0M899.9 721.9h0M901.1 720.2h0M902.3 709.2h0M903.5 724.9h0M904.7 712.4h0M905.9 705.9h0M907.0 738.1h0M908.2 728.0h0M909.4 708.7h0M910.6 732.1h0M911.8 722.4h0M913.0 713.1h0M914.1 762.0h0M915.3 734.9h0M916.5 712.6h0M917.7 713.2h0M918.9 722.3h0M920.1 707.8h0M921.2 686.5h0M922.4 714.6h0M923.6 716.0h0M924.8 738.8h0M926.0 722.2h0M927.1 701.7h0M928.3 708.2h0M929.5 664.3h0M930.7 756.9h0M931.9 701.1h0M933.1 670.4h0M934.2 728.0h0M935.4 696.8h0M936.6 752.9h0M937.8 720.2h0M939.0 703.7h0M940.2 709.3h0M941.3 713.9h0M942.5 704.2h0M943.7 713.8h0M944.9 723.9h0M946.1 683.5h0M947.3 677.7h0M948.4 688.4h0M949.6 754.2h0M950.8 699.4h0M952.0 708.9h0M953.2 697.9h0M954.4 707.9h0M955.5 714.3h0M956.7 671.1h0M957.9 688.3h0M959.1 688.1h0M960.3 686.1h0M961.4 712.8h0M962.6 687.0h0M963.8 699.1h0M965.0 691.3h0M966.2 712.2h0M967.4 675.7h0M968.5 693.4h0M969.7 679.6h0M970.9 679.5h0M972.1 735.4h0M973.3 697.6h0M974.5 697.8h0M975.6 689.9h0M976.8 678.2h0M978.0 712.9h0M979.2 710.2h0M980.4 714.0h0M981.6 701.2h0M982.7 698.3h0M983.9 687.9h0M985.1 731.0h0M986.3 678.0h0M987.5 689.8h0M988.6 690.7h0M989.8 694.2h0M991.0 680.6h0M992.2 678.7h0M993.4 681.5h0M994.6 710.6h0M995.7 691.9h0M996.9 681.7h0M998.1 689.8h0M999.3 672.6h0M1000.5 694.9h0M1001.7 695.7h0M1002.8 680.3h0M1004.0 694.7h0M1005.2 660.4h0M1006.4 647.9h0M1007.6 684.2h0M1008.8 690.6h0M1009.9 667.7h0M1011.1 691.9h0M1012.3 674.2h0M1013.5 683.9h0M1014.7 663.0h0M1015.9 687.3h0M1017.0 712.8h0M1018.2 700.5h0M1019.4 708.1h0M1020.6 661.4h0M1021.8 711.7h0M1022.9 691.6h0M1024.1 686.2h0M1025.3 678.0h0M1026.5 701.0h0M1027.7 667.4h0M1028.9 698.0h0M1030.0 676.3h0M1031.2 656.9h0M1032.4 672.0h0M1033.6 684.0h0M1034.8 648.1h0M1036.0 857.7h0M1037.1 874.6h0M1038.3 821.8h0M1039.5 867.4h0M1040.7 854.3h0M1041.9 860.5h0M1043.1 848.1h0M1044.2 855.4h0M1045.4 862.3h0M1046.6 850.3h0M1047.8 846.9h0M1049.0 874.8h0M1050.1 830.6h0M1051.3 842.5h0M1052.5 849.8h0M1053.7 836.4h0M1054.9 881.5h0M1056.1 833.2h0M1057.2 838.3h0M1058.4 835.7h0M1059.6 833.3h0M1060.8 813.9h0M1062.0 814.2h0M1063.2 793.7h0M1064.3 827.6h0M1065.5 785.5h0M1066.7 798.3h0M1067.9 789.3h0M1069.1 771.2h0M1070.3 787.0h0M1071.4 787.0h0M1072.6 781.7h0M1073.8 781.6h0M1075.0 771.9h0M1076.2 776.3h0M1077.4 774.3h0M1078.5 772.2h0M1079.7 773.1h0M1080.9 752.3h0M1082.1 783.4h0M1083.3 758.2h0M1084.4 789.3h0M1085.6 751.5h0M1086.8 718.9h0M1088.0 766.5h0M1089.2 754.2h0M1090.4 761.8h0M1091.5 749.7h0M1092.7 738.7h0M1093.9 746.5h0M1095.1 752.9h0M1096.3 734.8h0M1097.5 713.3h0M1098.6 761.4h0M1099.8 724.2h0M1101.0 746.6h0M1102.2 749.6h0M1103.4 755.8h0M1104.6 752.3h0M1105.7 741.1h0M1106.9 752.2h0M1108.1 754.1h0M1109.3 756.7h0M1110.5 757.3h0M1111.6 763.2h0M1112.8 710.1h0M1114.0 772.4h0M1115.2 759.9h0M1116.4 736.3h0M1117.6 787.6h0M1118.7 709.3h0M1119.9 736.8h0M1121.1 743.5h0M1122.3 735.9h0M1123.5 710.4h0M1124.7 719.3h0M1125.8 718.7h0M1127.0 706.8h0M1128.2 734.9h0M1129.4 740.3h0M1130.6 727.5h0M1131.8 702.0h0M1132.9 730.5h0M1134.1 708.9h0M1135.3 708.5h0M1136.5 737.5h0M1137.7 699.0h0M1138.9 720.9h0M1140.0 765.6h0M1141.2 734.8h0M1142.4 728.2h0M1143.6 731.8h0M1144.8 735.9h0M1145.9 714.1h0M1147.1 721.6h0M1148.3 726.3h0M1149.5 743.8h0M1150.7 765.9h0M1151.9 718.0h0M1153.0 715.2h0M1154.2 721.5h0M1155.4 661.4h0M1156.6 710.4h0M1157.8 719.6h0M1159.0 667.4h0M1160.1 729.0h0M1161.3 699.1h0M1162.5 683.2h0M1163.7 715.2h0M1164.9 703.4h0M1166.1 704.9h0M1167.2 716.8h0M1168.4 718.8h0M1169.6 741.8h0M1170.8 725.4h0M1172.0 702.6h0M1173.1 694.2h0M1174.3 697.4h0M1175.5 721.0h0M1176.7 706.9h0M1177.9 673.6h0M1179.1 744.2h0M1180.2 718.5h0M1181.4 717.9h0M1182.6 706.3h0M1183.8 689.5h0M1185.0 695.4h0M1186.2 664.4h0M1187.3 704.8h0M1188.5 697.6h0M1189.7 685.9h0M1190.9 714.2h0M1192.1 723.0h0M1193.3 702.3h0M1194.4 665.6h0M1195.6 700.3h0M1196.8 698.9h0M1198.0 643.2h0M1199.2 731.5h0M1200.4 696.7h0M1201.5 708.8h0M1202.7 705.7h0M1203.9 706.3h0M1205.1 695.8h0M1206.3 690.2h0M1207.4 721.9h0M1208.6 689.0h0M1209.8 709.0h0M1211.0 680.9h0M1212.2 699.6h0M1213.4 698.5h0M1214.5 693.5h0M1215.7 695.1h0M1216.9 683.9h0M1218.1 697.3h0M1219.3 669.7h0M1220.5 694.5h0M1221.6 684.6h0M1222.8 708.8h0M1224.0 693.9h0M1225.2 683.4h0M1226.4 691.0h0M1227.6 700.2h0M1228.7 688.1h0M1229.9 675.3h0M1231.1 696.7h0M1232.3 697.0h0M1233.5 665.7h0M1234.6 687.9h0M1235.8 654.4h0M1237.0 688.7h0M1238.2 689.0h0M1239.4 665.4h0M1240.6 720.7h0M1241.7 713.3h0M1242.9 718.0h0M1244.1 757.8h0M1245.3 668.5h0M1246.5 705.8h0M1247.7 678.9h0M1248.8 688.4h0M1250.0 690.0h0M1251.2 696.5h0M1252.4 667.5h0M1253.6 726.4h0M1254.8 754.5h0M1255.9 699.6h0M1257.1 689.5h0M1258.3 739.7h0M1259.5 712.1h0M1260.7 680.6h0M1261.9 677.5h0M1263.0 719.5h0M1035.6 709.8h0M1035.5 739.4h0M1035.5 727.6h0M1035.9 753.8h0M1035.4 729.6h0" stroke="#6a2a5c" stroke-width="2.60" stroke-linecap="round" fill="none"/>
<path d="M807.8 737.9h0M809.1 723.6h0M810.5 722.8h0M811.8 713.6h0M813.2 773.4h0M814.5 697.3h0M815.9 723.6h0M817.2 745.2h0M818.6 724.6h0M819.9 764.7h0M821.3 701.0h0M822.6 731.4h0M824.0 692.6h0M825.3 776.2h0M826.7 733.9h0M828.0 747.9h0M829.4 723.7h0M830.7 738.3h0M832.1 691.6h0M833.4 734.4h0M834.8 729.9h0M836.1 739.6h0M837.5 745.6h0M838.8 724.0h0M840.2 724.6h0M841.5 754.0h0M842.9 728.9h0M844.3 729.4h0M845.6 723.1h0M847.0 725.4h0M848.3 679.8h0M849.7 721.1h0M851.0 710.0h0M852.4 722.8h0M853.7 698.0h0M855.1 704.1h0M856.4 708.0h0M857.8 712.8h0M859.1 685.2h0M860.5 701.2h0M861.8 700.9h0M863.2 727.5h0M864.5 722.5h0M865.9 711.2h0M867.2 700.3h0M868.6 680.8h0M869.9 718.2h0M871.3 700.3h0M872.6 706.9h0M874.0 700.6h0M875.3 697.2h0M876.7 714.0h0M878.0 708.3h0M879.4 706.5h0M880.7 680.8h0M882.1 701.4h0M883.4 681.3h0M884.8 707.6h0M886.1 699.8h0M887.5 696.8h0M888.8 711.7h0M890.2 710.2h0M891.5 728.9h0M892.9 746.1h0M894.2 712.2h0M895.6 710.5h0M896.9 717.7h0M898.3 726.5h0M899.7 718.2h0M901.0 728.8h0M902.4 737.0h0M903.7 738.3h0M905.1 753.2h0M906.4 743.1h0M907.8 693.5h0M909.1 735.3h0M910.5 736.1h0M911.8 754.0h0M913.2 713.0h0M914.5 743.1h0M915.9 760.4h0M917.2 733.3h0M918.6 746.4h0M919.9 731.0h0M921.3 731.3h0M922.6 756.8h0M924.0 728.0h0M925.3 739.7h0M926.7 727.0h0M928.0 718.9h0M929.4 739.7h0M930.7 737.5h0M932.1 731.4h0M933.4 718.0h0M934.8 730.7h0M936.1 725.9h0M937.5 714.3h0M938.8 730.4h0M940.2 696.3h0M941.5 697.6h0M942.9 706.9h0M944.2 713.3h0M945.6 712.3h0M946.9 704.2h0M948.3 697.3h0M949.6 695.8h0M951.0 693.5h0M952.3 725.2h0M953.7 712.1h0M955.0 690.0h0M956.4 691.8h0M957.8 703.5h0M959.1 709.7h0M960.5 687.0h0M961.8 706.7h0M963.2 701.2h0M964.5 666.6h0M965.9 682.1h0M967.2 681.6h0M968.6 685.0h0M969.9 699.3h0M971.3 693.2h0M972.6 690.4h0M974.0 665.3h0M975.3 679.3h0M976.7 676.4h0M978.0 678.1h0M979.4 702.6h0M980.7 682.6h0M982.1 690.4h0M983.4 686.2h0M984.8 696.5h0M986.1 678.5h0M987.5 699.6h0M988.8 695.7h0M990.2 678.6h0M991.5 693.5h0M992.9 690.2h0M994.2 693.7h0M995.6 696.7h0M996.9 698.1h0M998.3 717.3h0M999.6 682.9h0M1001.0 682.1h0M1002.3 705.9h0M1003.7 700.4h0M1005.0 678.7h0M1006.4 706.6h0M1007.7 687.6h0M1009.1 697.3h0M1010.4 676.6h0M1011.8 693.0h0M1013.2 684.7h0M1014.5 683.9h0M1015.9 700.4h0M1017.2 698.4h0M1018.6 685.3h0M1019.9 709.2h0M1021.3 686.0h0M1022.6 690.7h0M1024.0 692.0h0M1025.3 683.3h0M1026.7 687.0h0M1028.0 680.5h0M1029.4 685.7h0M1030.7 678.6h0M1032.1 695.6h0M1033.4 689.6h0M1034.8 682.9h0M1036.1 793.7h0M1037.5 790.9h0M1038.8 798.6h0M1040.2 798.3h0M1041.5 791.6h0M1042.9 825.0h0M1044.2 804.8h0M1045.6 804.1h0M1046.9 786.6h0M1048.3 790.1h0M1049.6 781.2h0M1051.0 801.6h0M1052.3 804.1h0M1053.7 811.9h0M1055.0 794.3h0M1056.4 784.4h0M1057.7 780.6h0M1059.1 777.7h0M1060.4 790.7h0M1061.8 769.6h0M1063.1 786.9h0M1064.5 776.5h0M1065.8 774.1h0M1067.2 776.9h0M1068.5 764.5h0M1069.9 758.6h0M1071.3 760.1h0M1072.6 773.4h0M1074.0 794.7h0M1075.3 766.6h0M1076.7 760.6h0M1078.0 777.0h0M1079.4 752.5h0M1080.7 760.7h0M1082.1 771.7h0M1083.4 757.0h0M1084.8 761.4h0M1086.1 749.2h0M1087.5 756.7h0M1088.8 743.8h0M1090.2 749.9h0M1091.5 747.5h0M1092.9 742.6h0M1094.2 758.2h0M1095.6 759.5h0M1096.9 750.8h0M1098.3 738.2h0M1099.6 746.1h0M1101.0 752.3h0M1102.3 749.9h0M1103.7 743.0h0M1105.0 746.3h0M1106.4 718.1h0M1107.7 732.7h0M1109.1 743.5h0M1110.4 724.1h0M1111.8 731.7h0M1113.1 729.3h0M1114.5 742.0h0M1115.8 738.7h0M1117.2 760.3h0M1118.5 738.8h0M1119.9 736.7h0M1121.2 726.5h0M1122.6 716.2h0M1123.9 758.2h0M1125.3 699.0h0M1126.7 715.2h0M1128.0 706.3h0M1129.4 700.9h0M1130.7 707.0h0M1132.1 730.6h0M1133.4 701.2h0M1134.8 727.1h0M1136.1 697.9h0M1137.5 702.5h0M1138.8 721.4h0M1140.2 728.5h0M1141.5 699.3h0M1142.9 695.1h0M1144.2 710.7h0M1145.6 697.6h0M1146.9 722.4h0M1148.3 695.2h0M1149.6 698.4h0M1151.0 708.8h0M1152.3 707.3h0M1153.7 728.7h0M1155.0 714.4h0M1156.4 668.2h0M1157.7 710.8h0M1159.1 706.3h0M1160.4 715.0h0M1161.8 687.9h0M1163.1 699.7h0M1164.5 740.5h0M1165.8 701.7h0M1167.2 709.1h0M1168.5 683.0h0M1169.9 703.4h0M1171.2 692.2h0M1172.6 699.0h0M1173.9 732.0h0M1175.3 701.0h0M1176.6 699.7h0M1178.0 713.7h0M1179.3 708.0h0M1180.7 714.7h0M1182.0 715.6h0M1183.4 661.5h0M1184.8 699.1h0M1186.1 700.5h0M1187.5 711.3h0M1188.8 685.7h0M1190.2 723.4h0M1191.5 684.2h0M1192.9 702.6h0M1194.2 702.8h0M1195.6 703.5h0M1196.9 709.5h0M1198.3 721.7h0M1199.6 715.9h0M1201.0 711.8h0M1202.3 717.8h0M1203.7 718.7h0M1205.0 683.9h0M1206.4 705.2h0M1207.7 693.3h0M1209.1 720.6h0M1210.4 713.3h0M1211.8 736.1h0M1213.1 701.7h0M1214.5 703.9h0M1215.8 725.4h0M1217.2 724.9h0M1218.5 702.9h0M1219.9 748.0h0M1221.2 744.6h0M1222.6 702.7h0M1223.9 687.2h0M1225.3 752.6h0M1226.6 735.0h0M1228.0 735.4h0M1229.3 749.4h0M1230.7 715.6h0M1232.0 714.4h0M1233.4 721.2h0M1234.7 703.9h0M1236.1 698.5h0M1237.4 736.9h0M1238.8 694.6h0M1240.2 727.9h0M1241.5 716.3h0M1242.9 731.7h0M1244.2 707.5h0M1245.6 688.3h0M1246.9 717.6h0M1248.3 697.9h0M1249.6 699.5h0M1251.0 684.1h0M1252.3 681.8h0M1253.7 705.6h0M1255.0 683.4h0M1256.4 721.1h0M1257.7 645.5h0M1259.1 641.8h0M1260.4 707.6h0M1261.8 697.6h0M1263.1 693.5h0M1036.0 729.4h0M1036.4 713.7h0M1035.9 699.0h0M1035.7 738.4h0M1035.7 748.1h0" stroke="#2418f4" stroke-width="2.60" stroke-linecap="round" fill="none"/>
<path d="M808.3 707.2h0M809.4 716.4h0M810.5 720.4h0M811.6 663.3h0M812.7 716.7h0M813.7 703.3h0M814.8 714.6h0M815.9 725.2h0M817.0 733.6h0M818.1 720.0h0M819.1 737.6h0M820.2 711.3h0M821.3 724.9h0M822.4 726.5h0M823.5 692.0h0M824.6 722.2h0M825.6 674.5h0M826.7 756.8h0M827.8 699.6h0M828.9 694.6h0M830.0 735.5h0M831.0 729.1h0M832.1 714.0h0M833.2 727.8h0M834.3 691.9h0M835.4 716.6h0M836.5 688.7h0M837.5 749.3h0M838.6 724.9h0M839.7 715.9h0M840.8 729.4h0M841.9 737.1h0M842.9 782.6h0M844.0 722.1h0M845.1 723.5h0M846.2 708.9h0M847.3 731.0h0M848.4 796.8h0M849.4 728.5h0M850.5 766.0h0M851.6 710.7h0M852.7 722.0h0M853.8 735.5h0M854.8 724.5h0M855.9 733.3h0M857.0 724.7h0M858.1 724.1h0M859.2 738.6h0M860.3 717.8h0M861.3 723.0h0M862.4 717.6h0M863.5 733.0h0M864.6 743.4h0M865.7 747.7h0M866.8 724.0h0M867.8 710.7h0M868.9 721.9h0M870.0 715.6h0M871.1 739.1h0M872.2 735.5h0M873.2 735.1h0M874.3 708.6h0M875.4 718.3h0M876.5 725.8h0M877.6 701.8h0M878.7 728.4h0M879.7 735.2h0M880.8 711.8h0M881.9 715.5h0M883.0 749.6h0M884.1 716.8h0M885.1 722.8h0M886.2 761.1h0M887.3 732.4h0M888.4 700.6h0M889.5 729.4h0M890.6 710.6h0M891.6 721.2h0M892.7 721.5h0M893.8 728.5h0M894.9 708.1h0M896.0 738.6h0M897.0 687.3h0M898.1 716.2h0M899.2 716.2h0M900.3 725.4h0M901.4 723.5h0M902.5 765.1h0M903.5 713.7h0M904.6 697.0h0M905.7 724.5h0M906.8 705.7h0M907.9 715.4h0M908.9 714.4h0M910.0 761.3h0M911.1 713.0h0M912.2 713.3h0M913.3 701.9h0M914.4 725.3h0M915.4 684.9h0M916.5 731.5h0M917.6 730.2h0M918.7 698.6h0M919.8 717.7h0M920.8 711.0h0M921.9 709.3h0M923.0 717.5h0M924.1 731.2h0M925.2 700.0h0M926.3 694.0h0M927.3 740.9h0M928.4 754.7h0M929.5 718.5h0M930.6 709.3h0M931.7 715.2h0M932.8 702.0h0M933.8 728.1h0M934.9 726.6h0M936.0 692.6h0M937.1 722.4h0M938.2 709.9h0M939.2 700.5h0M940.3 708.7h0M941.4 710.4h0M942.5 700.5h0M943.6 725.5h0M944.7 702.7h0M945.7 717.1h0M946.8 702.2h0M947.9 710.6h0M949.0 706.7h0M950.1 699.8h0M951.1 713.4h0M952.2 706.6h0M953.3 709.5h0M954.4 705.2h0M955.5 695.1h0M956.6 704.5h0M957.6 707.5h0M958.7 700.4h0M959.8 691.5h0M960.9 699.4h0M962.0 686.7h0M963.0 702.3h0M964.1 687.6h0M965.2 675.0h0M966.3 700.9h0M967.4 699.4h0M968.5 681.7h0M969.5 696.2h0M970.6 685.5h0M971.7 696.7h0M972.8 690.7h0M973.9 687.4h0M974.9 688.2h0M976.0 684.9h0M977.1 693.0h0M978.2 682.7h0M979.3 688.1h0M980.4 702.4h0M981.4 682.5h0M982.5 672.3h0M983.6 688.0h0M984.7 682.6h0M985.8 698.1h0M986.8 670.3h0M987.9 678.0h0M989.0 706.1h0M990.1 686.4h0M991.2 692.2h0M992.3 691.9h0M993.3 689.2h0M994.4 684.7h0M995.5 676.2h0M996.6 682.5h0M997.7 662.6h0M998.8 679.5h0M999.8 696.4h0M1000.9 677.4h0M1002.0 676.8h0M1003.1 661.5h0M1004.2 672.8h0M1005.2 656.2h0M1006.3 679.1h0M1007.4 678.1h0M1008.5 678.4h0M1009.6 685.7h0M1010.7 680.7h0M1011.7 680.0h0M1012.8 676.7h0M1013.9 672.2h0M1015.0 677.0h0M1016.1 668.4h0M1017.1 660.3h0M1018.2 667.2h0M1019.3 671.0h0M1020.4 682.3h0M1021.5 684.1h0M1022.6 674.8h0M1023.6 692.0h0M1024.7 687.4h0M1025.8 679.9h0M1026.9 675.1h0M1028.0 683.0h0M1029.0 689.3h0M1030.1 688.7h0M1031.2 675.0h0M1032.3 688.1h0M1033.4 672.6h0M1034.5 676.0h0M1035.5 704.0h0M1036.6 844.7h0M1037.7 836.1h0M1038.8 820.7h0M1039.9 841.4h0M1040.9 858.9h0M1042.0 866.5h0M1043.1 843.7h0M1044.2 847.6h0M1045.3 847.2h0M1046.4 811.6h0M1047.4 826.1h0M1048.5 841.6h0M1049.6 817.9h0M1050.7 840.4h0M1051.8 831.8h0M1052.8 827.9h0M1053.9 824.6h0M1055.0 820.0h0M1056.1 825.8h0M1057.2 810.6h0M1058.3 817.9h0M1059.3 810.7h0M1060.4 825.3h0M1061.5 813.6h0M1062.6 812.2h0M1063.7 791.2h0M1064.8 803.4h0M1065.8 790.8h0M1066.9 796.5h0M1068.0 781.8h0M1069.1 802.4h0M1070.2 772.2h0M1071.2 755.2h0M1072.3 779.0h0M1073.4 773.3h0M1074.5 795.2h0M1075.6 768.6h0M1076.7 776.2h0M1077.7 765.6h0M1078.8 769.7h0M1079.9 759.3h0M1081.0 759.5h0M1082.1 759.5h0M1083.1 764.9h0M1084.2 750.3h0M1085.3 756.2h0M1086.4 733.0h0M1087.5 744.5h0M1088.6 755.5h0M1089.6 736.4h0M1090.7 750.1h0M1091.8 747.5h0M1092.9 749.4h0M1094.0 744.5h0M1095.0 752.5h0M1096.1 746.2h0M1097.2 729.1h0M1098.3 730.7h0M1099.4 743.8h0M1100.5 740.2h0M1101.5 749.3h0M1102.6 737.6h0M1103.7 732.6h0M1104.8 744.2h0M1105.9 749.2h0M1106.9 733.6h0M1108.0 742.4h0M1109.1 723.0h0M1110.2 725.8h0M1111.3 737.4h0M1112.4 739.1h0M1113.4 713.2h0M1114.5 721.9h0M1115.6 736.7h0M1116.7 720.8h0M1117.8 739.3h0M1118.8 718.7h0M1119.9 724.9h0M1121.0 720.7h0M1122.1 697.1h0M1123.2 701.4h0M1124.3 728.9h0M1125.3 718.6h0M1126.4 697.1h0M1127.5 708.0h0M1128.6 733.8h0M1129.7 728.4h0M1130.7 727.5h0M1131.8 722.9h0M1132.9 717.4h0M1134.0 745.2h0M1135.1 729.1h0M1136.2 734.0h0M1137.2 715.4h0M1138.3 707.1h0M1139.4 728.0h0M1140.5 719.2h0M1141.6 721.3h0M1142.7 703.2h0M1143.7 715.2h0M1144.8 715.0h0M1145.9 718.6h0M1147.0 697.7h0M1148.1 705.6h0M1149.1 718.5h0M1150.2 719.0h0M1151.3 708.3h0M1152.4 727.8h0M1153.5 735.1h0M1154.6 717.7h0M1155.6 748.1h0M1156.7 683.4h0M1157.8 722.1h0M1158.9 708.0h0M1160.0 755.0h0M1161.0 734.1h0M1162.1 725.7h0M1163.2 727.1h0M1164.3 699.1h0M1165.4 712.7h0M1166.5 706.1h0M1167.5 705.5h0M1168.6 715.6h0M1169.7 726.2h0M1170.8 722.2h0M1171.9 716.5h0M1172.9 709.5h0M1174.0 680.8h0M1175.1 712.8h0M1176.2 707.2h0M1177.3 687.5h0M1178.4 697.6h0M1179.4 717.7h0M1180.5 717.8h0M1181.6 715.4h0M1182.7 697.6h0M1183.8 683.5h0M1184.8 700.7h0M1185.9 719.6h0M1187.0 704.7h0M1188.1 678.9h0M1189.2 770.9h0M1190.3 716.5h0M1191.3 712.9h0M1192.4 749.5h0M1193.5 706.2h0M1194.6 705.9h0M1195.7 721.1h0M1196.7 707.7h0M1197.8 709.9h0M1198.9 707.9h0M1200.0 691.8h0M1201.1 719.9h0M1202.2 714.1h0M1203.2 772.8h0M1204.3 694.1h0M1205.4 686.3h0M1206.5 708.5h0M1207.6 705.5h0M1208.7 712.7h0M1209.7 688.3h0M1210.8 701.1h0M1211.9 695.4h0M1213.0 675.0h0M1214.1 714.9h0M1215.1 710.3h0M1216.2 690.5h0M1217.3 709.4h0M1218.4 702.4h0M1219.5 694.2h0M1220.6 688.4h0M1221.6 733.0h0M1222.7 712.9h0M1223.8 701.7h0M1224.9 708.6h0M1226.0 705.3h0M1227.0 691.2h0M1228.1 729.6h0M1229.2 698.8h0M1230.3 693.8h0M1231.4 739.8h0M1232.5 678.5h0M1233.5 718.9h0M1234.6 695.1h0M1235.7 695.6h0M1236.8 722.1h0M1237.9 684.4h0M1238.9 730.6h0M1240.0 718.0h0M1241.1 695.7h0M1242.2 658.1h0M1243.3 681.6h0M1244.4 710.8h0M1245.4 746.1h0M1246.5 726.3h0M1247.6 702.9h0M1248.7 700.5h0M1249.8 695.3h0M1250.8 723.8h0M1251.9 668.4h0M1253.0 677.0h0M1254.1 709.5h0M1255.2 723.1h0M1256.3 657.5h0M1257.3 738.1h0M1258.4 698.5h0M1259.5 674.2h0M1260.6 700.1h0M1261.7 677.0h0M1262.7 714.5h0M1035.4 782.1h0M1035.9 772.8h0M1035.5 714.1h0M1035.4 737.1h0M1035.7 717.3h0" stroke="#4a2aa8" stroke-width="2.60" stroke-linecap="round" fill="none"/>
<path d="M808.6 710.4h0M809.7 732.1h0M810.9 723.7h0M812.0 730.0h0M813.2 737.8h0M814.3 722.0h0M815.4 693.1h0M816.6 769.2h0M817.7 721.6h0M818.8 733.6h0M820.0 762.3h0M821.1 709.8h0M822.3 726.4h0M823.4 712.7h0M824.5 683.6h0M825.7 728.5h0M826.8 700.8h0M827.9 745.3h0M829.1 695.3h0M830.2 712.9h0M831.3 745.7h0M832.5 709.8h0M833.6 721.3h0M834.8 739.9h0M835.9 749.1h0M837.0 732.9h0M838.2 734.8h0M839.3 729.4h0M840.4 713.4h0M841.6 761.5h0M842.7 717.0h0M843.9 728.1h0M845.0 704.8h0M846.1 718.8h0M847.3 715.7h0M848.4 728.2h0M849.5 760.8h0M850.7 723.6h0M851.8 754.7h0M853.0 703.4h0M854.1 735.3h0M855.2 702.9h0M856.4 746.2h0M857.5 768.6h0M858.6 707.5h0M859.8 721.6h0M860.9 742.8h0M862.1 733.3h0M863.2 719.7h0M864.3 736.6h0M865.5 743.2h0M866.6 748.1h0M867.7 732.8h0M868.9 724.7h0M870.0 743.0h0M871.2 730.2h0M872.3 715.1h0M873.4 704.4h0M874.6 748.4h0M875.7 721.6h0M876.8 734.6h0M878.0 754.1h0M879.1 755.3h0M880.2 753.8h0M881.4 743.7h0M882.5 746.7h0M883.7 722.6h0M884.8 742.9h0M885.9 728.6h0M887.1 713.5h0M888.2 734.6h0M889.3 727.1h0M890.5 745.9h0M891.6 707.1h0M892.8 778.6h0M893.9 752.1h0M895.0 749.0h0M896.2 747.0h0M897.3 754.0h0M898.4 706.1h0M899.6 713.0h0M900.7 714.5h0M901.9 739.2h0M903.0 719.2h0M904.1 718.7h0M905.3 734.3h0M906.4 707.0h0M907.5 720.8h0M908.7 723.9h0M909.8 737.9h0M911.0 720.0h0M912.1 721.3h0M913.2 719.5h0M914.4 721.4h0M915.5 740.6h0M916.6 722.7h0M917.8 719.5h0M918.9 716.4h0M920.0 731.6h0M921.2 716.9h0M922.3 713.8h0M923.5 712.0h0M924.6 731.6h0M925.7 708.7h0M926.9 715.4h0M928.0 724.2h0M929.1 740.7h0M930.3 711.6h0M931.4 715.0h0M932.6 695.8h0M933.7 722.8h0M934.8 703.0h0M936.0 705.0h0M937.1 698.8h0M938.2 716.5h0M939.4 703.2h0M940.5 734.0h0M941.7 705.8h0M942.8 706.4h0M943.9 690.4h0M945.1 712.1h0M946.2 696.9h0M947.3 716.5h0M948.5 705.4h0M949.6 679.7h0M950.8 680.6h0M951.9 682.9h0M953.0 690.3h0M954.2 683.2h0M955.3 687.7h0M956.4 700.5h0M957.6 673.7h0M958.7 665.1h0M959.9 682.1h0M961.0 692.1h0M962.1 689.8h0M963.3 686.0h0M964.4 688.9h0M965.5 703.9h0M966.7 689.0h0M967.8 708.6h0M968.9 699.5h0M970.1 701.3h0M971.2 678.1h0M972.4 700.4h0M973.5 691.8h0M974.6 688.3h0M975.8 694.0h0M976.9 678.4h0M978.0 680.1h0M979.2 699.1h0M980.3 678.3h0M981.5 701.6h0M982.6 703.6h0M983.7 702.2h0M984.9 707.5h0M986.0 685.6h0M987.1 702.0h0M988.3 694.6h0M989.4 683.2h0M990.6 680.4h0M991.7 690.7h0M992.8 678.2h0M994.0 676.4h0M995.1 690.2h0M996.2 681.1h0M997.4 669.4h0M998.5 692.1h0M999.7 674.1h0M1000.8 679.3h0M1001.9 670.0h0M1003.1 676.0h0M1004.2 681.9h0M1005.3 671.4h0M1006.5 671.8h0M1007.6 683.5h0M1008.7 685.5h0M1009.9 670.9h0M1011.0 698.7h0M1012.2 677.2h0M1013.3 667.7h0M1014.4 683.3h0M1015.6 665.6h0M1016.7 674.4h0M1017.8 682.5h0M1019.0 682.2h0M1020.1 684.7h0M1021.3 678.2h0M1022.4 699.5h0M1023.5 670.0h0M1024.7 678.7h0M1025.8 689.5h0M1026.9 685.9h0M1028.1 691.4h0M1029.2 683.3h0M1030.4 683.5h0M1031.5 683.4h0M1032.6 691.5h0M1033.8 699.8h0M1034.9 691.1h0M1036.0 784.8h0M1037.2 791.1h0M1038.3 805.7h0M1039.5 800.3h0M1040.6 789.9h0M1041.7 801.4h0M1042.9 785.6h0M1044.0 828.4h0M1045.1 818.6h0M1046.3 811.8h0M1047.4 810.1h0M1048.6 820.9h0M1049.7 805.0h0M1050.8 818.0h0M1052.0 793.1h0M1053.1 812.2h0M1054.2 804.6h0M1055.4 816.4h0M1056.5 809.0h0M1057.6 827.2h0M1058.8 801.1h0M1059.9 799.6h0M1061.1 797.6h0M1062.2 794.9h0M1063.3 795.3h0M1064.5 779.4h0M1065.6 780.4h0M1066.7 766.2h0M1067.9 790.2h0M1069.0 799.3h0M1070.2 783.9h0M1071.3 776.3h0M1072.4 794.5h0M1073.6 781.4h0M1074.7 758.7h0M1075.8 762.1h0M1077.0 776.0h0M1078.1 772.9h0M1079.3 761.7h0M1080.4 774.9h0M1081.5 766.8h0M1082.7 749.0h0M1083.8 766.2h0M1084.9 765.9h0M1086.1 746.4h0M1087.2 753.5h0M1088.4 769.8h0M1089.5 743.0h0M1090.6 752.3h0M1091.8 749.4h0M1092.9 745.2h0M1094.0 739.6h0M1095.2 745.6h0M1096.3 749.0h0M1097.4 741.2h0M1098.6 748.8h0M1099.7 734.4h0M1100.9 737.9h0M1102.0 742.1h0M1103.1 735.5h0M1104.3 731.1h0M1105.4 737.1h0M1106.5 728.0h0M1107.7 741.5h0M1108.8 754.2h0M1110.0 724.5h0M1111.1 753.8h0M1112.2 745.0h0M1113.4 713.6h0M1114.5 727.2h0M1115.6 709.2h0M1116.8 726.5h0M1117.9 700.6h0M1119.1 724.1h0M1120.2 717.5h0M1121.3 720.4h0M1122.5 730.7h0M1123.6 716.8h0M1124.7 728.3h0M1125.9 695.8h0M1127.0 707.3h0M1128.2 724.0h0M1129.3 707.5h0M1130.4 704.0h0M1131.6 718.0h0M1132.7 734.3h0M1133.8 721.3h0M1135.0 712.9h0M1136.1 705.1h0M1137.3 715.0h0M1138.4 693.7h0M1139.5 688.4h0M1140.7 692.0h0M1141.8 679.4h0M1142.9 708.9h0M1144.1 699.8h0M1145.2 707.0h0M1146.3 716.5h0M1147.5 695.0h0M1148.6 704.5h0M1149.8 700.1h0M1150.9 712.7h0M1152.0 707.9h0M1153.2 715.8h0M1154.3 684.1h0M1155.4 717.1h0M1156.6 708.5h0M1157.7 704.4h0M1158.9 716.3h0M1160.0 687.7h0M1161.1 721.4h0M1162.3 668.7h0M1163.4 702.2h0M1164.5 682.9h0M1165.7 702.8h0M1166.8 707.9h0M1168.0 676.1h0M1169.1 719.0h0M1170.2 680.9h0M1171.4 715.7h0M1172.5 699.1h0M1173.6 707.9h0M1174.8 718.0h0M1175.9 702.9h0M1177.1 708.4h0M1178.2 744.8h0M1179.3 717.6h0M1180.5 714.3h0M1181.6 683.7h0M1182.7 698.6h0M1183.9 717.9h0M1185.0 707.2h0M1186.1 678.1h0M1187.3 729.1h0M1188.4 706.9h0M1189.6 680.3h0M1190.7 730.9h0M1191.8 697.6h0M1193.0 711.0h0M1194.1 705.2h0M1195.2 690.2h0M1196.4 698.0h0M1197.5 678.6h0M1198.7 766.0h0M1199.8 728.1h0M1200.9 714.5h0M1202.1 723.3h0M1203.2 693.1h0M1204.3 697.0h0M1205.5 724.1h0M1206.6 722.3h0M1207.8 711.1h0M1208.9 706.2h0M1210.0 712.1h0M1211.2 710.2h0M1212.3 701.3h0M1213.4 699.1h0M1214.6 742.8h0M1215.7 710.7h0M1216.9 694.9h0M1218.0 703.3h0M1219.1 733.0h0M1220.3 729.0h0M1221.4 696.1h0M1222.5 725.3h0M1223.7 724.9h0M1224.8 717.5h0M1226.0 692.6h0M1227.1 709.6h0M1228.2 712.3h0M1229.4 700.6h0M1230.5 716.7h0M1231.6 714.7h0M1232.8 741.2h0M1233.9 779.4h0M1235.0 709.1h0M1236.2 761.7h0M1237.3 735.4h0M1238.5 741.9h0M1239.6 706.8h0M1240.7 674.6h0M1241.9 720.7h0M1243.0 700.5h0M1244.1 712.8h0M1245.3 688.3h0M1246.4 704.6h0M1247.6 720.5h0M1248.7 729.8h0M1249.8 749.3h0M1251.0 680.8h0M1252.1 736.7h0M1253.2 700.1h0M1254.4 719.2h0M1255.5 734.9h0M1256.7 670.6h0M1257.8 698.4h0M1258.9 731.2h0M1260.1 698.5h0M1261.2 705.1h0M1262.3 699.2h0M1263.5 682.1h0M1035.9 705.3h0M1035.9 711.2h0M1035.6 710.9h0M1035.2 696.5h0M1035.4 775.5h0" stroke="#1a14ff" stroke-width="2.60" stroke-linecap="round" fill="none"/>
<path d="M808.3 730.1h0M809.7 713.6h0M811.0 684.6h0M812.4 750.4h0M813.7 696.2h0M815.1 737.0h0M816.4 727.6h0M817.8 697.6h0M819.1 718.7h0M820.4 734.3h0M821.8 724.9h0M823.1 727.5h0M824.5 725.7h0M825.8 697.3h0M827.2 736.9h0M828.5 722.7h0M829.9 744.7h0M831.2 727.6h0M832.6 700.5h0M833.9 719.7h0M835.3 717.9h0M836.6 685.6h0M838.0 700.4h0M839.3 697.9h0M840.7 679.1h0M842.0 692.9h0M843.4 708.0h0M844.7 703.9h0M846.1 696.8h0M847.4 714.4h0M848.8 752.2h0M850.1 702.2h0M851.5 708.0h0M852.8 697.3h0M854.2 744.7h0M855.5 722.9h0M856.9 730.0h0M858.2 734.8h0M859.6 716.2h0M860.9 705.3h0M862.3 736.5h0M863.6 689.0h0M865.0 701.0h0M866.3 705.5h0M867.7 719.6h0M869.0 726.0h0M870.4 690.1h0M871.7 735.6h0M873.1 709.9h0M874.4 692.3h0M875.8 719.8h0M877.1 782.3h0M878.5 692.8h0M879.8 733.3h0M881.2 730.1h0M882.5 763.9h0M883.9 695.8h0M885.2 716.1h0M886.6 755.7h0M887.9 729.1h0M889.3 764.4h0M890.6 725.6h0M892.0 728.6h0M893.3 754.6h0M894.7 718.7h0M896.0 747.2h0M897.4 750.3h0M898.7 717.9h0M900.1 727.4h0M901.4 715.2h0M902.8 742.9h0M904.1 732.5h0M905.5 716.1h0M906.8 705.3h0M908.2 705.8h0M909.5 718.1h0M910.9 722.9h0M912.2 722.0h0M913.6 756.0h0M914.9 710.6h0M916.3 730.6h0M917.6 723.9h0M918.9 718.3h0M920.3 725.9h0M921.6 697.0h0M923.0 662.1h0M924.3 723.1h0M925.7 702.6h0M927.0 694.1h0M928.4 691.2h0M929.7 698.7h0M931.1 748.9h0M932.4 675.8h0M933.8 705.7h0M935.1 685.1h0M936.5 686.8h0M937.8 695.2h0M939.2 688.0h0M940.5 724.3h0M941.9 693.1h0M943.2 684.7h0M944.6 680.0h0M945.9 656.7h0M947.3 689.0h0M948.6 682.9h0M950.0 700.7h0M951.3 679.0h0M952.7 669.5h0M954.0 673.3h0M955.4 685.8h0M956.7 669.1h0M958.1 691.9h0M959.4 660.4h0M960.8 670.1h0M962.1 688.7h0M963.5 691.7h0M964.8 663.9h0M966.2 653.3h0M967.5 667.5h0M968.9 691.0h0M970.2 666.7h0M971.6 687.7h0M972.9 678.9h0M974.3 668.5h0M975.6 690.0h0M977.0 684.8h0M978.3 681.9h0M979.7 695.0h0M981.0 687.6h0M982.4 684.8h0M983.7 672.6h0M985.1 688.4h0M986.4 679.8h0M987.8 665.6h0M989.1 694.1h0M990.5 686.3h0M991.8 675.9h0M993.2 676.6h0M994.5 681.5h0M995.9 678.6h0M997.2 701.2h0M998.6 676.6h0M999.9 673.3h0M1001.3 663.2h0M1002.6 672.6h0M1004.0 671.0h0M1005.3 691.1h0M1006.7 679.4h0M1008.0 667.3h0M1009.4 661.7h0M1010.7 678.9h0M1012.1 662.4h0M1013.4 667.3h0M1014.8 687.8h0M1016.1 673.0h0M1017.4 679.7h0M1018.8 672.4h0M1020.1 656.0h0M1021.5 686.2h0M1022.8 673.6h0M1024.2 655.8h0M1025.5 668.9h0M1026.9 672.6h0M1028.2 677.2h0M1029.6 679.1h0M1030.9 655.3h0M1032.3 677.3h0M1033.6 695.4h0M1035.0 657.9h0M1036.3 878.3h0M1037.7 859.1h0M1039.0 861.9h0M1040.4 851.6h0M1041.7 844.5h0M1043.1 855.4h0M1045.8 862.9h0M1047.1 869.1h0M1048.5 837.9h0M1049.8 851.8h0M1051.2 835.8h0M1052.5 833.4h0M1053.9 844.4h0M1055.2 845.7h0M1056.6 836.1h0M1057.9 853.7h0M1059.3 824.0h0M1060.6 828.9h0M1062.0 817.2h0M1063.3 847.1h0M1064.7 816.3h0M1066.0 814.2h0M1067.4 799.0h0M1068.7 799.4h0M1070.1 793.9h0M1071.4 801.9h0M1072.8 814.1h0M1074.1 778.0h0M1075.5 798.0h0M1076.8 801.2h0M1078.2 783.4h0M1079.5 803.7h0M1080.9 793.2h0M1082.2 785.6h0M1083.6 797.5h0M1084.9 791.5h0M1086.3 774.7h0M1087.6 772.7h0M1089.0 776.4h0M1090.3 760.4h0M1091.7 763.2h0M1093.0 775.6h0M1094.4 771.1h0M1095.7 789.3h0M1097.1 769.9h0M1098.4 761.9h0M1099.8 784.3h0M1101.1 768.7h0M1102.5 785.4h0M1103.8 718.0h0M1105.2 760.4h0M1106.5 754.4h0M1107.9 754.9h0M1109.2 768.8h0M1110.6 738.4h0M1111.9 752.9h0M1113.3 750.0h0M1114.6 733.2h0M1115.9 725.7h0M1117.3 726.4h0M1118.6 742.9h0M1120.0 758.8h0M1121.3 717.1h0M1122.7 736.1h0M1124.0 732.3h0M1125.4 721.0h0M1126.7 725.3h0M1128.1 710.8h0M1129.4 689.7h0M1130.8 695.5h0M1132.1 744.8h0M1133.5 728.4h0M1134.8 678.2h0M1136.2 706.1h0M1137.5 713.2h0M1138.9 724.5h0M1140.2 724.6h0M1141.6 766.4h0M1142.9 717.7h0M1144.3 719.1h0M1145.6 704.8h0M1147.0 710.1h0M1148.3 721.3h0M1149.7 696.8h0M1151.0 685.7h0M1152.4 699.0h0M1153.7 690.1h0M1155.1 706.0h0M1156.4 698.9h0M1157.8 695.8h0M1159.1 720.8h0M1160.5 672.9h0M1161.8 720.4h0M1163.2 719.8h0M1164.5 736.7h0M1165.9 704.5h0M1167.2 690.3h0M1168.6 720.9h0M1169.9 732.5h0M1171.3 712.5h0M1172.6 711.0h0M1174.0 701.9h0M1175.3 718.4h0M1176.7 710.0h0M1178.0 741.8h0M1179.4 722.3h0M1180.7 750.2h0M1182.1 678.2h0M1183.4 690.4h0M1184.8 755.1h0M1186.1 701.8h0M1187.5 712.9h0M1188.8 738.1h0M1190.2 739.3h0M1191.5 668.3h0M1192.9 742.9h0M1194.2 698.7h0M1195.6 735.3h0M1196.9 675.2h0M1198.3 720.7h0M1199.6 751.5h0M1201.0 739.0h0M1202.3 732.7h0M1203.7 718.5h0M1205.0 690.1h0M1206.4 737.6h0M1207.7 715.3h0M1209.1 721.0h0M1210.4 713.4h0M1211.8 745.2h0M1213.1 732.1h0M1214.4 719.2h0M1215.8 706.8h0M1217.1 714.9h0M1218.5 696.4h0M1219.8 719.1h0M1221.2 669.6h0M1222.5 718.4h0M1223.9 714.7h0M1225.2 729.4h0M1226.6 708.6h0M1227.9 737.8h0M1229.3 691.1h0M1230.6 690.8h0M1232.0 717.8h0M1233.3 730.1h0M1234.7 707.2h0M1236.0 686.1h0M1237.4 695.3h0M1238.7 692.3h0M1240.1 694.3h0M1241.4 679.8h0M1242.8 706.0h0M1244.1 711.9h0M1245.5 693.6h0M1246.8 690.0h0M1248.2 706.9h0M1249.5 680.2h0M1250.9 709.9h0M1252.2 693.9h0M1253.6 711.2h0M1254.9 697.0h0M1256.3 680.8h0M1257.6 704.7h0M1259.0 683.5h0M1260.3 695.6h0M1261.7 667.3h0M1263.0 716.2h0M1036.1 734.7h0M1035.8 700.6h0M1035.6 730.5h0M1035.5 777.7h0M1035.7 741.7h0" stroke="#f4a21c" stroke-width="2.60" stroke-linecap="round" fill="none"/>
<path d="M808.6 728.7h0M809.9 747.3h0M811.1 764.5h0M812.4 758.7h0M813.7 711.6h0M815.0 713.1h0M816.3 665.5h0M817.5 734.1h0M818.8 767.8h0M820.1 706.6h0M821.4 765.8h0M822.7 738.6h0M823.9 734.4h0M825.2 746.4h0M826.5 737.6h0M827.8 740.4h0M829.0 723.1h0M830.3 702.6h0M831.6 730.2h0M832.9 757.5h0M834.2 728.6h0M835.4 724.1h0M836.7 708.5h0M838.0 712.3h0M839.3 729.4h0M840.6 707.0h0M841.8 720.4h0M843.1 703.5h0M844.4 723.7h0M845.7 737.4h0M847.0 738.2h0M848.2 723.8h0M849.5 800.5h0M850.8 725.5h0M852.1 714.5h0M853.4 718.1h0M854.6 751.8h0M855.9 744.8h0M857.2 706.8h0M858.5 787.1h0M859.7 741.7h0M861.0 759.5h0M862.3 711.6h0M863.6 739.9h0M864.9 712.4h0M866.1 714.3h0M867.4 752.7h0M868.7 747.6h0M870.0 717.2h0M871.3 757.0h0M872.5 720.3h0M873.8 720.8h0M875.1 758.9h0M876.4 735.7h0M877.7 740.4h0M878.9 730.5h0M880.2 736.3h0M881.5 725.5h0M882.8 764.6h0M884.1 713.6h0M885.3 715.8h0M886.6 727.5h0M887.9 746.2h0M889.2 722.8h0M890.5 730.2h0M891.7 710.6h0M893.0 743.6h0M894.3 719.4h0M895.6 714.8h0M896.8 710.9h0M898.1 717.1h0M899.4 705.5h0M900.7 718.2h0M902.0 713.1h0M903.2 703.9h0M904.5 720.2h0M905.8 755.0h0M907.1 684.8h0M908.4 706.7h0M909.6 740.2h0M910.9 697.0h0M912.2 749.3h0M913.5 723.9h0M914.8 727.8h0M916.0 707.4h0M917.3 715.8h0M918.6 701.1h0M919.9 700.7h0M921.2 713.7h0M922.4 751.2h0M923.7 745.3h0M925.0 737.1h0M926.3 709.7h0M927.5 691.6h0M928.8 729.2h0M930.1 705.5h0M931.4 692.4h0M932.7 680.5h0M933.9 722.5h0M935.2 698.9h0M936.5 707.7h0M937.8 711.0h0M939.1 723.7h0M940.3 730.8h0M941.6 711.0h0M942.9 699.0h0M944.2 726.8h0M945.5 732.4h0M946.7 704.8h0M948.0 691.7h0M949.3 693.6h0M950.6 699.2h0M951.9 726.5h0M953.1 706.2h0M954.4 690.3h0M955.7 700.5h0M957.0 698.0h0M958.3 669.9h0M959.5 705.2h0M960.8 714.0h0M962.1 715.6h0M963.4 700.0h0M964.6 694.8h0M965.9 698.5h0M967.2 683.3h0M968.5 689.8h0M969.8 740.6h0M971.0 698.9h0M972.3 702.7h0M973.6 690.1h0M974.9 691.3h0M976.2 693.3h0M977.4 700.6h0M978.7 694.0h0M980.0 671.3h0M981.3 695.7h0M982.6 690.6h0M983.8 710.5h0M985.1 683.0h0M986.4 697.5h0M987.7 679.7h0M989.0 713.5h0M990.2 689.4h0M991.5 693.8h0M992.8 681.6h0M994.1 690.1h0M995.3 702.5h0M996.6 684.7h0M997.9 679.4h0M999.2 683.5h0M1000.5 689.6h0M1001.7 662.9h0M1003.0 677.7h0M1004.3 676.5h0M1005.6 690.3h0M1006.9 670.5h0M1008.1 666.7h0M1009.4 681.7h0M1010.7 688.5h0M1012.0 676.9h0M1013.3 685.1h0M1014.5 660.6h0M1015.8 688.9h0M1017.1 659.8h0M1018.4 683.5h0M1019.7 678.2h0M1020.9 679.1h0M1022.2 677.9h0M1023.5 677.8h0M1024.8 690.0h0M1026.1 707.0h0M1027.3 684.6h0M1028.6 697.4h0M1029.9 685.5h0M1031.2 681.7h0M1032.4 702.8h0M1033.7 685.7h0M1035.0 697.6h0M1036.3 881.2h0M1037.6 869.4h0M1038.8 865.1h0M1040.1 875.9h0M1041.4 862.8h0M1042.7 860.7h0M1044.0 862.3h0M1045.2 860.7h0M1046.5 855.6h0M1047.8 846.6h0M1049.1 858.9h0M1050.4 842.7h0M1051.6 862.3h0M1052.9 848.0h0M1054.2 810.6h0M1055.5 834.3h0M1056.8 850.2h0M1058.0 824.2h0M1059.3 820.2h0M1060.6 836.5h0M1061.9 818.4h0M1063.1 825.6h0M1064.4 808.3h0M1065.7 786.3h0M1067.0 793.0h0M1068.3 794.3h0M1069.5 799.9h0M1070.8 806.7h0M1072.1 776.6h0M1073.4 759.1h0M1074.7 793.2h0M1075.9 774.2h0M1077.2 767.0h0M1078.5 785.4h0M1079.8 768.9h0M1081.1 756.4h0M1082.3 767.2h0M1083.6 732.5h0M1084.9 775.9h0M1086.2 753.1h0M1087.5 745.3h0M1088.7 777.6h0M1090.0 728.6h0M1091.3 760.3h0M1092.6 787.4h0M1093.9 758.7h0M1095.1 747.0h0M1096.4 767.2h0M1097.7 756.9h0M1099.0 736.5h0M1100.2 742.3h0M1101.5 738.7h0M1102.8 759.9h0M1104.1 731.1h0M1105.4 719.4h0M1106.6 755.2h0M1107.9 795.2h0M1109.2 740.2h0M1110.5 729.9h0M1111.8 738.7h0M1113.0 739.2h0M1114.3 726.6h0M1115.6 735.2h0M1116.9 792.4h0M1118.2 743.1h0M1119.4 729.3h0M1120.7 710.3h0M1122.0 735.2h0M1123.3 745.5h0M1124.6 729.5h0M1125.8 740.4h0M1127.1 732.4h0M1128.4 726.9h0M1129.7 712.1h0M1130.9 718.3h0M1132.2 758.8h0M1133.5 729.5h0M1134.8 718.3h0M1136.1 722.7h0M1137.3 711.2h0M1138.6 742.6h0M1139.9 711.9h0M1141.2 678.4h0M1142.5 728.7h0M1143.7 715.2h0M1145.0 726.9h0M1146.3 718.7h0M1147.6 735.4h0M1148.9 721.6h0M1150.1 667.4h0M1151.4 713.3h0M1152.7 714.0h0M1154.0 733.5h0M1155.3 738.9h0M1156.5 716.4h0M1157.8 691.6h0M1159.1 686.8h0M1160.4 691.0h0M1161.7 716.6h0M1162.9 709.3h0M1164.2 688.1h0M1165.5 683.6h0M1166.8 715.8h0M1168.0 706.0h0M1169.3 725.8h0M1170.6 680.6h0M1171.9 709.9h0M1173.2 713.9h0M1174.4 693.8h0M1175.7 696.7h0M1177.0 686.1h0M1178.3 712.5h0M1179.6 671.0h0M1180.8 719.0h0M1182.1 699.1h0M1183.4 719.2h0M1184.7 691.7h0M1186.0 659.6h0M1187.2 707.3h0M1188.5 722.9h0M1189.8 731.3h0M1191.1 693.8h0M1192.4 727.0h0M1193.6 732.1h0M1194.9 674.4h0M1196.2 679.0h0M1197.5 728.7h0M1198.8 692.5h0M1200.0 744.8h0M1201.3 704.9h0M1202.6 719.3h0M1203.9 720.0h0M1205.1 709.5h0M1206.4 694.3h0M1207.7 687.1h0M1209.0 704.3h0M1210.3 716.8h0M1211.5 744.5h0M1212.8 713.8h0M1214.1 717.8h0M1215.4 730.5h0M1216.7 707.3h0M1217.9 711.7h0M1219.2 729.1h0M1220.5 703.4h0M1221.8 703.2h0M1223.1 655.7h0M1224.3 691.3h0M1225.6 691.2h0M1226.9 700.7h0M1228.2 680.0h0M1229.5 737.4h0M1230.7 674.5h0M1232.0 704.9h0M1233.3 705.1h0M1234.6 704.4h0M1235.8 686.7h0M1237.1 677.9h0M1238.4 700.9h0M1239.7 703.4h0M1241.0 703.3h0M1242.2 780.5h0M1243.5 683.6h0M1244.8 705.4h0M1246.1 682.4h0M1247.4 715.8h0M1248.6 682.3h0M1249.9 686.6h0M1251.2 661.6h0M1252.5 705.3h0M1253.8 707.9h0M1255.0 693.6h0M1256.3 699.6h0M1257.6 723.6h0M1258.9 691.0h0M1260.2 707.8h0M1261.4 706.1h0M1262.7 688.4h0M1035.9 701.5h0M1035.7 700.8h0M1035.8 728.8h0M1035.4 733.0h0M1035.8 736.1h0" stroke="#e08a1c" stroke-width="2.60" stroke-linecap="round" fill="none"/>
<path d="M807.9 703.0h0M809.2 730.8h0M810.6 746.6h0M811.9 718.1h0M813.3 695.7h0M814.6 722.8h0M816.0 730.8h0M817.3 731.2h0M818.7 696.1h0M820.0 725.9h0M821.3 760.6h0M822.7 746.7h0M824.0 715.9h0M825.4 753.2h0M826.7 715.4h0M828.1 730.3h0M829.4 711.4h0M830.8 743.9h0M832.1 815.7h0M833.5 737.4h0M834.8 776.7h0M836.2 757.6h0M837.5 750.0h0M838.9 705.8h0M840.2 713.2h0M841.5 741.5h0M842.9 750.6h0M844.2 723.1h0M845.6 698.7h0M846.9 747.3h0M848.3 733.4h0M849.6 717.8h0M851.0 715.1h0M852.3 699.6h0M853.7 699.9h0M855.0 732.9h0M856.4 725.9h0M857.7 727.4h0M859.0 737.6h0M860.4 734.1h0M861.7 701.8h0M863.1 653.3h0M864.4 717.6h0M865.8 705.1h0M867.1 722.6h0M868.5 762.6h0M869.8 737.4h0M871.2 724.9h0M872.5 707.8h0M873.9 730.3h0M875.2 694.3h0M876.5 688.5h0M877.9 697.5h0M879.2 745.8h0M880.6 735.9h0M881.9 684.2h0M883.3 737.1h0M884.6 732.2h0M886.0 720.3h0M887.3 703.7h0M888.7 719.5h0M890.0 725.6h0M891.4 738.1h0M892.7 723.6h0M894.0 700.0h0M895.4 718.9h0M896.7 717.7h0M898.1 697.2h0M899.4 719.6h0M900.8 717.0h0M902.1 726.7h0M903.5 731.9h0M904.8 746.5h0M906.2 712.6h0M907.5 712.0h0M908.9 696.0h0M910.2 718.7h0M911.5 720.0h0M912.9 723.8h0M914.2 727.3h0M915.6 691.9h0M916.9 730.8h0M918.3 714.6h0M919.6 718.3h0M921.0 763.2h0M922.3 717.9h0M923.7 723.7h0M925.0 711.9h0M926.4 721.5h0M927.7 732.0h0M929.1 724.8h0M930.4 716.4h0M931.7 716.6h0M933.1 700.7h0M934.4 731.8h0M935.8 723.0h0M937.1 687.8h0M938.5 726.4h0M939.8 746.7h0M941.2 686.8h0M942.5 706.7h0M943.9 699.5h0M945.2 682.3h0M946.6 707.3h0M947.9 691.0h0M949.2 719.2h0M950.6 734.2h0M951.9 663.7h0M953.3 703.7h0M954.6 713.4h0M956.0 693.9h0M957.3 711.5h0M958.7 686.0h0M960.0 704.4h0M961.4 690.5h0M962.7 677.0h0M964.1 716.4h0M965.4 686.3h0M966.7 708.7h0M968.1 692.3h0M969.4 710.9h0M970.8 684.3h0M972.1 698.2h0M973.5 714.8h0M974.8 677.2h0M976.2 686.8h0M977.5 702.5h0M978.9 685.1h0M980.2 682.4h0M981.6 684.3h0M982.9 667.9h0M984.2 657.6h0M985.6 679.6h0M986.9 671.3h0M988.3 656.0h0M989.6 660.9h0M991.0 683.4h0M992.3 658.3h0M993.7 655.4h0M995.0 666.1h0M996.4 662.0h0M997.7 667.6h0M999.1 696.5h0M1000.4 664.1h0M1001.7 702.9h0M1003.1 669.8h0M1004.4 647.0h0M1005.8 644.4h0M1007.1 657.4h0M1008.5 637.6h0M1009.8 655.9h0M1011.2 636.2h0M1012.5 656.8h0M1013.9 666.4h0M1015.2 658.9h0M1016.6 631.3h0M1017.9 636.7h0M1019.3 650.6h0M1020.6 651.9h0M1021.9 641.5h0M1023.3 644.2h0M1024.6 635.1h0M1026.0 643.9h0M1027.3 655.7h0M1028.7 653.9h0M1030.0 658.9h0M1031.4 665.5h0M1032.7 671.6h0M1034.1 664.6h0M1035.4 655.6h0M1036.8 851.5h0M1038.1 850.0h0M1039.4 841.1h0M1040.8 851.8h0M1042.1 843.3h0M1043.5 841.6h0M1044.8 850.5h0M1046.2 850.6h0M1047.5 847.6h0M1048.9 834.4h0M1050.2 842.7h0M1051.6 832.4h0M1052.9 844.6h0M1054.3 841.3h0M1055.6 834.4h0M1056.9 829.2h0M1058.3 809.2h0M1059.6 820.5h0M1061.0 814.0h0M1062.3 814.3h0M1063.7 833.6h0M1065.0 815.4h0M1066.4 803.2h0M1067.7 800.6h0M1069.1 805.6h0M1070.4 811.3h0M1071.8 790.4h0M1073.1 798.0h0M1074.4 791.7h0M1075.8 778.8h0M1077.1 808.1h0M1078.5 794.3h0M1079.8 792.4h0M1081.2 758.5h0M1082.5 786.0h0M1083.9 775.3h0M1085.2 784.6h0M1086.6 770.1h0M1087.9 767.6h0M1089.3 779.4h0M1090.6 755.2h0M1092.0 740.0h0M1093.3 791.7h0M1094.6 759.6h0M1096.0 763.8h0M1097.3 752.1h0M1098.7 754.5h0M1100.0 720.9h0M1101.4 762.5h0M1102.7 743.8h0M1104.1 744.6h0M1105.4 765.7h0M1106.8 747.8h0M1108.1 742.0h0M1109.5 759.4h0M1110.8 751.5h0M1112.1 741.6h0M1113.5 738.8h0M1114.8 734.5h0M1116.2 761.4h0M1117.5 707.8h0M1118.9 713.2h0M1120.2 732.5h0M1121.6 733.0h0M1122.9 716.6h0M1124.3 713.4h0M1125.6 733.7h0M1127.0 720.0h0M1128.3 715.0h0M1129.6 727.3h0M1131.0 721.0h0M1132.3 711.8h0M1133.7 718.8h0M1135.0 698.1h0M1136.4 697.6h0M1137.7 711.0h0M1139.1 718.0h0M1140.4 731.6h0M1141.8 704.4h0M1143.1 697.5h0M1144.5 716.1h0M1145.8 691.9h0M1147.1 739.3h0M1148.5 705.8h0M1149.8 724.9h0M1151.2 655.9h0M1152.5 681.6h0M1153.9 700.1h0M1155.2 716.3h0M1156.6 717.8h0M1157.9 707.1h0M1159.3 728.7h0M1160.6 682.5h0M1162.0 695.1h0M1163.3 672.6h0M1164.6 682.6h0M1166.0 726.9h0M1167.3 692.6h0M1168.7 682.7h0M1170.0 683.8h0M1171.4 712.0h0M1172.7 695.9h0M1174.1 688.7h0M1175.4 756.3h0M1176.8 700.7h0M1178.1 702.4h0M1179.5 696.4h0M1180.8 710.7h0M1182.2 684.4h0M1183.5 759.8h0M1184.8 681.6h0M1186.2 675.8h0M1187.5 716.8h0M1188.9 698.9h0M1190.2 711.2h0M1191.6 714.4h0M1192.9 691.9h0M1194.3 701.7h0M1195.6 653.5h0M1197.0 754.8h0M1198.3 702.5h0M1199.7 677.5h0M1201.0 694.4h0M1202.3 692.1h0M1203.7 706.5h0M1205.0 671.6h0M1206.4 705.2h0M1207.7 703.9h0M1209.1 710.9h0M1210.4 696.8h0M1211.8 708.6h0M1213.1 706.4h0M1214.5 695.7h0M1215.8 714.9h0M1217.2 757.0h0M1218.5 714.8h0M1219.8 725.6h0M1221.2 717.2h0M1222.5 744.2h0M1223.9 714.5h0M1225.2 735.0h0M1226.6 699.3h0M1227.9 717.3h0M1229.3 704.5h0M1230.6 704.0h0M1232.0 714.4h0M1233.3 717.4h0M1234.7 732.8h0M1236.0 752.5h0M1237.3 747.8h0M1238.7 724.3h0M1240.0 721.1h0M1241.4 734.1h0M1242.7 743.2h0M1244.1 691.5h0M1245.4 756.1h0M1246.8 682.9h0M1248.1 702.7h0M1249.5 709.9h0M1250.8 750.9h0M1252.2 700.5h0M1253.5 724.7h0M1254.8 691.7h0M1256.2 688.9h0M1257.5 713.1h0M1258.9 733.7h0M1260.2 712.2h0M1261.6 686.5h0M1262.9 709.8h0M1035.4 697.8h0M1036.0 718.8h0M1035.9 703.0h0M1035.7 740.2h0M1035.9 723.4h0" stroke="#5a2a78" stroke-width="2.60" stroke-linecap="round" fill="none"/>
<path d="M810.69 707.54V743.32M818.45 709.32V745.10M826.21 709.87V745.65M833.97 709.03V744.81M841.72 707.66V743.44M849.48 706.60V742.38M857.24 705.58V741.36M864.99 704.55V740.33M872.75 703.51V739.29M880.51 703.51V739.29M888.27 703.04V738.82M896.02 701.83V737.61M903.78 699.88V735.66M911.54 699.19V734.97M919.29 699.04V734.82M927.05 697.11V732.89M934.81 693.00V728.78M942.56 688.69V724.47M950.32 683.87V719.65M958.08 679.85V715.63M965.84 675.88V711.66M973.59 671.47V707.25M981.35 668.97V704.75M989.11 666.68V702.46M996.86 660.89V696.67M1004.62 656.23V692.01M1012.38 653.87V689.65M1020.14 654.30V690.08M1027.89 661.57V697.35M1035.65 695.02V783.57M1043.41 820.40V871.38M1051.16 811.74V865.41M1058.92 800.12V835.90M1066.68 779.80V815.58M1074.44 766.70V802.48M1082.19 749.61V785.39M1089.95 740.06V775.84M1097.71 731.12V766.90M1105.46 722.96V758.74M1113.22 717.30V753.08M1120.98 709.42V745.20M1128.74 704.19V739.97M1136.49 700.54V736.32M1144.25 698.81V734.59M1152.01 695.71V731.49M1159.76 693.51V729.29M1167.52 692.15V727.93M1175.28 690.79V726.57M1183.03 689.60V725.38M1190.79 689.33V725.11M1198.55 689.05V724.83M1206.31 688.78V724.56M1214.06 688.60V724.38M1221.82 688.43V724.21M1229.58 688.20V723.98M1237.33 687.86V723.64M1245.09 687.52V723.30M1252.85 686.47V722.25M1260.61 685.62V721.40" stroke="#000" stroke-width="1.45" fill="none"/>
<path d="M806.54 721.28h8.3v8.3h-8.3zM814.30 723.06h8.3v8.3h-8.3zM822.06 723.61h8.3v8.3h-8.3zM829.82 722.77h8.3v8.3h-8.3zM837.57 721.40h8.3v8.3h-8.3zM845.33 720.34h8.3v8.3h-8.3zM853.09 719.32h8.3v8.3h-8.3zM860.84 718.29h8.3v8.3h-8.3zM868.60 717.25h8.3v8.3h-8.3zM876.36 717.25h8.3v8.3h-8.3zM884.12 716.78h8.3v8.3h-8.3zM891.87 715.57h8.3v8.3h-8.3zM899.63 713.62h8.3v8.3h-8.3zM907.39 712.93h8.3v8.3h-8.3zM915.14 712.78h8.3v8.3h-8.3zM922.90 710.85h8.3v8.3h-8.3zM930.66 706.74h8.3v8.3h-8.3zM938.41 702.43h8.3v8.3h-8.3zM946.17 697.61h8.3v8.3h-8.3zM953.93 693.59h8.3v8.3h-8.3zM961.69 689.62h8.3v8.3h-8.3zM969.44 685.21h8.3v8.3h-8.3zM977.20 682.71h8.3v8.3h-8.3zM984.96 680.42h8.3v8.3h-8.3zM992.71 674.63h8.3v8.3h-8.3zM1000.47 669.97h8.3v8.3h-8.3zM1008.23 667.61h8.3v8.3h-8.3zM1015.99 668.04h8.3v8.3h-8.3zM1023.74 675.31h8.3v8.3h-8.3zM1031.50 734.70h8.3v8.3h-8.3zM1039.26 841.74h8.3v8.3h-8.3zM1047.01 834.42h8.3v8.3h-8.3zM1054.77 813.86h8.3v8.3h-8.3zM1062.53 793.54h8.3v8.3h-8.3zM1070.29 780.44h8.3v8.3h-8.3zM1078.04 763.35h8.3v8.3h-8.3zM1085.80 753.80h8.3v8.3h-8.3zM1093.56 744.86h8.3v8.3h-8.3zM1101.31 736.70h8.3v8.3h-8.3zM1109.07 731.04h8.3v8.3h-8.3zM1116.83 723.16h8.3v8.3h-8.3zM1124.59 717.93h8.3v8.3h-8.3zM1132.34 714.28h8.3v8.3h-8.3zM1140.10 712.55h8.3v8.3h-8.3zM1147.86 709.45h8.3v8.3h-8.3zM1155.61 707.25h8.3v8.3h-8.3zM1163.37 705.89h8.3v8.3h-8.3zM1171.13 704.53h8.3v8.3h-8.3zM1178.88 703.34h8.3v8.3h-8.3zM1186.64 703.07h8.3v8.3h-8.3zM1194.40 702.79h8.3v8.3h-8.3zM1202.16 702.52h8.3v8.3h-8.3zM1209.91 702.34h8.3v8.3h-8.3zM1217.67 702.17h8.3v8.3h-8.3zM1225.43 701.94h8.3v8.3h-8.3zM1233.18 701.60h8.3v8.3h-8.3zM1240.94 701.26h8.3v8.3h-8.3zM1248.70 700.21h8.3v8.3h-8.3zM1256.46 699.36h8.3v8.3h-8.3z" fill="#fff" stroke="#000" stroke-width="1.4"/>
</g>
<path d="M807.50 892.70v-13.40M921.58 892.70v-13.40M1035.65 892.70v-13.40M1149.72 892.70v-13.40M1263.80 892.70v-13.40M807.50 892.70h13.40M807.50 803.25h13.40M807.50 713.80h13.40M807.50 624.35h13.40M807.50 534.90h13.40" stroke="#000" stroke-width="2.4" fill="none"/>
<rect x="807.50" y="534.90" width="456.30" height="357.80" fill="none" stroke="#000" stroke-width="1.25"/>
<path d="M1605.44 535.00V893.10M1787.08 535.00V893.10M1423.80 765.21H1877.90M1423.80 637.31H1877.90" stroke="#b6b6b6" stroke-width="1.2" fill="none"/>
<g clip-path="url(#cF)">
<path d="M1500.42 597.41H1554.18M1527.30 581.55V613.27" stroke="#e88c14" stroke-width="1.8" fill="none"/>
<circle cx="1527.30" cy="597.41" r="11.6" fill="#fff" stroke="#e88c14" stroke-width="1.5"/>
<path d="M1553.13 603.29H1599.63M1576.38 580.79V625.80" stroke="#c86e19" stroke-width="1.8" fill="none"/>
<circle cx="1576.38" cy="603.29" r="11.6" fill="#fff" stroke="#c86e19" stroke-width="1.5"/>
<path d="M1600.54 630.41H1646.67M1623.60 568.76V692.05" stroke="#8e4a40" stroke-width="1.8" fill="none"/>
<circle cx="1623.60" cy="630.41" r="11.6" fill="#fff" stroke="#8e4a40" stroke-width="1.5"/>
<path d="M1607.80 646.78H1683.00M1645.40 614.81V678.75" stroke="#7a3c6a" stroke-width="1.8" fill="none"/>
<circle cx="1645.40" cy="646.78" r="11.6" fill="#fff" stroke="#7a3c6a" stroke-width="1.5"/>
<path d="M1634.68 646.27H1685.18M1659.93 606.62V685.91" stroke="#6a3482" stroke-width="1.8" fill="none"/>
<circle cx="1659.93" cy="646.27" r="11.6" fill="#fff" stroke="#6a3482" stroke-width="1.5"/>
<path d="M1651.21 605.60H1726.78M1688.99 551.88V659.31" stroke="#5022b0" stroke-width="1.8" fill="none"/>
<circle cx="1688.99" cy="605.60" r="11.6" fill="#fff" stroke="#5022b0" stroke-width="1.5"/>
<path d="M1732.77 691.03H1790.17M1761.47 654.45V727.61" stroke="#2000ff" stroke-width="1.8" fill="none"/>
<circle cx="1761.47" cy="691.03" r="11.6" fill="#fff" stroke="#2000ff" stroke-width="1.5"/>
<path d="M1790.89 695.12H1844.66M1817.78 654.96V735.28" stroke="#2000ff" stroke-width="1.8" fill="none"/>
<circle cx="1817.78" cy="695.12" r="11.6" fill="#fff" stroke="#2000ff" stroke-width="1.5"/>
</g>
<path d="M1423.80 893.10v-13.40M1605.44 893.10v-13.40M1787.08 893.10v-13.40M1423.80 893.10h13.40M1423.80 765.21h13.40M1423.80 637.31h13.40" stroke="#000" stroke-width="2.4" fill="none"/>
<rect x="1423.80" y="535.00" width="454.10" height="358.10" fill="none" stroke="#000" stroke-width="1.25"/>
<defs><linearGradient id="g652" x1="0" y1="1" x2="0" y2="0">
<stop offset="0.0000" stop-color="#44ff10"/>
<stop offset="0.0083" stop-color="#44fd11"/>
<stop offset="0.0167" stop-color="#44fc12"/>
<stop offset="0.0250" stop-color="#45fa12"/>
<stop offset="0.0333" stop-color="#45f813"/>
<stop offset="0.0417" stop-color="#45f714"/>
<stop offset="0.0500" stop-color="#45f515"/>
<stop offset="0.0583" stop-color="#46f316"/>
<stop offset="0.0667" stop-color="#46f216"/>
<stop offset="0.0750" stop-color="#46f017"/>
<stop offset="0.0833" stop-color="#46ee18"/>
<stop offset="0.0917" stop-color="#47ed19"/>
<stop offset="0.1000" stop-color="#47eb1a"/>
<stop offset="0.1083" stop-color="#47ea1a"/>
<stop offset="0.1167" stop-color="#47e81b"/>
<stop offset="0.1250" stop-color="#47e61c"/>
<stop offset="0.1333" stop-color="#48e51d"/>
<stop offset="0.1417" stop-color="#48e31e"/>
<stop offset="0.1500" stop-color="#49e11e"/>
<stop offset="0.1583" stop-color="#4ade1f"/>
<stop offset="0.1667" stop-color="#4bdc1f"/>
<stop offset="0.1750" stop-color="#4cd91f"/>
<stop offset="0.1833" stop-color="#4ed620"/>
<stop offset="0.1917" stop-color="#4fd420"/>
<stop offset="0.2000" stop-color="#50d121"/>
<stop offset="0.2083" stop-color="#51cf21"/>
<stop offset="0.2167" stop-color="#53cc22"/>
<stop offset="0.2250" stop-color="#54c922"/>
<stop offset="0.2333" stop-color="#55c722"/>
<stop offset="0.2417" stop-color="#56c423"/>
<stop offset="0.2500" stop-color="#58c123"/>
<stop offset="0.2583" stop-color="#59bf24"/>
<stop offset="0.2667" stop-color="#5abc24"/>
<stop offset="0.2750" stop-color="#5bba24"/>
<stop offset="0.2833" stop-color="#5db725"/>
<stop offset="0.2917" stop-color="#5eb425"/>
<stop offset="0.3000" stop-color="#5fb226"/>
<stop offset="0.3083" stop-color="#60af26"/>
<stop offset="0.3167" stop-color="#62ac27"/>
<stop offset="0.3250" stop-color="#63aa27"/>
<stop offset="0.3333" stop-color="#64a727"/>
<stop offset="0.3417" stop-color="#65a528"/>
<stop offset="0.3500" stop-color="#67a228"/>
<stop offset="0.3583" stop-color="#68a028"/>
<stop offset="0.3667" stop-color="#6a9e28"/>
<stop offset="0.3750" stop-color="#6b9d27"/>
<stop offset="0.3833" stop-color="#6d9b27"/>
<stop offset="0.3917" stop-color="#6f9927"/>
<stop offset="0.4000" stop-color="#709727"/>
<stop offset="0.4083" stop-color="#729527"/>
<stop offset="0.4167" stop-color="#739327"/>
<stop offset="0.4250" stop-color="#759126"/>
<stop offset="0.4333" stop-color="#768f26"/>
<stop offset="0.4417" stop-color="#788e26"/>
<stop offset="0.4500" stop-color="#7a8c26"/>
<stop offset="0.4583" stop-color="#7b8a26"/>
<stop offset="0.4667" stop-color="#7d8826"/>
<stop offset="0.4750" stop-color="#7e8625"/>
<stop offset="0.4833" stop-color="#808425"/>
<stop offset="0.4917" stop-color="#828225"/>
<stop offset="0.5000" stop-color="#838025"/>
<stop offset="0.5083" stop-color="#857f25"/>
<stop offset="0.5167" stop-color="#867d25"/>
<stop offset="0.5250" stop-color="#887b24"/>
<stop offset="0.5333" stop-color="#897924"/>
<stop offset="0.5417" stop-color="#8b7724"/>
<stop offset="0.5500" stop-color="#8d7524"/>
<stop offset="0.5583" stop-color="#8f7424"/>
<stop offset="0.5667" stop-color="#917223"/>
<stop offset="0.5750" stop-color="#937023"/>
<stop offset="0.5833" stop-color="#956e23"/>
<stop offset="0.5917" stop-color="#976d23"/>
<stop offset="0.6000" stop-color="#996b22"/>
<stop offset="0.6083" stop-color="#9b6922"/>
<stop offset="0.6167" stop-color="#9e6722"/>
<stop offset="0.6250" stop-color="#a06622"/>
<stop offset="0.6333" stop-color="#a26421"/>
<stop offset="0.6417" stop-color="#a46221"/>
<stop offset="0.6500" stop-color="#a66021"/>
<stop offset="0.6583" stop-color="#a85f21"/>
<stop offset="0.6667" stop-color="#aa5d20"/>
<stop offset="0.6750" stop-color="#ac5b20"/>
<stop offset="0.6833" stop-color="#ae5920"/>
<stop offset="0.6917" stop-color="#b05820"/>
<stop offset="0.7000" stop-color="#b2561f"/>
<stop offset="0.7083" stop-color="#b4541f"/>
<stop offset="0.7167" stop-color="#b6521f"/>
<stop offset="0.7250" stop-color="#b9511f"/>
<stop offset="0.7333" stop-color="#bb4f1e"/>
<stop offset="0.7417" stop-color="#bd4d1e"/>
<stop offset="0.7500" stop-color="#bf4b1e"/>
<stop offset="0.7583" stop-color="#c14a1d"/>
<stop offset="0.7667" stop-color="#c3481d"/>
<stop offset="0.7750" stop-color="#c5471d"/>
<stop offset="0.7833" stop-color="#c7451c"/>
<stop offset="0.7917" stop-color="#c9431c"/>
<stop offset="0.8000" stop-color="#cb421b"/>
<stop offset="0.8083" stop-color="#cd401b"/>
<stop offset="0.8167" stop-color="#cf3f1b"/>
<stop offset="0.8250" stop-color="#d23d1a"/>
<stop offset="0.8333" stop-color="#d43c1a"/>
<stop offset="0.8417" stop-color="#d63a19"/>
<stop offset="0.8500" stop-color="#d83819"/>
<stop offset="0.8583" stop-color="#da3718"/>
<stop offset="0.8667" stop-color="#dc3518"/>
<stop offset="0.8750" stop-color="#de3418"/>
<stop offset="0.8833" stop-color="#e03217"/>
<stop offset="0.8917" stop-color="#e23017"/>
<stop offset="0.9000" stop-color="#e42f16"/>
<stop offset="0.9083" stop-color="#e62d16"/>
<stop offset="0.9167" stop-color="#e82c16"/>
<stop offset="0.9250" stop-color="#eb2a15"/>
<stop offset="0.9333" stop-color="#ed2915"/>
<stop offset="0.9417" stop-color="#ef2714"/>
<stop offset="0.9500" stop-color="#f12614"/>
<stop offset="0.9583" stop-color="#f32413"/>
<stop offset="0.9667" stop-color="#f62313"/>
<stop offset="0.9750" stop-color="#f82212"/>
<stop offset="0.9833" stop-color="#fa2111"/>
<stop offset="0.9917" stop-color="#fd1f11"/>
<stop offset="1.0000" stop-color="#ff1e10"/>
</linearGradient></defs>
<rect x="652.50" y="70.20" width="16.10" height="326.00" fill="url(#g652)" stroke="#222" stroke-width="1"/>
<path d="M668.60 348.45h-11.50M668.60 283.23h-11.50M668.60 218.00h-11.50M668.60 152.78h-11.50M668.60 87.55h-11.50" stroke="#fff" stroke-width="2" fill="none"/>
<text x="672.40" y="359.85" font-family="'DejaVu Sans', 'Liberation Sans', sans-serif" font-size="30.40" text-anchor="start">0.5</text>
<text x="672.40" y="294.63" font-family="'DejaVu Sans', 'Liberation Sans', sans-serif" font-size="30.40" text-anchor="start">1.0</text>
<text x="672.40" y="229.40" font-family="'DejaVu Sans', 'Liberation Sans', sans-serif" font-size="30.40" text-anchor="start">1.5</text>
<text x="672.40" y="164.18" font-family="'DejaVu Sans', 'Liberation Sans', sans-serif" font-size="30.40" text-anchor="start">2.0</text>
<text x="672.40" y="98.95" font-family="'DejaVu Sans', 'Liberation Sans', sans-serif" font-size="30.40" text-anchor="start">2.5</text>
<defs><linearGradient id="g1902" x1="0" y1="1" x2="0" y2="0">
<stop offset="0.0000" stop-color="#eaa62c"/>
<stop offset="0.0083" stop-color="#e8a42d"/>
<stop offset="0.0167" stop-color="#e7a22e"/>
<stop offset="0.0250" stop-color="#e5a02f"/>
<stop offset="0.0333" stop-color="#e49e30"/>
<stop offset="0.0417" stop-color="#e29c31"/>
<stop offset="0.0500" stop-color="#e09a32"/>
<stop offset="0.0583" stop-color="#df9833"/>
<stop offset="0.0667" stop-color="#dd9634"/>
<stop offset="0.0750" stop-color="#dc9435"/>
<stop offset="0.0833" stop-color="#da9236"/>
<stop offset="0.0917" stop-color="#d89037"/>
<stop offset="0.1000" stop-color="#d78e38"/>
<stop offset="0.1083" stop-color="#d58c38"/>
<stop offset="0.1167" stop-color="#d48a39"/>
<stop offset="0.1250" stop-color="#d2883a"/>
<stop offset="0.1333" stop-color="#d0863b"/>
<stop offset="0.1417" stop-color="#cf843c"/>
<stop offset="0.1500" stop-color="#cd823d"/>
<stop offset="0.1583" stop-color="#cb803e"/>
<stop offset="0.1667" stop-color="#c97e3f"/>
<stop offset="0.1750" stop-color="#c77d41"/>
<stop offset="0.1833" stop-color="#c57b42"/>
<stop offset="0.1917" stop-color="#c27a43"/>
<stop offset="0.2000" stop-color="#c07844"/>
<stop offset="0.2083" stop-color="#be7745"/>
<stop offset="0.2167" stop-color="#bc7547"/>
<stop offset="0.2250" stop-color="#ba7448"/>
<stop offset="0.2333" stop-color="#b77249"/>
<stop offset="0.2417" stop-color="#b5714a"/>
<stop offset="0.2500" stop-color="#b36f4b"/>
<stop offset="0.2583" stop-color="#b16e4c"/>
<stop offset="0.2667" stop-color="#ae6c4e"/>
<stop offset="0.2750" stop-color="#ac6b4f"/>
<stop offset="0.2833" stop-color="#aa6950"/>
<stop offset="0.2917" stop-color="#a86851"/>
<stop offset="0.3000" stop-color="#a56652"/>
<stop offset="0.3083" stop-color="#a36553"/>
<stop offset="0.3167" stop-color="#a16355"/>
<stop offset="0.3250" stop-color="#9f6256"/>
<stop offset="0.3333" stop-color="#9d6157"/>
<stop offset="0.3417" stop-color="#9b6059"/>
<stop offset="0.3500" stop-color="#995f5a"/>
<stop offset="0.3583" stop-color="#975e5c"/>
<stop offset="0.3667" stop-color="#965d5d"/>
<stop offset="0.3750" stop-color="#945c5e"/>
<stop offset="0.3833" stop-color="#925b60"/>
<stop offset="0.3917" stop-color="#905a61"/>
<stop offset="0.4000" stop-color="#8e5963"/>
<stop offset="0.4083" stop-color="#8c5864"/>
<stop offset="0.4167" stop-color="#8a5765"/>
<stop offset="0.4250" stop-color="#885667"/>
<stop offset="0.4333" stop-color="#865568"/>
<stop offset="0.4417" stop-color="#845369"/>
<stop offset="0.4500" stop-color="#82526b"/>
<stop offset="0.4583" stop-color="#80516c"/>
<stop offset="0.4667" stop-color="#7e506e"/>
<stop offset="0.4750" stop-color="#7d4f70"/>
<stop offset="0.4833" stop-color="#7b4f72"/>
<stop offset="0.4917" stop-color="#7a4e74"/>
<stop offset="0.5000" stop-color="#784d76"/>
<stop offset="0.5083" stop-color="#764c78"/>
<stop offset="0.5167" stop-color="#754b7a"/>
<stop offset="0.5250" stop-color="#734a7c"/>
<stop offset="0.5333" stop-color="#72497f"/>
<stop offset="0.5417" stop-color="#704981"/>
<stop offset="0.5500" stop-color="#6e4883"/>
<stop offset="0.5583" stop-color="#6d4785"/>
<stop offset="0.5667" stop-color="#6b4687"/>
<stop offset="0.5750" stop-color="#6a4589"/>
<stop offset="0.5833" stop-color="#68448b"/>
<stop offset="0.5917" stop-color="#66438d"/>
<stop offset="0.6000" stop-color="#654390"/>
<stop offset="0.6083" stop-color="#634292"/>
<stop offset="0.6167" stop-color="#624194"/>
<stop offset="0.6250" stop-color="#604096"/>
<stop offset="0.6333" stop-color="#5f3f99"/>
<stop offset="0.6417" stop-color="#5d3e9d"/>
<stop offset="0.6500" stop-color="#5c3da0"/>
<stop offset="0.6583" stop-color="#5a3ca3"/>
<stop offset="0.6667" stop-color="#593ba7"/>
<stop offset="0.6750" stop-color="#583aaa"/>
<stop offset="0.6833" stop-color="#5639ad"/>
<stop offset="0.6917" stop-color="#5537b0"/>
<stop offset="0.7000" stop-color="#5436b4"/>
<stop offset="0.7083" stop-color="#5235b7"/>
<stop offset="0.7167" stop-color="#5134ba"/>
<stop offset="0.7250" stop-color="#4f33be"/>
<stop offset="0.7333" stop-color="#4e32c1"/>
<stop offset="0.7417" stop-color="#4d31c4"/>
<stop offset="0.7500" stop-color="#4b30c8"/>
<stop offset="0.7583" stop-color="#4a2fcb"/>
<stop offset="0.7667" stop-color="#482ece"/>
<stop offset="0.7750" stop-color="#472dd2"/>
<stop offset="0.7833" stop-color="#462cd5"/>
<stop offset="0.7917" stop-color="#442ad7"/>
<stop offset="0.8000" stop-color="#4228d9"/>
<stop offset="0.8083" stop-color="#4027db"/>
<stop offset="0.8167" stop-color="#3e25dd"/>
<stop offset="0.8250" stop-color="#3c24df"/>
<stop offset="0.8333" stop-color="#3b22e1"/>
<stop offset="0.8417" stop-color="#3920e3"/>
<stop offset="0.8500" stop-color="#371fe5"/>
<stop offset="0.8583" stop-color="#351de7"/>
<stop offset="0.8667" stop-color="#331ce9"/>
<stop offset="0.8750" stop-color="#321aeb"/>
<stop offset="0.8833" stop-color="#3018ed"/>
<stop offset="0.8917" stop-color="#2e17ef"/>
<stop offset="0.9000" stop-color="#2c15f1"/>
<stop offset="0.9083" stop-color="#2a14f3"/>
<stop offset="0.9167" stop-color="#2912f5"/>
<stop offset="0.9250" stop-color="#2710f7"/>
<stop offset="0.9333" stop-color="#250ff9"/>
<stop offset="0.9417" stop-color="#230dfa"/>
<stop offset="0.9500" stop-color="#220cfb"/>
<stop offset="0.9583" stop-color="#200bfc"/>
<stop offset="0.9667" stop-color="#1e09fc"/>
<stop offset="0.9750" stop-color="#1d08fd"/>
<stop offset="0.9833" stop-color="#1b07fe"/>
<stop offset="0.9917" stop-color="#1a05fe"/>
<stop offset="1.0000" stop-color="#1804ff"/>
</linearGradient></defs>
<rect x="1902.60" y="553.70" width="17.00" height="339.50" fill="url(#g1902)" stroke="#222" stroke-width="1"/>
<path d="M1919.60 893.20h-11.50M1919.60 840.15h-11.50M1919.60 787.11h-11.50M1919.60 734.06h-11.50M1919.60 681.01h-11.50M1919.60 627.97h-11.50M1919.60 574.92h-11.50" stroke="#fff" stroke-width="2" fill="none"/>
<text x="1923.40" y="904.60" font-family="'DejaVu Sans', 'Liberation Sans', sans-serif" font-size="30.40" text-anchor="start">5.0</text>
<text x="1923.40" y="851.55" font-family="'DejaVu Sans', 'Liberation Sans', sans-serif" font-size="30.40" text-anchor="start">7.5</text>
<text x="1923.40" y="798.51" font-family="'DejaVu Sans', 'Liberation Sans', sans-serif" font-size="30.40" text-anchor="start">10.0</text>
<text x="1923.40" y="745.46" font-family="'DejaVu Sans', 'Liberation Sans', sans-serif" font-size="30.40" text-anchor="start">12.5</text>
<text x="1923.40" y="692.41" font-family="'DejaVu Sans', 'Liberation Sans', sans-serif" font-size="30.40" text-anchor="start">15.0</text>
<text x="1923.40" y="639.37" font-family="'DejaVu Sans', 'Liberation Sans', sans-serif" font-size="30.40" text-anchor="start">17.5</text>
<text x="1923.40" y="586.32" font-family="'DejaVu Sans', 'Liberation Sans', sans-serif" font-size="30.40" text-anchor="start">20.0</text>
<text x="96.60" y="412.70" font-family="'DejaVu Sans', 'Liberation Sans', sans-serif" font-size="34.10" text-anchor="end">0</text>
<text x="96.60" y="335.82" font-family="'DejaVu Sans', 'Liberation Sans', sans-serif" font-size="34.10" text-anchor="end">10</text>
<text x="96.60" y="258.94" font-family="'DejaVu Sans', 'Liberation Sans', sans-serif" font-size="34.10" text-anchor="end">20</text>
<text x="96.60" y="182.06" font-family="'DejaVu Sans', 'Liberation Sans', sans-serif" font-size="34.10" text-anchor="end">30</text>
<text x="96.60" y="105.18" font-family="'DejaVu Sans', 'Liberation Sans', sans-serif" font-size="34.10" text-anchor="end">40</text>
<text x="96.60" y="28.30" font-family="'DejaVu Sans', 'Liberation Sans', sans-serif" font-size="34.10" text-anchor="end">50</text>
<text x="219.37" y="430.80" font-family="'DejaVu Sans', 'Liberation Sans', sans-serif" font-size="34.10" text-anchor="middle">−100</text>
<text x="366.95" y="430.80" font-family="'DejaVu Sans', 'Liberation Sans', sans-serif" font-size="34.10" text-anchor="middle">0</text>
<text x="514.53" y="430.80" font-family="'DejaVu Sans', 'Liberation Sans', sans-serif" font-size="34.10" text-anchor="middle">100</text>
<text x="859.30" y="412.50" font-family="'DejaVu Sans', 'Liberation Sans', sans-serif" font-size="34.10" text-anchor="end">0</text>
<text x="859.30" y="335.58" font-family="'DejaVu Sans', 'Liberation Sans', sans-serif" font-size="34.10" text-anchor="end">10</text>
<text x="859.30" y="258.66" font-family="'DejaVu Sans', 'Liberation Sans', sans-serif" font-size="34.10" text-anchor="end">20</text>
<text x="859.30" y="181.74" font-family="'DejaVu Sans', 'Liberation Sans', sans-serif" font-size="34.10" text-anchor="end">30</text>
<text x="859.30" y="104.82" font-family="'DejaVu Sans', 'Liberation Sans', sans-serif" font-size="34.10" text-anchor="end">40</text>
<text x="859.30" y="27.90" font-family="'DejaVu Sans', 'Liberation Sans', sans-serif" font-size="34.10" text-anchor="end">50</text>
<text x="982.04" y="430.60" font-family="'DejaVu Sans', 'Liberation Sans', sans-serif" font-size="34.10" text-anchor="middle">−100</text>
<text x="1129.60" y="430.60" font-family="'DejaVu Sans', 'Liberation Sans', sans-serif" font-size="34.10" text-anchor="middle">0</text>
<text x="1277.16" y="430.60" font-family="'DejaVu Sans', 'Liberation Sans', sans-serif" font-size="34.10" text-anchor="middle">100</text>
<text x="1535.50" y="413.10" font-family="'DejaVu Sans', 'Liberation Sans', sans-serif" font-size="34.10" text-anchor="end">5</text>
<text x="1535.50" y="303.70" font-family="'DejaVu Sans', 'Liberation Sans', sans-serif" font-size="34.10" text-anchor="end">10</text>
<text x="1535.50" y="184.90" font-family="'DejaVu Sans', 'Liberation Sans', sans-serif" font-size="34.10" text-anchor="end">20</text>
<text x="1535.50" y="115.00" font-family="'DejaVu Sans', 'Liberation Sans', sans-serif" font-size="34.10" text-anchor="end">30</text>
<text x="1535.50" y="63.90" font-family="'DejaVu Sans', 'Liberation Sans', sans-serif" font-size="34.10" text-anchor="end">40</text>
<text x="1543.30" y="441.50" font-family="'DejaVu Sans', 'Liberation Sans', sans-serif" font-size="34.10" text-anchor="middle">−20</text>
<text x="1650.03" y="441.50" font-family="'DejaVu Sans', 'Liberation Sans', sans-serif" font-size="34.10" text-anchor="middle">−10</text>
<text x="1756.75" y="441.50" font-family="'DejaVu Sans', 'Liberation Sans', sans-serif" font-size="34.10" text-anchor="middle">0</text>
<text x="1863.47" y="441.50" font-family="'DejaVu Sans', 'Liberation Sans', sans-serif" font-size="34.10" text-anchor="middle">10</text>
<text x="1970.20" y="441.50" font-family="'DejaVu Sans', 'Liberation Sans', sans-serif" font-size="34.10" text-anchor="middle">20</text>
<text x="149.60" y="905.10" font-family="'DejaVu Sans', 'Liberation Sans', sans-serif" font-size="34.10" text-anchor="end">−0.4</text>
<text x="149.60" y="815.73" font-family="'DejaVu Sans', 'Liberation Sans', sans-serif" font-size="34.10" text-anchor="end">−0.2</text>
<text x="149.60" y="726.35" font-family="'DejaVu Sans', 'Liberation Sans', sans-serif" font-size="34.10" text-anchor="end">0.0</text>
<text x="149.60" y="636.97" font-family="'DejaVu Sans', 'Liberation Sans', sans-serif" font-size="34.10" text-anchor="end">0.2</text>
<text x="149.60" y="547.60" font-family="'DejaVu Sans', 'Liberation Sans', sans-serif" font-size="34.10" text-anchor="end">0.4</text>
<text x="154.30" y="923.20" font-family="'DejaVu Sans', 'Liberation Sans', sans-serif" font-size="34.10" text-anchor="middle">−2</text>
<text x="268.45" y="923.20" font-family="'DejaVu Sans', 'Liberation Sans', sans-serif" font-size="34.10" text-anchor="middle">−1</text>
<text x="382.60" y="923.20" font-family="'DejaVu Sans', 'Liberation Sans', sans-serif" font-size="34.10" text-anchor="middle">0</text>
<text x="496.75" y="923.20" font-family="'DejaVu Sans', 'Liberation Sans', sans-serif" font-size="34.10" text-anchor="middle">1</text>
<text x="610.90" y="923.20" font-family="'DejaVu Sans', 'Liberation Sans', sans-serif" font-size="34.10" text-anchor="middle">2</text>
<text x="802.80" y="905.40" font-family="'DejaVu Sans', 'Liberation Sans', sans-serif" font-size="34.10" text-anchor="end">−0.4</text>
<text x="802.80" y="815.95" font-family="'DejaVu Sans', 'Liberation Sans', sans-serif" font-size="34.10" text-anchor="end">−0.2</text>
<text x="802.80" y="726.50" font-family="'DejaVu Sans', 'Liberation Sans', sans-serif" font-size="34.10" text-anchor="end">0.0</text>
<text x="802.80" y="637.05" font-family="'DejaVu Sans', 'Liberation Sans', sans-serif" font-size="34.10" text-anchor="end">0.2</text>
<text x="802.80" y="547.60" font-family="'DejaVu Sans', 'Liberation Sans', sans-serif" font-size="34.10" text-anchor="end">0.4</text>
<text x="807.50" y="923.50" font-family="'DejaVu Sans', 'Liberation Sans', sans-serif" font-size="34.10" text-anchor="middle">−2</text>
<text x="921.58" y="923.50" font-family="'DejaVu Sans', 'Liberation Sans', sans-serif" font-size="34.10" text-anchor="middle">−1</text>
<text x="1035.65" y="923.50" font-family="'DejaVu Sans', 'Liberation Sans', sans-serif" font-size="34.10" text-anchor="middle">0</text>
<text x="1149.72" y="923.50" font-family="'DejaVu Sans', 'Liberation Sans', sans-serif" font-size="34.10" text-anchor="middle">1</text>
<text x="1263.80" y="923.50" font-family="'DejaVu Sans', 'Liberation Sans', sans-serif" font-size="34.10" text-anchor="middle">2</text>
<text x="1415.30" y="650.10" font-family="'DejaVu Sans', 'Liberation Sans', sans-serif" font-size="33.90" text-anchor="end">10</text>
<text x="1415.00" y="777.30" font-family="'DejaVu Sans', 'Liberation Sans', sans-serif" font-size="33.90" text-anchor="end">5</text>
<text x="1416.40" y="889.30" font-family="'DejaVu Sans', 'Liberation Sans', sans-serif" font-size="33.90" text-anchor="end">0</text>
<text x="1439.80" y="926.20" font-family="'DejaVu Sans', 'Liberation Sans', sans-serif" font-size="33.30" text-anchor="middle">0.0</text>
<text x="1605.30" y="926.20" font-family="'DejaVu Sans', 'Liberation Sans', sans-serif" font-size="33.30" text-anchor="middle">0.1</text>
<text x="1786.30" y="926.20" font-family="'DejaVu Sans', 'Liberation Sans', sans-serif" font-size="33.30" text-anchor="middle">0.2</text>
<text x="118.80" y="55.25" font-family="'DejaVu Sans', 'Liberation Sans', sans-serif" font-size="34.50" text-anchor="start">(a)</text>
<text x="879.60" y="52.95" font-family="'DejaVu Sans', 'Liberation Sans', sans-serif" font-size="34.50" text-anchor="start">(b)</text>
<text x="1550.40" y="89.25" font-family="'DejaVu Sans', 'Liberation Sans', sans-serif" font-size="34.50" text-anchor="start">(c)</text>
<text x="164.70" y="576.05" font-family="'DejaVu Sans', 'Liberation Sans', sans-serif" font-size="34.50" text-anchor="start">(d)</text>
<text x="815.10" y="571.35" font-family="'DejaVu Sans', 'Liberation Sans', sans-serif" font-size="34.50" text-anchor="start">(e)</text>
<text x="1434.70" y="576.05" font-family="'DejaVu Sans', 'Liberation Sans', sans-serif" font-size="34.50" text-anchor="start">(f)</text>
<text transform="translate(28.90 275.80) rotate(-90) translate(-1.34 -0.33) scale(1.323 1)" font-family="'Liberation Serif', serif" font-style="italic" font-size="33.88" fill="#000" stroke="#fff" stroke-width="0.46">σ</text>
<text transform="translate(33.80 252.10) rotate(-90) translate(-1.64 -0.29) scale(1.126 1)" font-family="'Liberation Serif', serif" font-style="italic" font-size="29.90" fill="#000" stroke="#fff" stroke-width="0.30">θ</text>
<text transform="translate(34.00 236.60) rotate(-90) translate(0.35 0.00) scale(0.953 1)" font-family="'Liberation Serif', serif" font-style="italic" font-size="32.25" fill="#000" stroke="#fff" stroke-width="0.39">z</text>
<text transform="translate(42.20 208.50) rotate(-90) translate(-6.83 -5.80) scale(1.420 1)" font-family="'DejaVu Sans', sans-serif" font-weight="200" font-size="43.97" fill="#000">(</text>
<text transform="translate(31.80 190.00) rotate(-90) translate(-3.57 0.00) scale(1.023 1)" font-family="'DejaVu Sans', sans-serif" font-size="35.53" fill="#000">P</text>
<text transform="translate(31.80 172.20) rotate(-90) translate(-2.12 -0.44) scale(1.145 1)" font-family="'DejaVu Sans', sans-serif" font-size="30.82" fill="#000">a</text>
<text transform="translate(42.20 144.80) rotate(-90) translate(-5.48 -5.80) scale(1.139 1)" font-family="'DejaVu Sans', sans-serif" font-weight="200" font-size="43.97" fill="#000">)</text>
<text transform="translate(791.80 278.80) rotate(-90) translate(-1.34 -0.33) scale(1.323 1)" font-family="'Liberation Serif', serif" font-style="italic" font-size="33.88" fill="#000" stroke="#fff" stroke-width="0.46">σ</text>
<text transform="translate(796.70 255.10) rotate(-90) translate(-1.64 -0.29) scale(1.126 1)" font-family="'Liberation Serif', serif" font-style="italic" font-size="29.90" fill="#000" stroke="#fff" stroke-width="0.30">θ</text>
<text transform="translate(796.90 239.60) rotate(-90) translate(0.35 0.00) scale(0.953 1)" font-family="'Liberation Serif', serif" font-style="italic" font-size="32.25" fill="#000" stroke="#fff" stroke-width="0.39">z</text>
<text transform="translate(805.10 211.50) rotate(-90) translate(-6.83 -5.80) scale(1.420 1)" font-family="'DejaVu Sans', sans-serif" font-weight="200" font-size="43.97" fill="#000">(</text>
<text transform="translate(794.70 193.00) rotate(-90) translate(-3.57 0.00) scale(1.023 1)" font-family="'DejaVu Sans', sans-serif" font-size="35.53" fill="#000">P</text>
<text transform="translate(794.70 175.20) rotate(-90) translate(-2.12 -0.44) scale(1.145 1)" font-family="'DejaVu Sans', sans-serif" font-size="30.82" fill="#000">a</text>
<text transform="translate(805.10 147.80) rotate(-90) translate(-5.48 -5.80) scale(1.139 1)" font-family="'DejaVu Sans', sans-serif" font-weight="200" font-size="43.97" fill="#000">)</text>
<text transform="translate(1461.80 288.00) rotate(-90) translate(-1.34 -0.33) scale(1.323 1)" font-family="'Liberation Serif', serif" font-style="italic" font-size="33.88" fill="#000" stroke="#fff" stroke-width="0.46">σ</text>
<text transform="translate(1466.70 264.30) rotate(-90) translate(-1.64 -0.29) scale(1.126 1)" font-family="'Liberation Serif', serif" font-style="italic" font-size="29.90" fill="#000" stroke="#fff" stroke-width="0.30">θ</text>
<text transform="translate(1466.90 248.80) rotate(-90) translate(0.35 0.00) scale(0.953 1)" font-family="'Liberation Serif', serif" font-style="italic" font-size="32.25" fill="#000" stroke="#fff" stroke-width="0.39">z</text>
<text transform="translate(1475.10 220.70) rotate(-90) translate(-6.83 -5.80) scale(1.420 1)" font-family="'DejaVu Sans', sans-serif" font-weight="200" font-size="43.97" fill="#000">(</text>
<text transform="translate(1464.70 202.20) rotate(-90) translate(-3.57 0.00) scale(1.023 1)" font-family="'DejaVu Sans', sans-serif" font-size="35.53" fill="#000">P</text>
<text transform="translate(1464.70 184.40) rotate(-90) translate(-2.12 -0.44) scale(1.145 1)" font-family="'DejaVu Sans', sans-serif" font-size="30.82" fill="#000">a</text>
<text transform="translate(1475.10 157.00) rotate(-90) translate(-5.48 -5.80) scale(1.139 1)" font-family="'DejaVu Sans', sans-serif" font-weight="200" font-size="43.97" fill="#000">)</text>
<rect x="29.60" y="637.50" width="2.00" height="162.70" fill="#000"/>
<text transform="translate(22.20 797.90) rotate(-90) translate(-1.34 -0.32) scale(1.370 1)" font-family="'Liberation Serif', serif" font-style="italic" font-size="32.74" fill="#000" stroke="#fff" stroke-width="0.41">σ</text>
<text transform="translate(28.40 774.00) rotate(-90) translate(-2.49 -0.24) scale(2.046 1)" font-family="'Liberation Serif', serif" font-style="italic" font-size="24.97" fill="#000" stroke="#fff" stroke-width="0.10">θ</text>
<text transform="translate(28.40 752.60) rotate(-90) translate(0.46 0.00) scale(1.789 1)" font-family="'Liberation Serif', serif" font-style="italic" font-size="23.09" fill="#000" stroke="#fff" stroke-width="0.10">z</text>
<text transform="translate(13.90 733.00) rotate(-90) translate(-3.04 17.88) scale(1.048 1)" font-family="'Liberation Serif', serif" font-size="58.23" fill="#000" stroke="#fff" stroke-width="1.00">−</text>
<text transform="translate(22.20 699.30) rotate(-90) translate(-1.44 -0.33) scale(1.431 1)" font-family="'Liberation Serif', serif" font-style="italic" font-size="33.88" fill="#000" stroke="#fff" stroke-width="0.46">σ</text>
<text transform="translate(28.40 671.80) rotate(-90) translate(-0.47 -0.27) scale(1.408 1)" font-family="'Liberation Serif', serif" font-style="italic" font-size="27.45" fill="#000" stroke="#fff" stroke-width="0.20">s</text>
<text transform="translate(28.40 656.70) rotate(-90) translate(-0.47 -0.27) scale(1.408 1)" font-family="'Liberation Serif', serif" font-style="italic" font-size="27.45" fill="#000" stroke="#fff" stroke-width="0.20">s</text>
<text transform="translate(63.10 748.20) rotate(-90) translate(-1.34 -0.30) scale(1.472 1)" font-family="'Liberation Serif', serif" font-style="italic" font-size="30.45" fill="#000" stroke="#fff" stroke-width="0.32">σ</text>
<text transform="translate(68.40 722.40) rotate(-90) translate(-0.50 -0.23) scale(1.713 1)" font-family="'Liberation Serif', serif" font-style="italic" font-size="23.91" fill="#000" stroke="#fff" stroke-width="0.10">s</text>
<text transform="translate(68.40 706.40) rotate(-90) translate(-0.47 -0.23) scale(1.604 1)" font-family="'Liberation Serif', serif" font-style="italic" font-size="23.91" fill="#000" stroke="#fff" stroke-width="0.10">s</text>
<rect x="686.00" y="635.10" width="2.00" height="162.70" fill="#000"/>
<text transform="translate(678.60 795.50) rotate(-90) translate(-1.34 -0.32) scale(1.370 1)" font-family="'Liberation Serif', serif" font-style="italic" font-size="32.74" fill="#000" stroke="#fff" stroke-width="0.41">σ</text>
<text transform="translate(684.80 771.60) rotate(-90) translate(-2.49 -0.24) scale(2.046 1)" font-family="'Liberation Serif', serif" font-style="italic" font-size="24.97" fill="#000" stroke="#fff" stroke-width="0.10">θ</text>
<text transform="translate(684.80 750.20) rotate(-90) translate(0.46 0.00) scale(1.789 1)" font-family="'Liberation Serif', serif" font-style="italic" font-size="23.09" fill="#000" stroke="#fff" stroke-width="0.10">z</text>
<text transform="translate(670.30 730.60) rotate(-90) translate(-3.04 17.88) scale(1.048 1)" font-family="'Liberation Serif', serif" font-size="58.23" fill="#000" stroke="#fff" stroke-width="1.00">−</text>
<text transform="translate(678.60 696.90) rotate(-90) translate(-1.44 -0.33) scale(1.431 1)" font-family="'Liberation Serif', serif" font-style="italic" font-size="33.88" fill="#000" stroke="#fff" stroke-width="0.46">σ</text>
<text transform="translate(684.80 669.40) rotate(-90) translate(-0.47 -0.27) scale(1.408 1)" font-family="'Liberation Serif', serif" font-style="italic" font-size="27.45" fill="#000" stroke="#fff" stroke-width="0.20">s</text>
<text transform="translate(684.80 654.30) rotate(-90) translate(-0.47 -0.27) scale(1.408 1)" font-family="'Liberation Serif', serif" font-style="italic" font-size="27.45" fill="#000" stroke="#fff" stroke-width="0.20">s</text>
<text transform="translate(719.50 745.80) rotate(-90) translate(-1.34 -0.30) scale(1.472 1)" font-family="'Liberation Serif', serif" font-style="italic" font-size="30.45" fill="#000" stroke="#fff" stroke-width="0.32">σ</text>
<text transform="translate(724.80 720.00) rotate(-90) translate(-0.50 -0.23) scale(1.713 1)" font-family="'Liberation Serif', serif" font-style="italic" font-size="23.91" fill="#000" stroke="#fff" stroke-width="0.10">s</text>
<text transform="translate(724.80 704.00) rotate(-90) translate(-0.47 -0.23) scale(1.604 1)" font-family="'Liberation Serif', serif" font-style="italic" font-size="23.91" fill="#000" stroke="#fff" stroke-width="0.10">s</text>
<text transform="translate(1341.10 773.40) rotate(-90) translate(-2.08 0.00) scale(1.164 1)" font-family="'Liberation Serif', serif" font-size="46.96" fill="#000" stroke="#fff" stroke-width="0.98">Δ</text>
<text transform="translate(1341.10 741.60) rotate(-90) translate(-2.77 -0.44) scale(1.388 1)" font-family="'Liberation Serif', serif" font-style="italic" font-size="45.39" fill="#000" stroke="#fff" stroke-width="0.92">t</text>
<text transform="translate(1347.80 725.60) rotate(-90) translate(-2.69 0.00) scale(1.339 1)" font-family="'Liberation Serif', serif" font-style="italic" font-size="30.70" fill="#000" stroke="#fff" stroke-width="0.33">T</text>
<text transform="translate(1347.80 701.30) rotate(-90) translate(-3.55 0.00) scale(1.325 1)" font-family="'Liberation Serif', serif" font-size="30.45" fill="#000" stroke="#fff" stroke-width="0.32">1</text>
<text transform="translate(1351.10 662.00) rotate(-90) translate(-6.77 -6.31) scale(1.292 1)" font-family="'DejaVu Sans', sans-serif" font-weight="200" font-size="47.89" fill="#000">(</text>
<text transform="translate(1340.20 649.40) rotate(-90) translate(-2.18 -0.48) scale(1.196 1)" font-family="'DejaVu Sans', sans-serif" font-size="33.61" fill="#000">s</text>
<text transform="translate(1351.10 629.30) rotate(-90) translate(-6.71 -6.31) scale(1.281 1)" font-family="'DejaVu Sans', sans-serif" font-weight="200" font-size="47.89" fill="#000">)</text>
<text transform="translate(317.10 471.60) translate(-1.88 0.00) scale(1.193 1)" font-family="'Liberation Serif', serif" font-size="41.35" fill="#000" stroke="#fff" stroke-width="0.75">Δ</text>
<text transform="translate(348.50 471.90) translate(-1.99 -0.41) scale(1.076 1)" font-family="'Liberation Serif', serif" font-style="italic" font-size="42.08" fill="#000" stroke="#fff" stroke-width="0.78">t</text>
<text transform="translate(377.30 481.80) translate(-5.85 -5.74) scale(1.228 1)" font-family="'DejaVu Sans', sans-serif" font-weight="200" font-size="43.52" fill="#000">(</text>
<text transform="translate(391.00 471.90) translate(-1.95 -0.46) scale(1.096 1)" font-family="'DejaVu Sans', sans-serif" font-size="32.74" fill="#000">s</text>
<text transform="translate(408.50 481.80) translate(-5.60 -5.74) scale(1.177 1)" font-family="'DejaVu Sans', sans-serif" font-weight="200" font-size="43.52" fill="#000">)</text>
<text transform="translate(1079.10 467.90) translate(-1.88 0.00) scale(1.193 1)" font-family="'Liberation Serif', serif" font-size="41.35" fill="#000" stroke="#fff" stroke-width="0.75">Δ</text>
<text transform="translate(1110.50 468.20) translate(-1.99 -0.41) scale(1.076 1)" font-family="'Liberation Serif', serif" font-style="italic" font-size="42.08" fill="#000" stroke="#fff" stroke-width="0.78">t</text>
<text transform="translate(1139.30 478.10) translate(-5.85 -5.74) scale(1.228 1)" font-family="'DejaVu Sans', sans-serif" font-weight="200" font-size="43.52" fill="#000">(</text>
<text transform="translate(1153.00 468.20) translate(-1.95 -0.46) scale(1.096 1)" font-family="'DejaVu Sans', sans-serif" font-size="32.74" fill="#000">s</text>
<text transform="translate(1170.50 478.10) translate(-5.60 -5.74) scale(1.177 1)" font-family="'DejaVu Sans', sans-serif" font-weight="200" font-size="43.52" fill="#000">)</text>
<text transform="translate(1705.70 485.20) translate(-1.88 0.00) scale(1.193 1)" font-family="'Liberation Serif', serif" font-size="41.35" fill="#000" stroke="#fff" stroke-width="0.75">Δ</text>
<text transform="translate(1737.10 485.50) translate(-1.99 -0.41) scale(1.076 1)" font-family="'Liberation Serif', serif" font-style="italic" font-size="42.08" fill="#000" stroke="#fff" stroke-width="0.78">t</text>
<text transform="translate(1765.90 495.40) translate(-5.85 -5.74) scale(1.228 1)" font-family="'DejaVu Sans', sans-serif" font-weight="200" font-size="43.52" fill="#000">(</text>
<text transform="translate(1779.60 485.50) translate(-1.95 -0.46) scale(1.096 1)" font-family="'DejaVu Sans', sans-serif" font-size="32.74" fill="#000">s</text>
<text transform="translate(1797.10 495.40) translate(-5.60 -5.74) scale(1.177 1)" font-family="'DejaVu Sans', sans-serif" font-weight="200" font-size="43.52" fill="#000">)</text>
<text transform="translate(358.50 960.00) translate(-1.82 0.00) scale(1.342 1)" font-family="'Liberation Serif', serif" font-size="35.60" fill="#000" stroke="#fff" stroke-width="0.52">Δ</text>
<text transform="translate(388.80 967.30) translate(-2.69 -6.06) skewX(-14.00) scale(1.379 1)" font-family="'Noto Serif CJK SC', 'Liberation Serif', serif" font-size="29.27" fill="#000">γ</text>
<rect x="356.20" y="969.10" width="54.10" height="1.80" fill="#000"/>
<text transform="translate(357.10 1005.40) translate(-2.74 -6.17) skewX(-14.00) scale(1.292 1)" font-family="'Noto Serif CJK SC', 'Liberation Serif', serif" font-size="29.81" fill="#000">γ</text>
<text transform="translate(378.70 1003.70) translate(-0.45 -0.24) scale(1.527 1)" font-family="'Liberation Serif', serif" font-style="italic" font-size="24.12" fill="#000" stroke="#fff" stroke-width="0.10">ss</text>
<text transform="translate(1009.40 964.20) translate(-1.82 0.00) scale(1.342 1)" font-family="'Liberation Serif', serif" font-size="35.60" fill="#000" stroke="#fff" stroke-width="0.52">Δ</text>
<text transform="translate(1039.70 971.50) translate(-2.69 -6.06) skewX(-14.00) scale(1.379 1)" font-family="'Noto Serif CJK SC', 'Liberation Serif', serif" font-size="29.27" fill="#000">γ</text>
<rect x="1007.10" y="973.30" width="54.10" height="1.80" fill="#000"/>
<text transform="translate(1008.00 1009.60) translate(-2.74 -6.17) skewX(-14.00) scale(1.292 1)" font-family="'Noto Serif CJK SC', 'Liberation Serif', serif" font-size="29.81" fill="#000">γ</text>
<text transform="translate(1029.60 1007.90) translate(-0.45 -0.24) scale(1.527 1)" font-family="'Liberation Serif', serif" font-style="italic" font-size="24.12" fill="#000" stroke="#fff" stroke-width="0.10">ss</text>
<text transform="translate(1637.00 987.40) translate(-1.28 -10.33) scale(1.146 1)" font-family="'Liberation Serif', serif" font-style="italic" font-size="48.53" fill="#000" stroke="#fff" stroke-width="1.00">ϕ</text>
<text transform="translate(1664.70 985.40) translate(-0.75 -0.36) scale(0.980 1)" font-family="'Liberation Serif', serif" font-style="italic" font-size="37.32" fill="#000" stroke="#fff" stroke-width="0.59">ℓ</text>
<text transform="translate(650.40 52.90) translate(-1.95 0.00) scale(1.416 1)" font-family="'Liberation Serif', serif" font-style="italic" font-size="33.96" fill="#000" stroke="#fff" stroke-width="0.46">r</text>
<text transform="translate(681.00 60.90) translate(-4.92 -4.94) scale(1.202 1)" font-family="'DejaVu Sans', sans-serif" font-weight="200" font-size="37.46" fill="#000">(</text>
<text transform="translate(692.20 52.90) translate(-2.75 0.00) scale(1.154 1)" font-family="'DejaVu Sans', sans-serif" font-size="26.25" fill="#000">mm</text>
<text transform="translate(748.10 60.90) translate(-4.92 -4.94) scale(1.202 1)" font-family="'DejaVu Sans', sans-serif" font-weight="200" font-size="37.46" fill="#000">)</text>
<text transform="translate(1899.90 538.70) translate(-1.07 -8.71) scale(1.141 1)" font-family="'Liberation Serif', serif" font-style="italic" font-size="40.92" fill="#000" stroke="#fff" stroke-width="0.74">ϕ</text>
<text transform="translate(1923.30 536.80) translate(-0.65 -0.30) scale(1.024 1)" font-family="'Liberation Serif', serif" font-style="italic" font-size="30.95" fill="#000" stroke="#fff" stroke-width="0.34">ℓ</text>
<text transform="translate(1946.10 539.80) translate(-4.92 -5.00) scale(1.187 1)" font-family="'DejaVu Sans', sans-serif" font-weight="200" font-size="37.91" fill="#000">(</text>
<text transform="translate(1957.40 533.00) translate(-1.68 -0.43) scale(0.998 1)" font-family="'DejaVu Sans', sans-serif" font-size="30.54" fill="#000">%</text>
<text transform="translate(1988.50 539.80) translate(-5.05 -5.00) scale(1.217 1)" font-family="'DejaVu Sans', sans-serif" font-weight="200" font-size="37.91" fill="#000">)</text>
</svg></body></html>
